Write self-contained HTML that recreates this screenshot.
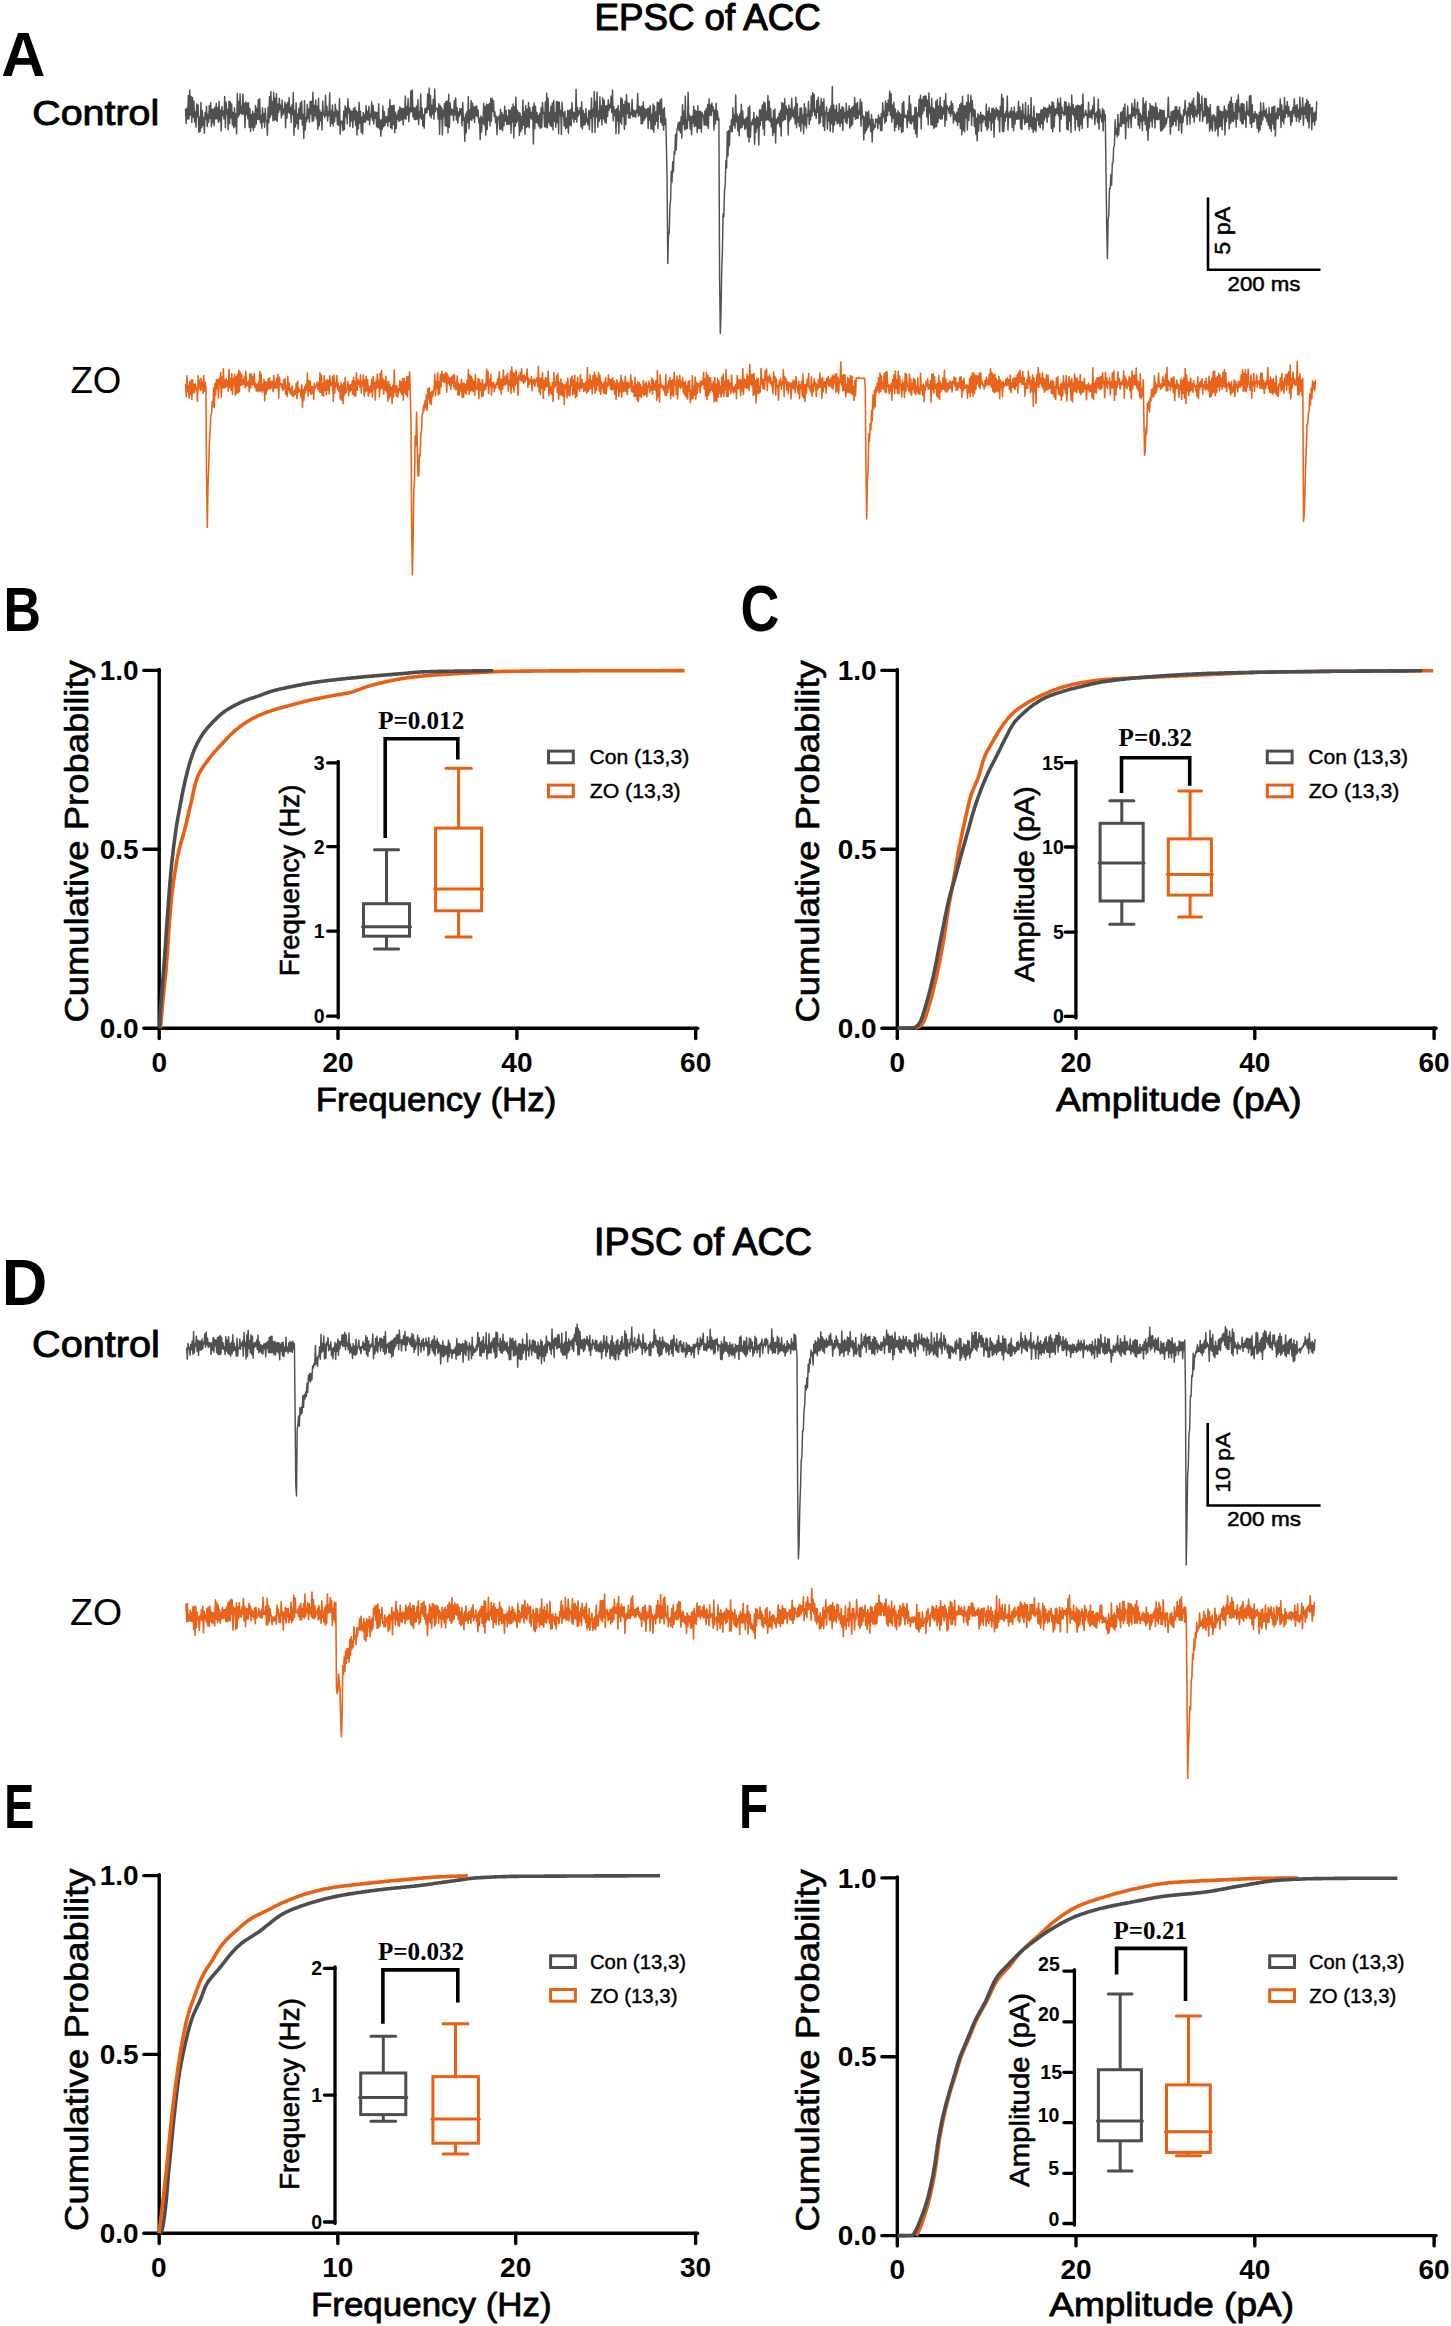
<!DOCTYPE html>
<html><head><meta charset="utf-8"><title>EPSC/IPSC of ACC</title><style>html,body{margin:0;padding:0;background:#fff;overflow:hidden}svg{display:block}</style></head><body>
<svg width="1451" height="2326" viewBox="0 0 1451 2326">
<rect width="1451" height="2326" fill="#fff"/>
<text x="594.5" y="30.3" font-family='"Liberation Sans", sans-serif' font-size="37.33" font-weight="normal" text-anchor="start" fill="#000" textLength="226.3" lengthAdjust="spacingAndGlyphs" stroke="#000" stroke-width="1.1" stroke-linejoin="round">EPSC of ACC</text>
<text x="594.1" y="1255.3" font-family='"Liberation Sans", sans-serif' font-size="38.01" font-weight="normal" text-anchor="start" fill="#000" textLength="218.0" lengthAdjust="spacingAndGlyphs" stroke="#000" stroke-width="1.1" stroke-linejoin="round">IPSC of ACC</text>
<text x="1.3" y="75.5" font-family='"Liberation Sans", sans-serif' font-size="63.23" font-weight="bold" text-anchor="start" fill="#000" textLength="44.1" lengthAdjust="spacingAndGlyphs">A</text>
<text x="1.8" y="1305.0" font-family='"Liberation Sans", sans-serif' font-size="63.95" font-weight="bold" text-anchor="start" fill="#000" textLength="45.6" lengthAdjust="spacingAndGlyphs">D</text>
<text x="32.2" y="124.5" font-family='"Liberation Sans", sans-serif' font-size="35.65" font-weight="normal" text-anchor="start" fill="#000" textLength="127.0" lengthAdjust="spacingAndGlyphs" stroke="#000" stroke-width="0.9" stroke-linejoin="round">Control</text>
<text x="32.0" y="1356.8" font-family='"Liberation Sans", sans-serif' font-size="36.33" font-weight="normal" text-anchor="start" fill="#000" textLength="127.9" lengthAdjust="spacingAndGlyphs" stroke="#000" stroke-width="0.9" stroke-linejoin="round">Control</text>
<text x="70.4" y="392.7" font-family='"Liberation Sans", sans-serif' font-size="37.15" font-weight="normal" text-anchor="start" fill="#000" textLength="50.9" lengthAdjust="spacingAndGlyphs">ZO</text>
<text x="70.1" y="1624.6" font-family='"Liberation Sans", sans-serif' font-size="37.01" font-weight="normal" text-anchor="start" fill="#000" textLength="52.0" lengthAdjust="spacingAndGlyphs">ZO</text>
<polyline points="185.5,108.8 186.2,123.5 186.9,108.1 187.6,119.0 188.3,95.5 189.0,118.9 189.7,89.9 190.4,115.1 191.1,96.5 191.8,122.5 192.5,97.4 193.2,117.2 193.9,101.1 194.6,121.9 195.3,111.6 196.0,127.3 196.7,104.0 197.4,116.4 198.1,105.0 198.8,132.2 199.5,117.3 200.2,131.6 200.9,102.5 201.6,127.7 202.3,110.4 203.0,125.5 203.7,117.6 204.4,133.2 205.1,112.7 205.8,119.1 206.5,106.3 207.2,126.6 207.9,114.3 208.6,122.2 209.3,105.6 210.0,118.4 210.7,102.6 211.4,126.8 212.1,109.2 212.8,122.8 213.5,109.1 214.2,125.7 214.9,107.1 215.6,118.8 216.3,103.6 217.0,119.0 217.7,107.8 218.4,122.3 219.1,101.4 219.8,120.8 220.5,110.3 221.2,131.1 221.9,106.5 222.6,115.6 223.3,111.5 224.0,119.0 224.7,96.4 225.4,127.8 226.1,102.0 226.8,113.9 227.5,109.5 228.2,129.7 228.9,101.2 229.6,123.6 230.3,101.7 231.0,118.1 231.7,103.9 232.4,125.0 233.1,112.4 233.8,127.8 234.5,107.7 235.2,126.5 235.9,113.7 236.6,133.9 237.3,93.4 238.0,117.1 238.7,101.6 239.4,115.0 240.1,93.8 240.8,113.2 241.5,106.5 242.2,114.5 242.9,94.1 243.6,114.0 244.3,103.4 245.0,127.8 245.7,102.0 246.4,114.8 247.1,102.9 247.8,118.7 248.5,102.8 249.2,127.2 249.9,108.6 250.6,131.4 251.3,114.4 252.0,127.1 252.7,111.1 253.4,130.5 254.1,113.4 254.8,127.3 255.5,105.4 256.2,124.1 256.9,108.3 257.6,119.4 258.3,99.7 259.0,119.5 259.7,98.8 260.4,122.7 261.1,115.4 261.8,128.3 262.5,107.8 263.2,121.8 263.9,113.4 264.6,127.2 265.3,108.4 266.0,120.5 266.7,120.5 267.4,135.2 268.1,107.3 268.8,122.7 269.5,96.7 270.2,117.6 270.9,91.4 271.6,114.7 272.3,101.5 273.0,120.9 273.7,92.5 274.4,120.0 275.1,98.2 275.8,120.0 276.5,93.7 277.2,121.4 277.9,103.9 278.6,112.3 279.3,98.2 280.0,109.7 280.7,105.2 281.4,117.9 282.1,99.9 282.8,115.0 283.5,108.9 284.2,112.7 284.9,101.9 285.6,127.8 286.3,104.3 287.0,118.0 287.7,102.5 288.4,112.3 289.1,97.6 289.8,113.5 290.5,107.5 291.2,122.4 291.9,105.0 292.6,114.6 293.3,92.5 294.0,135.3 294.7,110.4 295.4,127.1 296.1,102.8 296.8,123.7 297.5,113.9 298.2,129.1 298.9,108.2 299.6,118.8 300.3,103.0 301.0,119.1 301.7,101.0 302.4,125.3 303.1,114.5 303.8,138.6 304.5,100.8 305.2,130.1 305.9,118.1 306.6,121.8 307.3,104.5 308.0,118.5 308.7,109.2 309.4,122.3 310.1,101.4 310.8,113.9 311.5,101.2 312.2,121.6 312.9,92.3 313.6,120.8 314.3,105.4 315.0,115.7 315.7,100.1 316.4,118.8 317.1,106.1 317.8,129.5 318.5,98.2 319.2,125.7 319.9,110.3 320.6,120.8 321.3,112.5 322.0,129.9 322.7,101.2 323.4,114.9 324.1,113.9 324.8,117.4 325.5,95.3 326.2,115.4 326.9,106.4 327.6,120.9 328.3,111.6 329.0,115.5 329.7,92.8 330.4,126.3 331.1,110.6 331.8,123.4 332.5,105.0 333.2,125.7 333.9,112.3 334.6,121.7 335.3,104.2 336.0,116.4 336.7,109.9 337.4,124.6 338.1,111.8 338.8,125.4 339.5,98.6 340.2,134.3 340.9,121.3 341.6,123.0 342.3,121.1 343.0,130.6 343.7,111.3 344.4,129.5 345.1,105.8 345.8,116.9 346.5,107.9 347.2,123.7 347.9,98.8 348.6,112.8 349.3,108.2 350.0,126.4 350.7,110.3 351.4,121.0 352.1,111.5 352.8,127.5 353.5,108.5 354.2,119.9 354.9,107.3 355.6,125.4 356.3,110.8 357.0,135.1 357.7,111.9 358.4,128.8 359.1,102.2 359.8,123.3 360.5,111.1 361.2,132.2 361.9,117.1 362.6,134.0 363.3,112.6 364.0,122.3 364.7,114.6 365.4,122.1 366.1,105.5 366.8,120.0 367.5,111.3 368.2,120.1 368.9,106.4 369.6,124.8 370.3,114.1 371.0,117.1 371.7,102.0 372.4,120.3 373.1,105.4 373.8,123.9 374.5,111.7 375.2,118.3 375.9,112.3 376.6,126.8 377.3,112.5 378.0,127.4 378.7,103.7 379.4,128.7 380.1,120.0 380.8,136.1 381.5,119.7 382.2,129.4 382.9,105.9 383.6,126.7 384.3,111.7 385.0,125.4 385.7,116.8 386.4,122.3 387.1,116.8 387.8,126.1 388.5,108.5 389.2,121.4 389.9,99.5 390.6,127.6 391.3,105.8 392.0,129.0 392.7,105.6 393.4,124.4 394.1,105.3 394.8,132.8 395.5,112.2 396.2,128.4 396.9,115.1 397.6,119.4 398.3,110.5 399.0,121.4 399.7,106.9 400.4,120.4 401.1,108.1 401.8,119.6 402.5,108.8 403.2,124.9 403.9,108.5 404.6,118.4 405.3,96.1 406.0,119.3 406.7,106.6 407.4,115.0 408.1,98.6 408.8,121.7 409.5,107.7 410.2,112.5 410.9,90.7 411.6,111.5 412.3,90.0 413.0,117.1 413.7,107.7 414.4,119.4 415.1,107.9 415.8,119.7 416.5,106.1 417.2,119.1 417.9,99.7 418.6,124.6 419.3,111.6 420.0,117.5 420.7,94.0 421.4,119.0 422.1,107.9 422.8,126.1 423.5,114.8 424.2,128.1 424.9,108.7 425.6,113.0 426.3,107.8 427.0,112.7 427.7,94.1 428.4,109.3 429.1,88.1 429.8,115.8 430.5,95.6 431.2,117.9 431.9,105.2 432.6,114.1 433.3,99.2 434.0,119.1 434.7,89.1 435.4,111.7 436.1,108.5 436.8,108.2 437.5,108.3 438.2,119.0 438.9,103.8 439.6,134.2 440.3,105.6 441.0,118.8 441.7,107.6 442.4,135.0 443.1,110.0 443.8,116.2 444.5,103.6 445.2,125.8 445.9,101.4 446.6,126.3 447.3,101.1 448.0,133.0 448.7,94.3 449.4,127.5 450.1,102.8 450.8,115.1 451.5,108.9 452.2,114.8 452.9,109.6 453.6,120.4 454.3,100.5 455.0,114.7 455.7,98.0 456.4,120.1 457.1,107.6 457.8,123.0 458.5,111.9 459.2,116.5 459.9,108.6 460.6,114.7 461.3,108.8 462.0,125.7 462.7,102.4 463.4,120.2 464.1,117.7 464.8,141.3 465.5,114.3 466.2,132.9 466.9,111.7 467.6,122.5 468.3,96.7 469.0,128.8 469.7,109.9 470.4,119.8 471.1,100.6 471.8,120.4 472.5,103.0 473.2,118.3 473.9,107.0 474.6,122.4 475.3,106.5 476.0,115.8 476.7,106.0 477.4,116.7 478.1,110.0 478.8,122.7 479.5,118.4 480.2,139.5 480.9,116.1 481.6,132.0 482.3,117.6 483.0,123.6 483.7,103.4 484.4,125.1 485.1,106.8 485.8,134.9 486.5,104.1 487.2,129.6 487.9,104.7 488.6,120.6 489.3,103.4 490.0,125.9 490.7,98.2 491.4,121.2 492.1,98.4 492.8,111.4 493.5,100.8 494.2,116.5 494.9,111.9 495.6,122.7 496.3,116.3 497.0,134.7 497.7,117.5 498.4,118.8 499.1,115.8 499.8,129.5 500.5,109.2 501.2,128.9 501.9,112.4 502.6,130.6 503.3,114.7 504.0,125.7 504.7,106.3 505.4,121.1 506.1,110.5 506.8,124.5 507.5,116.1 508.2,124.4 508.9,109.6 509.6,124.0 510.3,110.4 511.0,133.2 511.7,107.8 512.4,122.0 513.1,104.0 513.8,137.9 514.5,106.8 515.2,126.3 515.9,97.1 516.6,122.8 517.3,110.1 518.0,120.9 518.7,112.3 519.4,135.6 520.1,113.1 520.8,131.5 521.5,116.4 522.2,128.9 522.9,100.0 523.6,125.0 524.3,111.6 525.0,134.3 525.7,105.5 526.4,127.5 527.1,109.2 527.8,126.5 528.5,102.5 529.2,127.8 529.9,107.5 530.6,118.1 531.3,112.6 532.0,119.5 532.7,107.1 533.4,144.1 534.1,103.0 534.8,128.8 535.5,106.1 536.2,122.2 536.9,112.5 537.6,123.6 538.3,115.5 539.0,126.6 539.7,113.4 540.4,128.4 541.1,107.7 541.8,127.4 542.5,102.5 543.2,113.2 543.9,112.9 544.6,126.8 545.3,102.0 546.0,127.3 546.7,93.1 547.4,127.9 548.1,98.2 548.8,122.6 549.5,112.4 550.2,125.5 550.9,106.3 551.6,126.5 552.3,102.9 553.0,129.9 553.7,100.5 554.4,121.2 555.1,112.6 555.8,127.2 556.5,101.5 557.2,122.7 557.9,101.8 558.6,133.8 559.3,102.3 560.0,115.5 560.7,110.4 561.4,134.4 562.1,102.3 562.8,116.1 563.5,113.0 564.2,126.0 564.9,111.2 565.6,128.6 566.3,118.3 567.0,127.8 567.7,110.6 568.4,133.2 569.1,110.4 569.8,125.1 570.5,109.4 571.2,126.0 571.9,102.6 572.6,118.5 573.3,112.1 574.0,122.3 574.7,112.5 575.4,119.2 576.1,89.4 576.8,122.1 577.5,107.7 578.2,116.0 578.9,110.9 579.6,113.5 580.3,107.5 581.0,126.8 581.7,101.7 582.4,129.0 583.1,110.3 583.8,125.1 584.5,113.8 585.2,124.4 585.9,108.6 586.6,121.9 587.3,118.4 588.0,124.9 588.7,110.9 589.4,129.5 590.1,110.2 590.8,118.3 591.5,97.9 592.2,132.3 592.9,109.1 593.6,116.2 594.3,91.6 595.0,132.6 595.7,101.4 596.4,116.9 597.1,92.2 597.8,127.2 598.5,110.9 599.2,121.3 599.9,96.9 600.6,118.7 601.3,106.0 602.0,125.0 602.7,97.8 603.4,118.8 604.1,100.0 604.8,122.0 605.5,106.0 606.2,123.3 606.9,105.6 607.6,116.2 608.3,99.8 609.0,110.2 609.7,104.5 610.4,107.7 611.1,96.2 611.8,112.5 612.5,90.0 613.2,120.9 613.9,106.6 614.6,115.5 615.3,109.8 616.0,133.8 616.7,108.8 617.4,120.9 618.1,105.4 618.8,133.7 619.5,111.3 620.2,122.1 620.9,97.5 621.6,124.3 622.3,99.2 623.0,116.2 623.7,104.5 624.4,129.3 625.1,101.2 625.8,124.7 626.5,94.4 627.2,113.6 627.9,103.1 628.6,117.9 629.3,103.3 630.0,118.2 630.7,112.6 631.4,114.7 632.1,99.4 632.8,116.8 633.5,110.0 634.2,116.2 634.9,111.1 635.6,117.3 636.3,109.9 637.0,112.6 637.7,93.4 638.4,116.3 639.1,106.3 639.8,114.9 640.5,107.1 641.2,124.0 641.9,106.0 642.6,123.4 643.3,101.7 644.0,120.5 644.7,108.6 645.4,118.3 646.1,109.5 646.8,116.2 647.5,108.7 648.2,128.6 648.9,108.0 649.6,120.1 650.3,105.6 651.0,128.9 651.7,114.3 652.4,129.2 653.1,104.0 653.8,132.3 654.5,106.1 655.2,124.8 655.9,112.0 656.6,121.2 657.3,102.0 658.0,128.6 658.7,102.7 659.4,114.2 660.1,99.9 660.8,122.4 661.5,98.8 662.2,125.1 662.9,109.4 663.6,130.0 664.3,107.6 665.0,124.4 665.7,118.8 666.4,144.7 667.1,183.1 667.8,263.6 668.5,232.5 669.2,233.7 669.9,206.7 670.6,200.0 671.3,171.3 672.0,182.3 672.7,161.7 673.4,171.7 674.1,151.8 674.8,154.2 675.5,134.3 676.2,149.9 676.9,130.6 677.6,127.2 678.3,122.8 679.0,130.5 679.7,122.0 680.4,132.8 681.1,116.8 681.8,138.2 682.5,104.6 683.2,124.4 683.9,111.3 684.6,129.8 685.3,96.3 686.0,129.1 686.7,119.6 687.4,128.2 688.1,92.2 688.8,120.2 689.5,115.0 690.2,129.3 690.9,116.6 691.6,134.8 692.3,116.1 693.0,123.3 693.7,106.2 694.4,126.7 695.1,110.3 695.8,126.0 696.5,111.2 697.2,132.6 697.9,105.8 698.6,128.4 699.3,111.5 700.0,128.6 700.7,111.2 701.4,132.1 702.1,112.7 702.8,116.4 703.5,115.1 704.2,125.3 704.9,110.9 705.6,124.7 706.3,108.5 707.0,126.0 707.7,104.4 708.4,128.5 709.1,98.6 709.8,115.0 710.5,104.9 711.2,115.6 711.9,103.0 712.6,111.0 713.3,106.9 714.0,130.0 714.7,110.3 715.4,123.8 716.1,103.2 716.8,119.8 717.5,111.1 718.2,120.4 718.9,118.5 719.6,278.9 720.3,333.5 721.0,312.4 721.7,270.9 722.4,251.4 723.1,213.7 723.8,216.8 724.5,190.7 725.2,185.7 725.9,160.7 726.6,168.1 727.3,131.4 728.0,156.0 728.7,130.6 729.4,145.8 730.1,125.9 730.8,131.0 731.5,119.7 732.2,131.9 732.9,107.7 733.6,125.0 734.3,114.7 735.0,128.2 735.7,95.0 736.4,121.9 737.1,114.1 737.8,130.7 738.5,116.3 739.2,135.8 739.9,113.9 740.6,127.9 741.3,104.3 742.0,127.4 742.7,110.9 743.4,124.5 744.1,119.8 744.8,129.4 745.5,118.6 746.2,127.9 746.9,116.9 747.6,136.7 748.3,107.6 749.0,141.9 749.7,106.0 750.4,137.3 751.1,122.4 751.8,124.8 752.5,119.7 753.2,124.5 753.9,112.4 754.6,144.3 755.3,118.7 756.0,132.4 756.7,116.0 757.4,127.9 758.1,117.6 758.8,145.1 759.5,109.9 760.2,125.4 760.9,109.9 761.6,120.3 762.3,104.9 763.0,128.8 763.7,101.9 764.4,135.2 765.1,103.0 765.8,120.5 766.5,111.8 767.2,119.8 767.9,95.5 768.6,120.1 769.3,101.2 770.0,121.7 770.7,108.6 771.4,126.8 772.1,118.6 772.8,135.6 773.5,110.6 774.2,132.5 774.9,109.0 775.6,142.9 776.3,119.4 777.0,124.1 777.7,117.4 778.4,122.7 779.1,113.2 779.8,126.6 780.5,110.2 781.2,136.0 781.9,102.6 782.6,121.1 783.3,103.6 784.0,120.1 784.7,98.8 785.4,119.4 786.1,105.9 786.8,114.1 787.5,109.3 788.2,135.1 788.9,105.1 789.6,121.0 790.3,108.6 791.0,118.7 791.7,98.4 792.4,116.2 793.1,109.9 793.8,117.9 794.5,107.2 795.2,124.1 795.9,97.2 796.6,127.7 797.3,103.7 798.0,122.0 798.7,117.1 799.4,126.5 800.1,107.9 800.8,131.2 801.5,107.9 802.2,122.9 802.9,115.1 803.6,133.7 804.3,103.7 805.0,125.0 805.7,107.9 806.4,128.1 807.1,114.6 807.8,116.1 808.5,101.5 809.2,124.4 809.9,110.8 810.6,120.0 811.3,96.0 812.0,116.0 812.7,92.7 813.4,111.7 814.1,94.2 814.8,115.3 815.5,109.4 816.2,118.5 816.9,100.2 817.6,112.3 818.3,97.2 819.0,123.9 819.7,106.2 820.4,122.5 821.1,98.4 821.8,115.5 822.5,102.3 823.2,126.5 823.9,98.8 824.6,130.5 825.3,113.5 826.0,111.8 826.7,106.9 827.4,129.1 828.1,112.8 828.8,121.1 829.5,109.0 830.2,131.2 830.9,105.9 831.6,123.8 832.3,86.4 833.0,132.3 833.7,104.9 834.4,125.0 835.1,109.7 835.8,120.6 836.5,105.1 837.2,124.0 837.9,112.8 838.6,123.0 839.3,103.6 840.0,126.6 840.7,109.7 841.4,122.7 842.1,106.6 842.8,130.5 843.5,107.7 844.2,118.1 844.9,112.5 845.6,122.1 846.3,103.2 847.0,123.4 847.7,111.1 848.4,117.4 849.1,105.7 849.8,128.1 850.5,109.1 851.2,126.0 851.9,107.4 852.6,124.2 853.3,106.1 854.0,116.2 854.7,97.4 855.4,119.3 856.1,103.8 856.8,118.6 857.5,102.4 858.2,118.1 858.9,110.6 859.6,114.2 860.3,99.2 861.0,126.3 861.7,102.3 862.4,118.0 863.1,115.7 863.8,139.9 864.5,117.0 865.2,132.9 865.9,111.5 866.6,130.4 867.3,112.6 868.0,127.8 868.7,111.0 869.4,125.0 870.1,119.6 870.8,131.7 871.5,114.4 872.2,141.9 872.9,119.2 873.6,129.9 874.3,125.2 875.0,127.5 875.7,119.0 876.4,122.0 877.1,119.3 877.8,128.6 878.5,115.0 879.2,123.4 879.9,117.7 880.6,130.4 881.3,113.5 882.0,130.6 882.7,102.7 883.4,116.9 884.1,111.5 884.8,123.2 885.5,101.0 886.2,121.4 886.9,103.5 887.6,115.4 888.3,99.9 889.0,110.9 889.7,91.1 890.4,115.6 891.1,93.6 891.8,122.2 892.5,105.1 893.2,118.0 893.9,102.3 894.6,131.0 895.3,108.9 896.0,127.2 896.7,113.1 897.4,124.1 898.1,110.6 898.8,129.6 899.5,112.8 900.2,126.4 900.9,114.5 901.6,132.6 902.3,103.2 903.0,131.5 903.7,101.5 904.4,117.5 905.1,115.0 905.8,117.2 906.5,115.2 907.2,127.8 907.9,110.4 908.6,120.8 909.3,95.7 910.0,123.1 910.7,104.1 911.4,123.9 912.1,116.2 912.8,121.4 913.5,115.6 914.2,129.1 914.9,107.3 915.6,133.8 916.3,107.8 917.0,137.2 917.7,113.1 918.4,115.8 919.1,99.3 919.8,117.1 920.5,95.3 921.2,128.9 921.9,99.7 922.6,113.9 923.3,96.8 924.0,110.7 924.7,96.0 925.4,106.3 926.1,96.0 926.8,117.0 927.5,100.2 928.2,124.7 928.9,92.9 929.6,113.0 930.3,106.9 931.0,124.7 931.7,98.4 932.4,125.2 933.1,107.6 933.8,128.5 934.5,109.0 935.2,127.1 935.9,101.3 936.6,126.8 937.3,99.5 938.0,122.6 938.7,106.3 939.4,117.9 940.1,97.3 940.8,119.4 941.5,106.2 942.2,118.8 942.9,107.9 943.6,114.1 944.3,100.4 945.0,126.2 945.7,93.6 946.4,120.1 947.1,105.5 947.8,108.4 948.5,108.0 949.2,113.2 949.9,106.1 950.6,116.2 951.3,101.3 952.0,113.7 952.7,103.7 953.4,122.9 954.1,112.0 954.8,119.8 955.5,114.2 956.2,121.2 956.9,112.1 957.6,125.4 958.3,108.7 959.0,122.1 959.7,104.8 960.4,128.6 961.1,103.1 961.8,134.8 962.5,96.3 963.2,130.4 963.9,105.8 964.6,132.0 965.3,105.8 966.0,117.9 966.7,102.4 967.4,130.1 968.1,94.8 968.8,120.6 969.5,103.2 970.2,111.9 970.9,95.5 971.6,125.5 972.3,100.8 973.0,116.1 973.7,109.0 974.4,126.6 975.1,110.1 975.8,134.2 976.5,118.1 977.2,141.1 977.9,113.7 978.6,131.1 979.3,115.6 980.0,123.1 980.7,112.2 981.4,131.2 982.1,114.9 982.8,122.5 983.5,115.6 984.2,119.4 984.9,116.6 985.6,126.2 986.3,104.1 987.0,130.3 987.7,111.8 988.4,128.1 989.1,107.4 989.8,120.4 990.5,113.8 991.2,130.3 991.9,108.4 992.6,122.5 993.3,108.3 994.0,137.3 994.7,110.1 995.4,118.7 996.1,107.7 996.8,116.1 997.5,109.6 998.2,120.0 998.9,111.0 999.6,131.9 1000.3,106.5 1001.0,116.6 1001.7,94.1 1002.4,131.2 1003.1,98.2 1003.8,131.7 1004.5,113.9 1005.2,121.3 1005.9,111.4 1006.6,117.0 1007.3,96.1 1008.0,130.1 1008.7,113.1 1009.4,117.3 1010.1,111.2 1010.8,117.4 1011.5,107.6 1012.2,127.5 1012.9,111.7 1013.6,130.7 1014.3,107.0 1015.0,124.0 1015.7,113.3 1016.4,119.3 1017.1,111.7 1017.8,119.1 1018.5,101.3 1019.2,118.9 1019.9,107.0 1020.6,128.6 1021.3,110.9 1022.0,129.6 1022.7,103.9 1023.4,118.5 1024.1,114.9 1024.8,124.4 1025.5,102.4 1026.2,122.5 1026.9,117.5 1027.6,122.2 1028.3,105.6 1029.0,129.5 1029.7,115.3 1030.4,126.4 1031.1,97.6 1031.8,128.5 1032.5,117.4 1033.2,132.4 1033.9,106.1 1034.6,129.7 1035.3,118.2 1036.0,131.5 1036.7,113.4 1037.4,120.2 1038.1,113.9 1038.8,125.2 1039.5,113.6 1040.2,127.6 1040.9,109.9 1041.6,123.6 1042.3,109.8 1043.0,129.8 1043.7,107.3 1044.4,120.0 1045.1,107.7 1045.8,117.0 1046.5,108.6 1047.2,122.2 1047.9,108.2 1048.6,116.6 1049.3,104.9 1050.0,112.9 1050.7,106.5 1051.4,128.5 1052.1,101.7 1052.8,131.8 1053.5,102.7 1054.2,126.9 1054.9,108.6 1055.6,115.2 1056.3,108.7 1057.0,113.3 1057.7,98.7 1058.4,115.5 1059.1,103.2 1059.8,131.7 1060.5,98.0 1061.2,119.1 1061.9,107.0 1062.6,113.0 1063.3,112.4 1064.0,115.6 1064.7,101.7 1065.4,114.5 1066.1,102.3 1066.8,129.0 1067.5,106.5 1068.2,130.3 1068.9,103.2 1069.6,121.1 1070.3,106.9 1071.0,132.5 1071.7,95.1 1072.4,114.1 1073.1,104.4 1073.8,115.7 1074.5,108.6 1075.2,130.3 1075.9,105.9 1076.6,119.4 1077.3,105.3 1078.0,126.5 1078.7,105.4 1079.4,130.7 1080.1,106.1 1080.8,124.6 1081.5,104.7 1082.2,128.4 1082.9,94.0 1083.6,117.8 1084.3,114.8 1085.0,115.4 1085.7,110.2 1086.4,115.2 1087.1,114.1 1087.8,127.4 1088.5,102.3 1089.2,117.3 1089.9,111.6 1090.6,117.2 1091.3,109.8 1092.0,118.8 1092.7,105.9 1093.4,113.9 1094.1,97.1 1094.8,124.6 1095.5,113.3 1096.2,117.1 1096.9,111.7 1097.6,122.6 1098.3,99.0 1099.0,129.1 1099.7,109.4 1100.4,117.4 1101.1,115.3 1101.8,121.9 1102.5,108.5 1103.2,131.0 1103.9,110.1 1104.6,120.1 1105.3,114.6 1106.0,173.2 1106.7,224.8 1107.4,258.5 1108.1,220.0 1108.8,214.9 1109.5,188.2 1110.2,188.4 1110.9,174.7 1111.6,185.3 1112.3,163.2 1113.0,163.0 1113.7,147.0 1114.4,145.5 1115.1,119.7 1115.8,134.1 1116.5,129.0 1117.2,137.0 1117.9,114.4 1118.6,135.0 1119.3,123.8 1120.0,126.0 1120.7,112.6 1121.4,126.1 1122.1,111.4 1122.8,123.5 1123.5,107.7 1124.2,123.5 1124.9,104.0 1125.6,138.9 1126.3,117.5 1127.0,120.9 1127.7,106.1 1128.4,127.6 1129.1,115.1 1129.8,118.3 1130.5,114.5 1131.2,127.8 1131.9,103.3 1132.6,116.7 1133.3,107.4 1134.0,115.5 1134.7,99.2 1135.4,118.1 1136.1,109.7 1136.8,113.8 1137.5,102.2 1138.2,125.3 1138.9,109.6 1139.6,128.3 1140.3,113.4 1141.0,121.4 1141.7,115.4 1142.4,130.8 1143.1,97.7 1143.8,120.6 1144.5,103.9 1145.2,124.6 1145.9,101.5 1146.6,130.2 1147.3,117.6 1148.0,140.2 1148.7,111.3 1149.4,127.9 1150.1,103.6 1150.8,121.0 1151.5,106.0 1152.2,127.0 1152.9,106.0 1153.6,118.5 1154.3,107.4 1155.0,127.9 1155.7,103.0 1156.4,119.4 1157.1,107.5 1157.8,119.9 1158.5,113.2 1159.2,119.1 1159.9,109.5 1160.6,130.9 1161.3,110.1 1162.0,130.8 1162.7,110.6 1163.4,128.7 1164.1,110.4 1164.8,126.9 1165.5,118.0 1166.2,124.0 1166.9,118.6 1167.6,117.0 1168.3,97.2 1169.0,117.3 1169.7,116.7 1170.4,134.1 1171.1,112.0 1171.8,126.5 1172.5,111.1 1173.2,124.8 1173.9,110.5 1174.6,121.2 1175.3,106.6 1176.0,125.9 1176.7,106.8 1177.4,119.1 1178.1,110.5 1178.8,130.6 1179.5,107.1 1180.2,122.7 1180.9,114.2 1181.6,133.2 1182.3,116.5 1183.0,122.3 1183.7,109.8 1184.4,115.7 1185.1,100.5 1185.8,114.0 1186.5,111.7 1187.2,124.6 1187.9,108.0 1188.6,115.7 1189.3,102.9 1190.0,124.1 1190.7,104.1 1191.4,114.1 1192.1,101.3 1192.8,117.0 1193.5,98.3 1194.2,122.3 1194.9,106.0 1195.6,115.6 1196.3,110.6 1197.0,117.0 1197.7,92.1 1198.4,113.5 1199.1,94.0 1199.8,121.1 1200.5,104.6 1201.2,110.3 1201.9,96.0 1202.6,121.5 1203.3,111.6 1204.0,116.5 1204.7,98.2 1205.4,115.6 1206.1,98.6 1206.8,123.8 1207.5,106.4 1208.2,122.1 1208.9,107.9 1209.6,131.2 1210.3,104.6 1211.0,128.6 1211.7,116.2 1212.4,131.0 1213.1,114.6 1213.8,120.2 1214.5,115.4 1215.2,131.0 1215.9,117.3 1216.6,128.6 1217.3,106.3 1218.0,136.1 1218.7,106.6 1219.4,126.9 1220.1,110.7 1220.8,126.2 1221.5,111.6 1222.2,129.9 1222.9,111.8 1223.6,117.7 1224.3,106.1 1225.0,134.9 1225.7,109.6 1226.4,121.8 1227.1,111.2 1227.8,117.1 1228.5,104.3 1229.2,129.1 1229.9,101.5 1230.6,123.4 1231.3,97.2 1232.0,121.2 1232.7,103.4 1233.4,121.5 1234.1,112.6 1234.8,118.8 1235.5,103.4 1236.2,126.9 1236.9,100.1 1237.6,119.1 1238.3,94.8 1239.0,111.9 1239.7,107.2 1240.4,120.9 1241.1,103.7 1241.8,123.7 1242.5,103.5 1243.2,123.8 1243.9,104.3 1244.6,119.0 1245.3,112.1 1246.0,127.5 1246.7,101.4 1247.4,114.6 1248.1,110.7 1248.8,115.9 1249.5,95.9 1250.2,123.8 1250.9,95.5 1251.6,127.5 1252.3,104.5 1253.0,122.3 1253.7,114.1 1254.4,121.4 1255.1,111.5 1255.8,117.9 1256.5,113.8 1257.2,128.1 1257.9,115.2 1258.6,132.1 1259.3,112.3 1260.0,130.0 1260.7,102.6 1261.4,124.7 1262.1,111.2 1262.8,120.0 1263.5,103.0 1264.2,115.8 1264.9,110.9 1265.6,117.7 1266.3,108.8 1267.0,121.7 1267.7,114.5 1268.4,125.4 1269.1,107.6 1269.8,128.5 1270.5,113.9 1271.2,131.3 1271.9,107.5 1272.6,123.9 1273.3,106.7 1274.0,129.1 1274.7,105.9 1275.4,136.0 1276.1,113.0 1276.8,119.0 1277.5,108.1 1278.2,118.6 1278.9,108.6 1279.6,115.3 1280.3,99.0 1281.0,127.4 1281.7,104.9 1282.4,121.0 1283.1,110.8 1283.8,123.7 1284.5,97.8 1285.2,117.6 1285.9,106.2 1286.6,113.3 1287.3,101.6 1288.0,116.8 1288.7,106.6 1289.4,115.7 1290.1,111.6 1290.8,125.4 1291.5,111.1 1292.2,121.6 1292.9,107.7 1293.6,113.6 1294.3,98.7 1295.0,116.4 1295.7,105.7 1296.4,121.3 1297.1,104.5 1297.8,117.1 1298.5,109.6 1299.2,122.0 1299.9,97.2 1300.6,119.3 1301.3,108.0 1302.0,114.4 1302.7,97.7 1303.4,125.3 1304.1,107.3 1304.8,114.4 1305.5,103.6 1306.2,118.2 1306.9,99.4 1307.6,121.5 1308.3,101.5 1309.0,128.0 1309.7,104.5 1310.4,113.5 1311.1,108.0 1311.8,129.7 1312.5,107.6 1313.2,121.4 1313.9,113.2 1314.6,125.2 1315.3,112.1 1316.0,120.3 1316.7,101.2" fill="none" stroke="#505050" stroke-width="1.45" stroke-linejoin="round" stroke-linecap="butt"/>
<polyline points="185.6,383.7 186.3,396.8 187.0,375.7 187.7,391.5 188.4,385.6 189.1,398.2 189.8,381.7 190.5,394.8 191.2,379.9 191.9,399.4 192.6,380.0 193.3,392.9 194.0,384.4 194.7,392.2 195.4,383.9 196.1,389.7 196.8,387.7 197.5,401.2 198.2,375.7 198.9,388.2 199.6,380.0 200.3,390.5 201.0,378.3 201.7,389.5 202.4,382.0 203.1,393.4 203.8,375.3 204.5,390.9 205.2,382.3 205.9,387.8 206.6,478.3 207.3,527.4 208.0,486.6 208.7,466.5 209.4,441.7 210.1,431.5 210.8,415.8 211.5,414.2 212.2,401.9 212.9,406.6 213.6,387.9 214.3,407.4 215.0,383.4 215.7,394.7 216.4,379.5 217.1,388.6 217.8,379.8 218.5,398.0 219.2,378.2 219.9,385.3 220.6,372.2 221.3,397.3 222.0,376.9 222.7,387.7 223.4,368.8 224.1,387.9 224.8,380.2 225.5,387.5 226.2,378.7 226.9,386.2 227.6,380.7 228.3,391.2 229.0,369.4 229.7,387.1 230.4,378.6 231.1,390.3 231.8,373.8 232.5,394.5 233.2,378.6 233.9,385.4 234.6,374.6 235.3,395.3 236.0,376.5 236.7,393.2 237.4,374.4 238.1,392.8 238.8,370.2 239.5,391.8 240.2,372.1 240.9,385.3 241.6,374.6 242.3,385.0 243.0,379.4 243.7,384.2 244.4,376.4 245.1,387.8 245.8,371.4 246.5,385.9 247.2,382.2 247.9,385.5 248.6,380.7 249.3,391.8 250.0,373.8 250.7,387.7 251.4,373.9 252.1,384.8 252.8,376.8 253.5,385.0 254.2,373.6 254.9,387.2 255.6,383.2 256.3,391.2 257.0,384.2 257.7,390.8 258.4,382.2 259.1,391.6 259.8,371.6 260.5,390.8 261.2,374.3 261.9,392.1 262.6,384.2 263.3,390.5 264.0,379.3 264.7,401.0 265.4,381.7 266.1,394.0 266.8,382.2 267.5,390.5 268.2,379.1 268.9,388.3 269.6,377.8 270.3,389.2 271.0,381.5 271.7,387.4 272.4,381.4 273.1,391.6 273.8,375.6 274.5,388.4 275.2,382.2 275.9,387.5 276.6,378.4 277.3,388.2 278.0,374.2 278.7,398.2 279.4,377.2 280.1,384.6 280.8,383.8 281.5,387.6 282.2,384.1 282.9,390.5 283.6,380.1 284.3,389.0 285.0,378.5 285.7,394.2 286.4,385.9 287.1,396.8 287.8,376.3 288.5,390.4 289.2,383.1 289.9,392.6 290.6,388.2 291.3,394.6 292.0,386.1 292.7,396.4 293.4,391.7 294.1,395.7 294.8,389.9 295.5,394.3 296.2,383.4 296.9,398.7 297.6,381.2 298.3,392.7 299.0,388.7 299.7,391.3 300.4,390.1 301.1,397.6 301.8,384.7 302.5,407.4 303.2,389.6 303.9,400.1 304.6,386.8 305.3,392.8 306.0,384.3 306.7,389.8 307.4,373.1 308.1,396.1 308.8,380.6 309.5,390.9 310.2,381.0 310.9,394.5 311.6,386.5 312.3,393.0 313.0,386.7 313.7,399.4 314.4,383.2 315.1,388.4 315.8,386.3 316.5,386.1 317.2,382.0 317.9,389.1 318.6,383.0 319.3,391.9 320.0,372.9 320.7,392.4 321.4,375.0 322.1,395.3 322.8,383.8 323.5,396.2 324.2,375.8 324.9,390.5 325.6,381.0 326.3,394.8 327.0,379.3 327.7,390.1 328.4,380.5 329.1,393.9 329.8,375.8 330.5,385.4 331.2,383.0 331.9,386.2 332.6,376.4 333.3,401.4 334.0,375.0 334.7,393.3 335.4,382.8 336.1,386.6 336.8,375.6 337.5,389.2 338.2,383.2 338.9,391.5 339.6,386.5 340.3,398.9 341.0,382.4 341.7,400.1 342.4,384.9 343.1,403.8 343.8,382.8 344.5,394.9 345.2,377.5 345.9,392.9 346.6,389.3 347.3,389.2 348.0,381.8 348.7,395.7 349.4,385.1 350.1,391.5 350.8,384.6 351.5,390.1 352.2,380.8 352.9,394.2 353.6,377.2 354.3,395.8 355.0,381.1 355.7,396.3 356.4,372.5 357.1,390.2 357.8,379.2 358.5,384.3 359.2,381.1 359.9,387.0 360.6,374.8 361.3,393.2 362.0,382.1 362.7,385.2 363.4,375.1 364.1,396.1 364.8,379.9 365.5,391.9 366.2,376.5 366.9,390.7 367.6,379.6 368.3,396.0 369.0,386.8 369.7,392.8 370.4,385.7 371.1,391.9 371.8,379.4 372.5,397.0 373.2,376.6 373.9,388.9 374.6,382.5 375.3,400.1 376.0,380.8 376.7,388.2 377.4,374.0 378.1,387.6 378.8,380.2 379.5,396.8 380.2,373.2 380.9,388.7 381.6,370.6 382.3,388.0 383.0,378.7 383.7,394.1 384.4,380.5 385.1,390.2 385.8,376.3 386.5,391.6 387.2,382.4 387.9,401.2 388.6,381.2 389.3,397.8 390.0,384.9 390.7,395.9 391.4,387.5 392.1,403.4 392.8,385.2 393.5,397.1 394.2,370.1 394.9,392.0 395.6,386.0 396.3,396.2 397.0,385.8 397.7,397.2 398.4,388.9 399.1,390.5 399.8,380.6 400.5,392.1 401.2,382.1 401.9,394.3 402.6,378.4 403.3,400.2 404.0,378.5 404.7,392.8 405.4,381.7 406.1,394.8 406.8,376.7 407.5,397.0 408.2,376.4 408.9,389.2 409.6,371.9 410.3,394.1 411.0,422.3 411.7,529.6 412.4,575.0 413.1,540.9 413.8,490.8 414.5,480.9 415.2,435.8 415.9,445.4 416.6,412.3 417.3,446.6 418.0,475.9 418.7,476.0 419.4,454.9 420.1,456.0 420.8,433.5 421.5,431.4 422.2,414.8 422.9,413.0 423.6,405.0 424.3,410.1 425.0,400.8 425.7,407.8 426.4,394.9 427.1,410.3 427.8,388.8 428.5,398.9 429.2,387.6 429.9,403.1 430.6,392.6 431.3,404.5 432.0,391.3 432.7,396.3 433.4,390.6 434.1,390.4 434.8,374.1 435.5,395.6 436.2,381.1 436.9,388.5 437.6,372.5 438.3,394.9 439.0,381.8 439.7,393.7 440.4,374.5 441.1,386.8 441.8,371.4 442.5,380.9 443.2,374.5 443.9,382.3 444.6,373.7 445.3,382.3 446.0,372.6 446.7,392.1 447.4,374.1 448.1,383.1 448.8,377.2 449.5,385.2 450.2,378.3 450.9,389.3 451.6,377.1 452.3,383.2 453.0,375.2 453.7,387.1 454.4,374.5 455.1,389.6 455.8,382.0 456.5,389.1 457.2,375.9 457.9,395.0 458.6,383.5 459.3,395.0 460.0,384.9 460.7,391.0 461.4,379.2 462.1,396.9 462.8,383.0 463.5,397.4 464.2,383.2 464.9,392.5 465.6,384.5 466.3,394.5 467.0,380.6 467.7,389.7 468.4,369.7 469.1,394.5 469.8,374.7 470.5,391.0 471.2,376.3 471.9,390.4 472.6,378.9 473.3,391.8 474.0,381.6 474.7,395.2 475.4,374.2 476.1,389.6 476.8,387.6 477.5,388.9 478.2,378.4 478.9,398.8 479.6,379.6 480.3,390.2 481.0,383.5 481.7,396.7 482.4,379.5 483.1,396.1 483.8,384.4 484.5,390.2 485.2,383.7 485.9,389.0 486.6,369.0 487.3,385.5 488.0,371.3 488.7,393.8 489.4,379.1 490.1,385.8 490.8,374.6 491.5,395.3 492.2,382.7 492.9,386.9 493.6,382.2 494.3,391.7 495.0,385.0 495.7,388.2 496.4,382.6 497.1,384.6 497.8,378.8 498.5,388.0 499.2,371.7 499.9,389.9 500.6,379.5 501.3,393.9 502.0,379.1 502.7,388.9 503.4,370.1 504.1,385.2 504.8,377.1 505.5,384.7 506.2,375.2 506.9,383.9 507.6,373.4 508.3,391.3 509.0,380.8 509.7,385.7 510.4,371.1 511.1,393.6 511.8,367.0 512.5,386.7 513.2,372.9 513.9,392.1 514.6,373.0 515.3,385.4 516.0,370.4 516.7,383.1 517.4,377.1 518.1,395.5 518.8,375.4 519.5,379.4 520.2,372.3 520.9,380.5 521.6,368.8 522.3,381.7 523.0,375.8 523.7,383.4 524.4,374.8 525.1,381.4 525.8,376.5 526.5,379.1 527.2,369.0 527.9,387.4 528.6,378.1 529.3,384.3 530.0,380.0 530.7,381.6 531.4,376.6 532.1,390.7 532.8,379.9 533.5,383.9 534.2,378.9 534.9,386.2 535.6,380.3 536.3,381.1 537.0,377.8 537.7,386.4 538.4,366.2 539.1,392.0 539.8,378.6 540.5,394.2 541.2,377.7 541.9,388.2 542.6,372.9 543.3,398.4 544.0,380.2 544.7,390.2 545.4,377.7 546.1,387.0 546.8,378.4 547.5,386.5 548.2,371.3 548.9,395.7 549.6,382.7 550.3,393.0 551.0,387.1 551.7,394.1 552.4,382.8 553.1,401.6 553.8,372.6 554.5,387.7 555.2,382.0 555.9,385.6 556.6,375.5 557.3,392.2 558.0,373.5 558.7,399.1 559.4,382.3 560.1,394.2 560.8,379.0 561.5,395.3 562.2,383.4 562.9,395.9 563.6,384.7 564.3,404.4 565.0,385.1 565.7,388.5 566.4,382.4 567.1,397.7 567.8,378.0 568.5,394.8 569.2,385.5 569.9,395.9 570.6,378.7 571.3,385.4 572.0,376.0 572.7,394.8 573.4,379.9 574.1,393.4 574.8,375.2 575.5,397.8 576.2,382.7 576.9,396.3 577.6,377.2 578.3,388.4 579.0,383.9 579.7,391.2 580.4,374.7 581.1,388.4 581.8,379.2 582.5,387.4 583.2,383.2 583.9,391.8 584.6,383.3 585.3,390.5 586.0,381.8 586.7,393.1 587.4,367.6 588.1,391.6 588.8,379.8 589.5,389.6 590.2,374.9 590.9,388.2 591.6,381.1 592.3,394.0 593.0,375.5 593.7,386.0 594.4,372.2 595.1,393.2 595.8,375.7 596.5,390.4 597.2,378.3 597.9,385.2 598.6,372.6 599.3,390.9 600.0,375.3 600.7,394.5 601.4,381.8 602.1,387.7 602.8,384.7 603.5,392.9 604.2,381.7 604.9,393.7 605.6,377.5 606.3,393.6 607.0,383.3 607.7,386.3 608.4,374.7 609.1,385.0 609.8,379.3 610.5,389.2 611.2,379.6 611.9,390.0 612.6,377.7 613.3,389.5 614.0,380.7 614.7,394.2 615.4,383.1 616.1,399.5 616.8,379.9 617.5,388.4 618.2,383.6 618.9,396.5 619.6,382.0 620.3,391.6 621.0,375.2 621.7,397.3 622.4,380.5 623.1,391.6 623.8,382.8 624.5,391.0 625.2,376.6 625.9,391.2 626.6,382.5 627.3,394.7 628.0,382.2 628.7,388.2 629.4,383.7 630.1,386.8 630.8,374.7 631.5,391.3 632.2,380.9 632.9,392.1 633.6,386.0 634.3,396.4 635.0,377.2 635.7,396.5 636.4,384.8 637.1,399.9 637.8,381.8 638.5,401.8 639.2,382.3 639.9,396.1 640.6,384.6 641.3,397.6 642.0,387.3 642.7,393.6 643.4,380.5 644.1,395.6 644.8,384.1 645.5,394.2 646.2,381.9 646.9,396.8 647.6,385.6 648.3,387.4 649.0,381.2 649.7,392.4 650.4,385.3 651.1,390.2 651.8,377.9 652.5,394.3 653.2,379.9 653.9,389.5 654.6,383.2 655.3,390.3 656.0,380.5 656.7,400.2 657.4,370.5 658.1,396.8 658.8,384.8 659.5,401.9 660.2,375.1 660.9,387.2 661.6,384.3 662.3,388.4 663.0,385.8 663.7,390.7 664.4,386.5 665.1,395.0 665.8,374.7 666.5,395.5 667.2,385.1 667.9,392.2 668.6,381.1 669.3,388.1 670.0,377.5 670.7,398.7 671.4,380.8 672.1,394.8 672.8,379.6 673.5,396.4 674.2,372.5 674.9,384.6 675.6,382.0 676.3,394.5 677.0,376.0 677.7,398.9 678.4,380.1 679.1,386.5 679.8,375.2 680.5,388.4 681.2,381.5 681.9,387.0 682.6,377.6 683.3,392.4 684.0,382.5 684.7,395.0 685.4,381.1 686.1,397.1 686.8,385.6 687.5,399.1 688.2,381.4 688.9,391.5 689.6,380.3 690.3,402.8 691.0,390.5 691.7,399.0 692.4,375.7 693.1,398.4 693.8,386.0 694.5,395.1 695.2,377.1 695.9,399.0 696.6,382.6 697.3,393.1 698.0,383.9 698.7,385.9 699.4,383.0 700.1,392.8 700.8,381.1 701.5,386.1 702.2,381.0 702.9,384.5 703.6,372.4 704.3,389.0 705.0,379.1 705.7,396.2 706.4,372.2 707.1,399.5 707.8,375.2 708.5,395.4 709.2,377.5 709.9,392.7 710.6,378.0 711.3,390.1 712.0,383.7 712.7,391.5 713.4,381.6 714.1,401.8 714.8,377.5 715.5,401.0 716.2,384.3 716.9,401.3 717.6,378.3 718.3,397.2 719.0,380.8 719.7,393.1 720.4,386.4 721.1,397.0 721.8,377.1 722.5,393.1 723.2,374.0 723.9,396.4 724.6,381.9 725.3,390.1 726.0,369.5 726.7,396.6 727.4,380.3 728.1,396.5 728.8,380.0 729.5,389.3 730.2,383.1 730.9,393.4 731.6,375.0 732.3,390.8 733.0,387.3 733.7,393.0 734.4,386.6 735.1,391.6 735.8,384.5 736.5,398.7 737.2,375.5 737.9,388.7 738.6,380.1 739.3,388.4 740.0,379.3 740.7,395.8 741.4,380.4 742.1,390.7 742.8,368.8 743.5,394.4 744.2,378.5 744.9,387.0 745.6,379.9 746.3,388.5 747.0,374.0 747.7,388.0 748.4,376.5 749.1,390.5 749.8,364.6 750.5,384.4 751.2,374.4 751.9,385.9 752.6,374.6 753.3,395.5 754.0,373.2 754.7,393.9 755.4,380.5 756.1,402.9 756.8,378.9 757.5,393.6 758.2,378.6 758.9,393.2 759.6,386.0 760.3,392.1 761.0,368.6 761.7,383.9 762.4,379.1 763.1,388.6 763.8,379.5 764.5,389.6 765.2,371.0 765.9,380.2 766.6,369.1 767.3,390.5 768.0,377.1 768.7,381.6 769.4,375.2 770.1,383.3 770.8,377.6 771.5,385.6 772.2,381.6 772.9,393.7 773.6,371.9 774.3,382.4 775.0,376.7 775.7,395.1 776.4,378.9 777.1,386.9 777.8,385.4 778.5,400.2 779.2,380.8 779.9,385.2 780.6,378.3 781.3,389.3 782.0,381.9 782.7,384.4 783.4,369.5 784.1,396.4 784.8,376.6 785.5,382.6 786.2,378.9 786.9,390.4 787.6,381.8 788.3,393.8 789.0,382.8 789.7,385.8 790.4,383.1 791.1,399.0 791.8,383.2 792.5,388.3 793.2,380.0 793.9,389.2 794.6,381.3 795.3,392.8 796.0,376.5 796.7,387.2 797.4,386.3 798.1,393.5 798.8,381.3 799.5,398.6 800.2,384.6 800.9,388.6 801.6,381.6 802.3,396.1 803.0,374.0 803.7,398.0 804.4,384.5 805.1,401.5 805.8,384.5 806.5,393.1 807.2,379.2 807.9,386.2 808.6,373.6 809.3,388.9 810.0,386.8 810.7,392.1 811.4,376.6 812.1,396.2 812.8,384.2 813.5,391.6 814.2,378.9 814.9,386.0 815.6,382.5 816.3,396.8 817.0,384.3 817.7,389.3 818.4,379.5 819.1,387.1 819.8,373.1 820.5,387.3 821.2,378.7 821.9,398.3 822.6,377.6 823.3,391.8 824.0,381.8 824.7,387.0 825.4,381.7 826.1,393.1 826.8,378.4 827.5,383.9 828.2,376.6 828.9,386.1 829.6,379.8 830.3,385.8 831.0,377.9 831.7,387.6 832.4,375.3 833.1,389.2 833.8,376.3 834.5,383.1 835.2,373.9 835.9,392.5 836.6,373.7 837.3,390.8 838.0,377.6 838.7,393.5 839.4,380.1 840.1,382.4 840.8,362.1 841.5,384.9 842.2,375.5 842.9,390.9 843.6,374.5 844.3,390.5 845.0,374.9 845.7,396.9 846.4,384.3 847.1,392.5 847.8,377.4 848.5,392.3 849.2,379.1 849.9,392.6 850.6,375.4 851.3,393.6 852.0,376.4 852.7,394.4 853.4,386.2 854.1,400.4 854.8,380.8 855.5,395.9 856.2,377.8 856.9,378.6 857.6,378.1 858.3,378.5 859.0,377.4 859.7,377.9 860.4,378.2 861.1,378.4 861.8,378.5 862.5,378.6 863.2,378.0 863.9,378.4 864.6,378.2 865.3,388.1 866.0,469.3 866.7,518.9 867.4,480.7 868.1,470.6 868.8,433.5 869.5,441.3 870.2,423.9 870.9,429.4 871.6,410.8 872.3,421.1 873.0,394.9 873.7,408.7 874.4,390.2 875.1,406.7 875.8,387.6 876.5,392.1 877.2,383.4 877.9,390.6 878.6,377.8 879.3,392.9 880.0,373.1 880.7,391.7 881.4,375.7 882.1,388.7 882.8,382.2 883.5,389.0 884.2,373.6 884.9,391.9 885.6,372.5 886.3,392.6 887.0,371.6 887.7,386.1 888.4,384.9 889.1,393.6 889.8,385.0 890.5,390.9 891.2,383.3 891.9,400.2 892.6,379.6 893.3,386.9 894.0,374.8 894.7,393.4 895.4,371.1 896.1,388.6 896.8,379.9 897.5,393.3 898.2,371.4 898.9,393.4 899.6,375.9 900.3,385.0 901.0,384.8 901.7,397.0 902.4,380.4 903.1,390.0 903.8,383.1 904.5,397.5 905.2,373.3 905.9,391.1 906.6,374.6 907.3,386.0 908.0,386.5 908.7,390.8 909.4,374.0 910.1,392.9 910.8,379.0 911.5,395.5 912.2,383.4 912.9,389.5 913.6,378.2 914.3,393.0 915.0,379.5 915.7,394.5 916.4,386.8 917.1,391.9 917.8,377.9 918.5,393.9 919.2,387.5 919.9,394.2 920.6,373.2 921.3,389.8 922.0,385.7 922.7,395.3 923.4,384.1 924.1,401.8 924.8,386.8 925.5,389.9 926.2,381.4 926.9,386.5 927.6,378.9 928.3,389.1 929.0,384.6 929.7,388.7 930.4,380.6 931.1,402.3 931.8,374.4 932.5,389.8 933.2,373.7 933.9,393.0 934.6,376.5 935.3,388.3 936.0,384.8 936.7,396.0 937.4,383.3 938.1,397.4 938.8,375.6 939.5,399.4 940.2,381.7 940.9,391.8 941.6,384.0 942.3,389.0 943.0,377.9 943.7,389.3 944.4,370.0 945.1,390.9 945.8,379.0 946.5,392.3 947.2,383.3 947.9,390.6 948.6,382.9 949.3,388.3 950.0,380.7 950.7,388.5 951.4,382.3 952.1,391.9 952.8,381.4 953.5,383.3 954.2,377.0 954.9,386.0 955.6,378.0 956.3,390.6 957.0,383.1 957.7,389.8 958.4,382.8 959.1,386.9 959.8,377.3 960.5,388.2 961.2,376.7 961.9,397.4 962.6,380.9 963.3,390.8 964.0,378.4 964.7,388.3 965.4,385.2 966.1,387.6 966.8,384.7 967.5,398.2 968.2,385.9 968.9,392.1 969.6,378.9 970.3,396.6 971.0,376.2 971.7,392.0 972.4,373.0 973.1,396.3 973.8,373.0 974.5,393.3 975.2,375.3 975.9,389.5 976.6,375.9 977.3,383.4 978.0,375.9 978.7,386.4 979.4,373.1 980.1,388.4 980.8,372.9 981.5,384.0 982.2,381.6 982.9,385.6 983.6,385.1 984.3,389.0 985.0,380.5 985.7,386.3 986.4,377.0 987.1,384.2 987.8,379.8 988.5,385.3 989.2,374.2 989.9,384.5 990.6,368.8 991.3,387.1 992.0,372.7 992.7,390.9 993.4,374.7 994.1,392.6 994.8,374.2 995.5,391.9 996.2,378.5 996.9,391.0 997.6,380.9 998.3,391.8 999.0,376.4 999.7,398.8 1000.4,380.0 1001.1,387.2 1001.8,382.0 1002.5,396.8 1003.2,381.8 1003.9,386.9 1004.6,383.8 1005.3,385.1 1006.0,379.2 1006.7,385.7 1007.4,377.7 1008.1,384.9 1008.8,379.7 1009.5,389.8 1010.2,375.1 1010.9,392.8 1011.6,382.8 1012.3,387.2 1013.0,378.9 1013.7,387.4 1014.4,378.0 1015.1,389.5 1015.8,377.8 1016.5,386.0 1017.2,374.7 1017.9,393.0 1018.6,372.3 1019.3,382.8 1020.0,370.1 1020.7,382.1 1021.4,377.6 1022.1,384.6 1022.8,371.4 1023.5,384.3 1024.2,377.6 1024.9,396.4 1025.6,383.2 1026.3,388.5 1027.0,379.2 1027.7,388.3 1028.4,371.3 1029.1,384.1 1029.8,376.9 1030.5,392.9 1031.2,380.4 1031.9,390.5 1032.6,374.9 1033.3,406.3 1034.0,377.9 1034.7,391.9 1035.4,382.4 1036.1,403.6 1036.8,375.0 1037.5,386.7 1038.2,367.6 1038.9,387.5 1039.6,373.4 1040.3,383.5 1041.0,378.3 1041.7,385.9 1042.4,372.5 1043.1,388.6 1043.8,378.3 1044.5,392.3 1045.2,379.2 1045.9,390.8 1046.6,374.8 1047.3,389.5 1048.0,375.2 1048.7,389.0 1049.4,384.3 1050.1,388.1 1050.8,381.2 1051.5,393.5 1052.2,380.1 1052.9,393.7 1053.6,381.5 1054.3,397.3 1055.0,386.5 1055.7,399.4 1056.4,378.1 1057.1,388.1 1057.8,376.8 1058.5,393.7 1059.2,387.4 1059.9,395.2 1060.6,384.2 1061.3,400.2 1062.0,382.9 1062.7,396.0 1063.4,375.7 1064.1,388.7 1064.8,382.9 1065.5,393.5 1066.2,375.6 1066.9,401.1 1067.6,383.7 1068.3,387.0 1069.0,376.7 1069.7,387.0 1070.4,381.1 1071.1,400.2 1071.8,378.6 1072.5,401.9 1073.2,383.3 1073.9,391.8 1074.6,374.1 1075.3,390.9 1076.0,378.3 1076.7,392.5 1077.4,378.2 1078.1,388.6 1078.8,381.5 1079.5,392.6 1080.2,374.8 1080.9,394.7 1081.6,381.7 1082.3,392.4 1083.0,382.0 1083.7,391.6 1084.4,378.4 1085.1,388.5 1085.8,385.4 1086.5,399.8 1087.2,384.7 1087.9,389.2 1088.6,383.0 1089.3,391.9 1090.0,385.9 1090.7,391.1 1091.4,384.2 1092.1,397.7 1092.8,367.7 1093.5,399.4 1094.2,383.6 1094.9,392.2 1095.6,381.1 1096.3,393.0 1097.0,377.7 1097.7,387.3 1098.4,377.8 1099.1,388.6 1099.8,377.0 1100.5,389.8 1101.2,376.6 1101.9,388.2 1102.6,372.9 1103.3,383.7 1104.0,381.5 1104.7,397.8 1105.4,372.3 1106.1,386.1 1106.8,377.6 1107.5,388.6 1108.2,381.5 1108.9,383.1 1109.6,378.0 1110.3,394.7 1111.0,382.6 1111.7,387.7 1112.4,372.9 1113.1,388.1 1113.8,370.8 1114.5,400.4 1115.2,381.4 1115.9,394.7 1116.6,381.7 1117.3,387.3 1118.0,371.7 1118.7,384.2 1119.4,378.9 1120.1,389.2 1120.8,382.3 1121.5,384.7 1122.2,380.6 1122.9,384.6 1123.6,371.0 1124.3,398.2 1125.0,376.1 1125.7,386.8 1126.4,379.4 1127.1,388.6 1127.8,381.5 1128.5,385.6 1129.2,376.5 1129.9,390.8 1130.6,378.1 1131.3,398.5 1132.0,371.0 1132.7,388.8 1133.4,375.6 1134.1,384.7 1134.8,375.0 1135.5,385.0 1136.2,368.0 1136.9,388.2 1137.6,380.9 1138.3,390.6 1139.0,381.9 1139.7,397.0 1140.4,373.7 1141.1,398.7 1141.8,388.3 1142.5,396.2 1143.2,379.7 1143.9,420.1 1144.6,455.2 1145.3,450.1 1146.0,427.9 1146.7,433.8 1147.4,403.5 1148.1,408.9 1148.8,401.3 1149.5,411.9 1150.2,397.8 1150.9,401.0 1151.6,389.4 1152.3,396.9 1153.0,388.4 1153.7,396.7 1154.4,375.9 1155.1,394.0 1155.8,382.7 1156.5,392.1 1157.2,385.0 1157.9,386.8 1158.6,373.0 1159.3,386.8 1160.0,384.0 1160.7,389.1 1161.4,384.0 1162.1,387.8 1162.8,376.9 1163.5,386.1 1164.2,379.7 1164.9,385.2 1165.6,374.2 1166.3,390.9 1167.0,367.3 1167.7,390.7 1168.4,380.8 1169.1,385.0 1169.8,382.3 1170.5,390.2 1171.2,378.4 1171.9,386.4 1172.6,378.1 1173.3,392.4 1174.0,376.8 1174.7,400.8 1175.4,384.9 1176.1,388.5 1176.8,380.1 1177.5,388.6 1178.2,383.9 1178.9,397.1 1179.6,385.5 1180.3,389.7 1181.0,378.7 1181.7,399.5 1182.4,380.6 1183.1,393.2 1183.8,377.9 1184.5,397.9 1185.2,368.5 1185.9,403.4 1186.6,374.9 1187.3,391.0 1188.0,381.9 1188.7,395.5 1189.4,382.1 1190.1,391.5 1190.8,378.3 1191.5,390.2 1192.2,383.6 1192.9,392.1 1193.6,380.6 1194.3,385.6 1195.0,385.8 1195.7,390.7 1196.4,385.2 1197.1,396.6 1197.8,376.8 1198.5,398.4 1199.2,383.1 1199.9,388.8 1200.6,381.3 1201.3,386.3 1202.0,378.8 1202.7,394.3 1203.4,384.9 1204.1,387.9 1204.8,381.8 1205.5,389.9 1206.2,378.4 1206.9,389.0 1207.6,384.5 1208.3,390.7 1209.0,376.4 1209.7,396.9 1210.4,381.2 1211.1,396.8 1211.8,378.3 1212.5,393.8 1213.2,371.8 1213.9,391.9 1214.6,371.0 1215.3,395.8 1216.0,377.9 1216.7,392.4 1217.4,376.5 1218.1,386.7 1218.8,373.3 1219.5,390.7 1220.2,375.2 1220.9,386.5 1221.6,378.4 1222.3,389.1 1223.0,372.2 1223.7,386.1 1224.4,369.4 1225.1,387.6 1225.8,372.9 1226.5,391.6 1227.2,384.2 1227.9,386.5 1228.6,381.9 1229.3,389.0 1230.0,383.7 1230.7,394.9 1231.4,381.8 1232.1,392.4 1232.8,387.1 1233.5,392.0 1234.2,380.0 1234.9,396.7 1235.6,381.1 1236.3,387.7 1237.0,384.3 1237.7,391.6 1238.4,381.3 1239.1,387.2 1239.8,381.2 1240.5,387.0 1241.2,374.8 1241.9,385.1 1242.6,369.5 1243.3,391.4 1244.0,373.6 1244.7,390.6 1245.4,369.7 1246.1,391.9 1246.8,374.7 1247.5,387.3 1248.2,369.3 1248.9,384.0 1249.6,384.1 1250.3,390.3 1251.0,374.7 1251.7,398.2 1252.4,381.7 1253.1,385.7 1253.8,373.5 1254.5,391.4 1255.2,382.4 1255.9,383.1 1256.6,374.8 1257.3,387.1 1258.0,381.4 1258.7,383.5 1259.4,380.7 1260.1,388.4 1260.8,372.7 1261.5,387.9 1262.2,373.5 1262.9,389.0 1263.6,380.5 1264.3,393.4 1265.0,382.4 1265.7,388.3 1266.4,380.8 1267.1,384.4 1267.8,367.4 1268.5,388.7 1269.2,380.5 1269.9,392.6 1270.6,377.0 1271.3,392.4 1272.0,379.7 1272.7,394.2 1273.4,378.6 1274.1,392.4 1274.8,383.1 1275.5,393.0 1276.2,375.9 1276.9,395.5 1277.6,387.0 1278.3,396.5 1279.0,384.3 1279.7,385.8 1280.4,378.1 1281.1,391.3 1281.8,373.6 1282.5,389.6 1283.2,382.3 1283.9,393.3 1284.6,378.2 1285.3,384.6 1286.0,374.6 1286.7,390.3 1287.4,374.0 1288.1,385.3 1288.8,371.6 1289.5,393.5 1290.2,365.1 1290.9,398.9 1291.6,378.6 1292.3,388.0 1293.0,372.0 1293.7,383.5 1294.4,378.8 1295.1,385.3 1295.8,380.2 1296.5,385.5 1297.2,361.4 1297.9,395.3 1298.6,377.6 1299.3,394.2 1300.0,373.8 1300.7,391.3 1301.4,380.0 1302.1,395.6 1302.8,378.4 1303.5,521.4 1304.2,515.3 1304.9,494.4 1305.6,465.4 1306.3,448.9 1307.0,424.4 1307.7,424.0 1308.4,413.4 1309.1,411.4 1309.8,394.3 1310.5,405.2 1311.2,388.0 1311.9,398.6 1312.6,381.1 1313.3,388.6 1314.0,382.5 1314.7,390.9 1315.4,379.7" fill="none" stroke="#e9631a" stroke-width="1.55" stroke-linejoin="round" stroke-linecap="butt"/>
<polyline points="186.6,1347.8 187.3,1359.3 188.0,1343.4 188.7,1348.8 189.4,1347.4 190.1,1355.3 190.8,1344.3 191.5,1349.8 192.2,1341.1 192.9,1354.3 193.6,1331.6 194.3,1352.9 195.0,1343.8 195.7,1346.1 196.4,1336.3 197.1,1351.5 197.8,1340.2 198.5,1355.5 199.2,1341.0 199.9,1350.0 200.6,1341.1 201.3,1350.2 202.0,1338.7 202.7,1348.8 203.4,1342.1 204.1,1343.8 204.8,1333.9 205.5,1347.3 206.2,1332.0 206.9,1345.0 207.6,1338.2 208.3,1347.6 209.0,1342.4 209.7,1346.3 210.4,1342.9 211.1,1354.4 211.8,1342.9 212.5,1350.1 213.2,1337.4 213.9,1352.2 214.6,1338.9 215.3,1345.7 216.0,1340.2 216.7,1352.6 217.4,1337.6 218.1,1354.4 218.8,1336.7 219.5,1354.8 220.2,1335.4 220.9,1354.0 221.6,1337.1 222.3,1348.7 223.0,1342.8 223.7,1349.4 224.4,1346.9 225.1,1354.6 225.8,1336.6 226.5,1351.0 227.2,1340.0 227.9,1353.5 228.6,1336.7 229.3,1354.4 230.0,1343.8 230.7,1356.2 231.4,1342.3 232.1,1353.7 232.8,1334.7 233.5,1350.9 234.2,1343.2 234.9,1350.3 235.6,1347.0 236.3,1356.1 237.0,1338.3 237.7,1356.0 238.4,1347.8 239.1,1348.6 239.8,1339.0 240.5,1349.2 241.2,1343.1 241.9,1345.5 242.6,1341.0 243.3,1356.1 244.0,1332.5 244.7,1346.4 245.4,1342.4 246.1,1359.1 246.8,1334.7 247.5,1356.6 248.2,1330.3 248.9,1348.5 249.6,1340.8 250.3,1352.8 251.0,1334.9 251.7,1354.5 252.4,1336.3 253.1,1358.3 253.8,1342.9 254.5,1347.4 255.2,1342.7 255.9,1346.3 256.6,1340.1 257.3,1349.4 258.0,1335.1 258.7,1352.8 259.4,1341.7 260.1,1351.6 260.8,1344.6 261.5,1353.1 262.2,1345.6 262.9,1354.1 263.6,1344.0 264.3,1349.0 265.0,1343.4 265.7,1357.0 266.4,1342.5 267.1,1348.0 267.8,1341.4 268.5,1352.7 269.2,1337.4 269.9,1352.6 270.6,1336.4 271.3,1352.8 272.0,1336.1 272.7,1352.6 273.4,1341.8 274.1,1354.7 274.8,1341.2 275.5,1354.7 276.2,1342.8 276.9,1351.5 277.6,1342.6 278.3,1352.9 279.0,1342.7 279.7,1359.8 280.4,1344.1 281.1,1351.0 281.8,1342.6 282.5,1355.7 283.2,1342.1 283.9,1356.6 284.6,1347.3 285.3,1351.8 286.0,1337.3 286.7,1351.0 287.4,1347.3 288.1,1353.2 288.8,1342.9 289.5,1351.1 290.2,1341.5 290.9,1351.8 291.6,1342.2 292.3,1352.2 293.0,1341.1 293.7,1348.9 294.4,1343.6 295.1,1411.2 295.8,1485.1 296.5,1495.9 297.2,1429.2 297.9,1424.6 298.6,1415.9 299.3,1426.3 300.0,1407.8 300.7,1414.7 301.4,1407.0 302.1,1413.2 302.8,1395.7 303.5,1407.4 304.2,1394.7 304.9,1399.0 305.6,1392.0 306.3,1396.4 307.0,1383.3 307.7,1392.5 308.4,1375.2 309.1,1380.9 309.8,1373.5 310.5,1382.0 311.2,1373.6 311.9,1379.8 312.6,1366.1 313.3,1368.1 314.0,1363.5 314.7,1365.3 315.4,1345.4 316.1,1364.1 316.8,1357.8 317.5,1366.3 318.2,1355.7 318.9,1356.4 319.6,1346.8 320.3,1359.3 321.0,1334.5 321.7,1352.5 322.4,1343.5 323.1,1351.0 323.8,1336.0 324.5,1358.9 325.2,1344.3 325.9,1358.1 326.6,1342.2 327.3,1345.0 328.0,1337.6 328.7,1350.8 329.4,1345.2 330.1,1349.2 330.8,1341.9 331.5,1355.6 332.2,1348.6 332.9,1358.8 333.6,1347.4 334.3,1351.3 335.0,1342.4 335.7,1359.4 336.4,1344.0 337.1,1351.3 337.8,1338.9 338.5,1355.3 339.2,1341.3 339.9,1348.5 340.6,1341.7 341.3,1344.6 342.0,1334.9 342.7,1346.2 343.4,1334.6 344.1,1346.3 344.8,1332.2 345.5,1349.8 346.2,1334.8 346.9,1346.1 347.6,1343.2 348.3,1349.7 349.0,1332.9 349.7,1353.2 350.4,1344.0 351.1,1352.3 351.8,1347.4 352.5,1358.4 353.2,1343.6 353.9,1354.6 354.6,1346.1 355.3,1355.3 356.0,1339.4 356.7,1354.1 357.4,1347.3 358.1,1346.8 358.8,1340.1 359.5,1349.4 360.2,1346.8 360.9,1353.6 361.6,1346.7 362.3,1347.9 363.0,1341.5 363.7,1349.7 364.4,1343.8 365.1,1350.1 365.8,1335.6 366.5,1354.5 367.2,1337.5 367.9,1356.4 368.6,1341.0 369.3,1351.2 370.0,1345.1 370.7,1347.6 371.4,1343.7 372.1,1346.1 372.8,1333.9 373.5,1358.7 374.2,1346.2 374.9,1353.7 375.6,1338.6 376.3,1350.6 377.0,1336.3 377.7,1352.2 378.4,1342.8 379.1,1344.9 379.8,1338.5 380.5,1351.0 381.2,1338.0 381.9,1347.2 382.6,1339.5 383.3,1351.4 384.0,1336.5 384.7,1354.5 385.4,1331.6 386.1,1352.9 386.8,1344.7 387.5,1347.0 388.2,1343.0 388.9,1352.5 389.6,1342.5 390.3,1353.0 391.0,1341.0 391.7,1357.2 392.4,1340.4 393.1,1355.7 393.8,1338.8 394.5,1349.0 395.2,1337.6 395.9,1345.9 396.6,1335.0 397.3,1343.3 398.0,1334.6 398.7,1349.7 399.4,1330.1 400.1,1342.7 400.8,1339.9 401.5,1351.0 402.2,1339.8 402.9,1344.2 403.6,1335.5 404.3,1344.8 405.0,1331.5 405.7,1350.7 406.4,1337.3 407.1,1344.9 407.8,1336.7 408.5,1341.5 409.2,1339.0 409.9,1344.2 410.6,1337.8 411.3,1346.3 412.0,1333.5 412.7,1346.8 413.4,1334.9 414.1,1352.5 414.8,1339.9 415.5,1349.1 416.2,1343.1 416.9,1344.7 417.6,1335.2 418.3,1355.2 419.0,1337.9 419.7,1345.1 420.4,1343.5 421.1,1352.1 421.8,1340.4 422.5,1346.5 423.2,1338.4 423.9,1350.5 424.6,1342.9 425.3,1345.6 426.0,1338.1 426.7,1346.4 427.4,1342.0 428.1,1355.8 428.8,1337.5 429.5,1354.0 430.2,1344.7 430.9,1347.0 431.6,1341.1 432.3,1350.7 433.0,1339.5 433.7,1353.2 434.4,1335.9 435.1,1355.8 435.8,1341.3 436.5,1347.7 437.2,1338.8 437.9,1353.6 438.6,1342.3 439.3,1351.9 440.0,1344.5 440.7,1364.0 441.4,1345.6 442.1,1356.1 442.8,1341.0 443.5,1357.1 444.2,1345.6 444.9,1355.4 445.6,1346.6 446.3,1354.0 447.0,1346.2 447.7,1361.8 448.4,1340.1 449.1,1356.9 449.8,1343.3 450.5,1352.8 451.2,1349.6 451.9,1358.3 452.6,1350.3 453.3,1353.5 454.0,1349.3 454.7,1353.0 455.4,1347.1 456.1,1359.3 456.8,1338.5 457.5,1355.5 458.2,1343.8 458.9,1355.0 459.6,1343.6 460.3,1354.4 461.0,1344.4 461.7,1351.3 462.4,1343.4 463.1,1362.1 463.8,1344.1 464.5,1353.6 465.2,1340.4 465.9,1355.6 466.6,1341.7 467.3,1349.5 468.0,1346.8 468.7,1360.1 469.4,1342.9 470.1,1349.9 470.8,1346.1 471.5,1358.8 472.2,1337.2 472.9,1355.3 473.6,1347.0 474.3,1352.4 475.0,1349.1 475.7,1351.8 476.4,1345.3 477.1,1350.0 477.8,1332.2 478.5,1346.5 479.2,1337.6 479.9,1355.8 480.6,1342.2 481.3,1356.1 482.0,1340.7 482.7,1352.2 483.4,1336.6 484.1,1352.5 484.8,1344.2 485.5,1348.7 486.2,1332.7 486.9,1359.1 487.6,1345.6 488.3,1353.5 489.0,1333.7 489.7,1352.4 490.4,1343.1 491.1,1353.3 491.8,1341.3 492.5,1347.6 493.2,1338.4 493.9,1352.0 494.6,1338.1 495.3,1358.1 496.0,1332.0 496.7,1357.0 497.4,1332.8 498.1,1345.8 498.8,1343.8 499.5,1350.4 500.2,1338.4 500.9,1352.6 501.6,1341.3 502.3,1353.5 503.0,1334.1 503.7,1351.0 504.4,1341.2 505.1,1349.7 505.8,1343.3 506.5,1351.1 507.2,1342.0 507.9,1353.8 508.6,1347.0 509.3,1359.8 510.0,1338.0 510.7,1359.6 511.4,1339.3 512.1,1349.4 512.8,1338.2 513.5,1355.9 514.2,1341.8 514.9,1355.5 515.6,1340.4 516.3,1354.1 517.0,1346.9 517.7,1367.2 518.4,1343.9 519.1,1358.7 519.8,1343.5 520.5,1359.8 521.2,1344.7 521.9,1359.2 522.6,1339.1 523.3,1353.3 524.0,1344.4 524.7,1350.1 525.4,1345.1 526.1,1359.8 526.8,1333.4 527.5,1350.0 528.2,1347.5 528.9,1356.2 529.6,1339.9 530.3,1348.9 531.0,1345.3 531.7,1355.1 532.4,1340.2 533.1,1350.7 533.8,1340.3 534.5,1352.3 535.2,1341.4 535.9,1352.8 536.6,1346.2 537.3,1358.4 538.0,1342.3 538.7,1359.0 539.4,1345.9 540.1,1355.4 540.8,1339.9 541.5,1363.8 542.2,1341.7 542.9,1356.4 543.6,1346.3 544.3,1361.1 545.0,1344.2 545.7,1355.8 546.4,1336.0 547.1,1352.8 547.8,1341.3 548.5,1345.6 549.2,1342.3 549.9,1349.7 550.6,1342.9 551.3,1354.3 552.0,1329.0 552.7,1348.6 553.4,1339.8 554.1,1357.5 554.8,1337.7 555.5,1345.4 556.2,1338.2 556.9,1349.1 557.6,1335.1 558.3,1347.9 559.0,1334.4 559.7,1347.4 560.4,1344.3 561.1,1352.1 561.8,1333.2 562.5,1354.7 563.2,1344.3 563.9,1355.3 564.6,1342.1 565.3,1355.0 566.0,1331.7 566.7,1358.8 567.4,1342.2 568.1,1352.6 568.8,1339.0 569.5,1350.5 570.2,1341.2 570.9,1345.1 571.6,1340.2 572.3,1349.1 573.0,1338.3 573.7,1351.5 574.4,1334.5 575.1,1341.1 575.8,1327.8 576.5,1344.8 577.2,1324.1 577.9,1355.1 578.6,1329.0 579.3,1354.8 580.0,1331.7 580.7,1348.1 581.4,1340.1 582.1,1348.7 582.8,1339.8 583.5,1351.5 584.2,1338.5 584.9,1349.8 585.6,1339.9 586.3,1344.0 587.0,1336.4 587.7,1345.5 588.4,1339.9 589.1,1350.8 589.8,1335.3 590.5,1355.6 591.2,1344.3 591.9,1349.4 592.6,1339.8 593.3,1344.4 594.0,1343.4 594.7,1348.8 595.4,1340.3 596.1,1351.2 596.8,1340.6 597.5,1350.7 598.2,1345.0 598.9,1351.9 599.6,1343.1 600.3,1351.8 601.0,1341.1 601.7,1358.5 602.4,1344.0 603.1,1351.2 603.8,1335.4 604.5,1348.4 605.2,1341.8 605.9,1356.4 606.6,1336.2 607.3,1352.1 608.0,1343.2 608.7,1348.6 609.4,1345.3 610.1,1358.6 610.8,1340.8 611.5,1355.2 612.2,1335.8 612.9,1356.1 613.6,1342.7 614.3,1358.9 615.0,1345.2 615.7,1360.0 616.4,1341.0 617.1,1353.4 617.8,1339.5 618.5,1359.5 619.2,1345.3 619.9,1354.3 620.6,1341.6 621.3,1351.3 622.0,1336.4 622.7,1349.5 623.4,1343.8 624.1,1349.0 624.8,1330.9 625.5,1355.3 626.2,1333.9 626.9,1356.4 627.6,1339.5 628.3,1348.3 629.0,1343.2 629.7,1353.3 630.4,1338.9 631.1,1344.8 631.8,1327.1 632.5,1352.2 633.2,1342.6 633.9,1346.3 634.6,1337.7 635.3,1350.4 636.0,1344.2 636.7,1349.5 637.4,1339.1 638.1,1347.9 638.8,1334.2 639.5,1345.4 640.2,1341.0 640.9,1347.5 641.6,1343.4 642.3,1354.5 643.0,1334.0 643.7,1348.3 644.4,1343.3 645.1,1352.4 645.8,1343.1 646.5,1350.3 647.2,1347.8 647.9,1348.2 648.6,1344.7 649.3,1355.5 650.0,1341.5 650.7,1355.6 651.4,1344.0 652.1,1347.1 652.8,1341.8 653.5,1347.6 654.2,1329.4 654.9,1344.2 655.6,1335.1 656.3,1346.3 657.0,1340.2 657.7,1353.0 658.4,1341.0 659.1,1356.5 659.8,1337.5 660.5,1355.3 661.2,1341.7 661.9,1354.3 662.6,1337.0 663.3,1348.2 664.0,1341.3 664.7,1346.5 665.4,1342.7 666.1,1352.8 666.8,1343.4 667.5,1350.9 668.2,1344.1 668.9,1354.9 669.6,1345.4 670.3,1349.0 671.0,1340.5 671.7,1353.4 672.4,1339.6 673.1,1356.1 673.8,1335.4 674.5,1345.5 675.2,1343.7 675.9,1350.3 676.6,1339.0 677.3,1352.0 678.0,1345.8 678.7,1352.3 679.4,1341.7 680.1,1345.5 680.8,1340.8 681.5,1351.4 682.2,1345.0 682.9,1352.5 683.6,1342.4 684.3,1350.9 685.0,1348.6 685.7,1357.2 686.4,1342.8 687.1,1354.2 687.8,1345.0 688.5,1351.4 689.2,1345.2 689.9,1351.5 690.6,1346.9 691.3,1355.0 692.0,1347.2 692.7,1351.9 693.4,1344.3 694.1,1357.8 694.8,1344.8 695.5,1347.5 696.2,1343.3 696.9,1346.2 697.6,1338.5 698.3,1354.2 699.0,1343.4 699.7,1349.2 700.4,1337.5 701.1,1346.4 701.8,1339.7 702.5,1344.2 703.2,1333.3 703.9,1350.3 704.6,1343.5 705.3,1350.2 706.0,1344.1 706.7,1350.9 707.4,1336.7 708.1,1348.3 708.8,1341.6 709.5,1347.5 710.2,1329.3 710.9,1349.7 711.6,1337.2 712.3,1348.7 713.0,1340.2 713.7,1354.1 714.4,1340.2 715.1,1352.7 715.8,1339.4 716.5,1344.2 717.2,1338.7 717.9,1350.9 718.6,1344.5 719.3,1346.5 720.0,1345.2 720.7,1359.3 721.4,1341.5 722.1,1359.7 722.8,1343.9 723.5,1353.3 724.2,1336.8 724.9,1351.1 725.6,1342.1 726.3,1351.1 727.0,1342.7 727.7,1352.9 728.4,1345.6 729.1,1356.4 729.8,1342.5 730.5,1353.9 731.2,1345.0 731.9,1355.8 732.6,1344.0 733.3,1354.7 734.0,1347.9 734.7,1358.0 735.4,1344.3 736.1,1352.3 736.8,1345.4 737.5,1350.9 738.2,1345.5 738.9,1359.4 739.6,1337.4 740.3,1351.3 741.0,1336.0 741.7,1351.1 742.4,1346.2 743.1,1352.6 743.8,1340.9 744.5,1354.6 745.2,1341.3 745.9,1356.6 746.6,1337.4 747.3,1354.2 748.0,1346.4 748.7,1348.9 749.4,1338.2 750.1,1351.8 750.8,1339.0 751.5,1348.3 752.2,1341.9 752.9,1356.1 753.6,1347.5 754.3,1352.9 755.0,1336.3 755.7,1349.7 756.4,1338.5 757.1,1353.0 757.8,1345.8 758.5,1349.3 759.2,1344.3 759.9,1357.0 760.6,1342.9 761.3,1345.4 762.0,1339.0 762.7,1353.2 763.4,1344.5 764.1,1344.9 764.8,1339.2 765.5,1346.7 766.2,1338.3 766.9,1344.4 767.6,1340.1 768.3,1353.4 769.0,1345.8 769.7,1347.4 770.4,1343.0 771.1,1350.1 771.8,1328.9 772.5,1353.4 773.2,1337.6 773.9,1352.4 774.6,1342.8 775.3,1353.0 776.0,1341.9 776.7,1347.3 777.4,1336.3 778.1,1354.3 778.8,1338.1 779.5,1351.9 780.2,1343.6 780.9,1350.8 781.6,1337.6 782.3,1350.8 783.0,1345.4 783.7,1352.0 784.4,1344.0 785.1,1356.1 785.8,1346.7 786.5,1352.5 787.2,1340.7 787.9,1351.0 788.6,1343.6 789.3,1348.3 790.0,1345.1 790.7,1353.5 791.4,1338.7 792.1,1349.2 792.8,1342.5 793.5,1350.5 794.2,1333.9 794.9,1349.7 795.6,1335.3 796.3,1347.7 797.0,1355.5 797.7,1494.1 798.4,1558.8 799.1,1544.1 799.8,1508.0 800.5,1488.1 801.2,1460.1 801.9,1457.0 802.6,1430.6 803.3,1430.6 804.0,1410.9 804.7,1404.9 805.4,1385.6 806.1,1390.3 806.8,1378.0 807.5,1387.8 808.2,1364.3 808.9,1372.2 809.6,1358.9 810.3,1363.7 811.0,1350.0 811.7,1355.4 812.4,1352.4 813.1,1365.1 813.8,1344.2 814.5,1353.3 815.2,1340.7 815.9,1353.0 816.6,1342.3 817.3,1355.7 818.0,1337.6 818.7,1350.9 819.4,1339.4 820.1,1350.6 820.8,1331.7 821.5,1348.9 822.2,1336.8 822.9,1351.1 823.6,1338.9 824.3,1353.3 825.0,1340.5 825.7,1347.0 826.4,1338.8 827.1,1347.1 827.8,1341.3 828.5,1345.3 829.2,1335.5 829.9,1345.2 830.6,1333.3 831.3,1344.9 832.0,1339.9 832.7,1356.3 833.4,1343.7 834.1,1349.3 834.8,1340.7 835.5,1347.4 836.2,1335.9 836.9,1345.6 837.6,1339.5 838.3,1348.2 839.0,1343.5 839.7,1355.4 840.4,1344.1 841.1,1353.2 841.8,1330.9 842.5,1352.3 843.2,1341.2 843.9,1356.4 844.6,1339.4 845.3,1350.9 846.0,1341.1 846.7,1350.3 847.4,1337.0 848.1,1355.0 848.8,1337.8 849.5,1351.7 850.2,1331.7 850.9,1346.4 851.6,1341.3 852.3,1348.4 853.0,1340.4 853.7,1356.3 854.4,1343.0 855.1,1353.8 855.8,1337.4 856.5,1354.1 857.2,1349.7 857.9,1349.3 858.6,1344.2 859.3,1356.3 860.0,1345.6 860.7,1356.9 861.4,1333.8 862.1,1348.1 862.8,1342.1 863.5,1345.1 864.2,1336.5 864.9,1346.9 865.6,1334.1 866.3,1352.2 867.0,1337.4 867.7,1343.4 868.4,1336.6 869.1,1349.4 869.8,1336.2 870.5,1349.1 871.2,1342.4 871.9,1354.0 872.6,1339.5 873.3,1353.3 874.0,1336.6 874.7,1355.0 875.4,1337.8 876.1,1348.5 876.8,1340.9 877.5,1352.6 878.2,1344.0 878.9,1348.5 879.6,1345.5 880.3,1350.3 881.0,1342.1 881.7,1350.5 882.4,1342.8 883.1,1346.1 883.8,1336.7 884.5,1353.5 885.2,1339.2 885.9,1345.3 886.6,1330.1 887.3,1344.5 888.0,1333.9 888.7,1352.2 889.4,1336.3 890.1,1352.5 890.8,1336.3 891.5,1348.5 892.2,1335.4 892.9,1359.7 893.6,1338.8 894.3,1354.6 895.0,1332.1 895.7,1347.2 896.4,1340.5 897.1,1346.9 897.8,1340.4 898.5,1349.3 899.2,1336.6 899.9,1352.1 900.6,1338.9 901.3,1352.9 902.0,1340.3 902.7,1348.7 903.4,1336.2 904.1,1349.6 904.8,1339.5 905.5,1345.2 906.2,1336.4 906.9,1347.0 907.6,1342.5 908.3,1349.6 909.0,1339.8 909.7,1352.3 910.4,1340.6 911.1,1353.4 911.8,1342.8 912.5,1346.8 913.2,1342.9 913.9,1351.3 914.6,1334.9 915.3,1356.3 916.0,1334.0 916.7,1345.8 917.4,1341.1 918.1,1349.5 918.8,1333.0 919.5,1343.7 920.2,1340.1 920.9,1344.0 921.6,1334.2 922.3,1345.5 923.0,1338.5 923.7,1351.0 924.4,1338.1 925.1,1346.4 925.8,1339.6 926.5,1355.4 927.2,1337.2 927.9,1349.7 928.6,1339.6 929.3,1354.6 930.0,1344.5 930.7,1352.3 931.4,1332.3 932.1,1350.8 932.8,1345.4 933.5,1354.9 934.2,1337.7 934.9,1353.6 935.6,1342.3 936.3,1355.9 937.0,1333.4 937.7,1357.3 938.4,1341.7 939.1,1346.5 939.8,1338.8 940.5,1348.6 941.2,1332.8 941.9,1353.9 942.6,1342.8 943.3,1345.5 944.0,1335.1 944.7,1349.9 945.4,1338.7 946.1,1347.2 946.8,1346.6 947.5,1352.9 948.2,1344.2 948.9,1358.1 949.6,1346.0 950.3,1358.2 951.0,1346.1 951.7,1351.3 952.4,1347.1 953.1,1353.3 953.8,1349.1 954.5,1351.8 955.2,1342.0 955.9,1354.2 956.6,1339.9 957.3,1348.7 958.0,1344.3 958.7,1348.6 959.4,1338.2 960.1,1360.4 960.8,1338.6 961.5,1357.9 962.2,1347.4 962.9,1354.1 963.6,1343.8 964.3,1357.0 965.0,1345.0 965.7,1359.9 966.4,1344.7 967.1,1355.7 967.8,1340.2 968.5,1354.2 969.2,1341.3 969.9,1358.3 970.6,1348.9 971.3,1352.3 972.0,1332.6 972.7,1350.8 973.4,1335.7 974.1,1347.6 974.8,1332.1 975.5,1349.4 976.2,1332.0 976.9,1351.0 977.6,1339.5 978.3,1347.0 979.0,1332.7 979.7,1342.3 980.4,1335.7 981.1,1347.2 981.8,1335.4 982.5,1346.5 983.2,1338.4 983.9,1356.3 984.6,1343.2 985.3,1349.6 986.0,1338.1 986.7,1350.6 987.4,1339.0 988.1,1357.2 988.8,1347.6 989.5,1357.0 990.2,1337.9 990.9,1350.0 991.6,1341.5 992.3,1355.7 993.0,1343.4 993.7,1354.4 994.4,1345.5 995.1,1352.3 995.8,1344.6 996.5,1354.7 997.2,1340.4 997.9,1352.2 998.6,1335.4 999.3,1350.9 1000.0,1342.7 1000.7,1350.6 1001.4,1343.6 1002.1,1355.0 1002.8,1336.0 1003.5,1360.0 1004.2,1338.8 1004.9,1352.1 1005.6,1339.0 1006.3,1351.3 1007.0,1351.6 1007.7,1353.4 1008.4,1344.3 1009.1,1353.6 1009.8,1343.1 1010.5,1356.2 1011.2,1338.2 1011.9,1355.5 1012.6,1345.7 1013.3,1350.9 1014.0,1346.9 1014.7,1353.9 1015.4,1347.6 1016.1,1351.8 1016.8,1342.4 1017.5,1349.9 1018.2,1341.2 1018.9,1349.8 1019.6,1344.0 1020.3,1345.9 1021.0,1332.6 1021.7,1353.3 1022.4,1338.7 1023.1,1347.7 1023.8,1341.5 1024.5,1348.8 1025.2,1335.4 1025.9,1350.2 1026.6,1339.3 1027.3,1351.6 1028.0,1342.0 1028.7,1345.8 1029.4,1340.2 1030.1,1348.3 1030.8,1332.5 1031.5,1359.4 1032.2,1343.2 1032.9,1347.7 1033.6,1341.1 1034.3,1349.0 1035.0,1345.5 1035.7,1358.5 1036.4,1343.4 1037.1,1349.4 1037.8,1336.3 1038.5,1359.0 1039.2,1342.8 1039.9,1353.2 1040.6,1340.6 1041.3,1355.2 1042.0,1344.4 1042.7,1352.3 1043.4,1342.2 1044.1,1353.5 1044.8,1338.6 1045.5,1349.1 1046.2,1336.5 1046.9,1352.3 1047.6,1342.4 1048.3,1352.2 1049.0,1337.0 1049.7,1357.6 1050.4,1334.8 1051.1,1352.8 1051.8,1338.1 1052.5,1352.0 1053.2,1342.4 1053.9,1352.3 1054.6,1338.9 1055.3,1354.5 1056.0,1335.0 1056.7,1344.0 1057.4,1335.6 1058.1,1352.1 1058.8,1332.8 1059.5,1346.0 1060.2,1336.2 1060.9,1344.1 1061.6,1341.7 1062.3,1350.6 1063.0,1336.5 1063.7,1350.5 1064.4,1340.6 1065.1,1348.7 1065.8,1338.5 1066.5,1355.6 1067.2,1341.7 1067.9,1349.6 1068.6,1345.1 1069.3,1350.8 1070.0,1345.0 1070.7,1357.4 1071.4,1345.3 1072.1,1352.8 1072.8,1344.0 1073.5,1352.5 1074.2,1344.7 1074.9,1350.3 1075.6,1346.9 1076.3,1352.4 1077.0,1344.1 1077.7,1351.5 1078.4,1339.9 1079.1,1349.9 1079.8,1342.9 1080.5,1350.6 1081.2,1340.6 1081.9,1348.9 1082.6,1344.0 1083.3,1357.7 1084.0,1339.9 1084.7,1349.7 1085.4,1346.8 1086.1,1349.0 1086.8,1345.0 1087.5,1351.1 1088.2,1346.0 1088.9,1349.7 1089.6,1344.2 1090.3,1351.7 1091.0,1344.7 1091.7,1355.2 1092.4,1341.3 1093.1,1353.4 1093.8,1346.6 1094.5,1358.5 1095.2,1339.1 1095.9,1349.6 1096.6,1346.5 1097.3,1357.0 1098.0,1338.3 1098.7,1353.0 1099.4,1339.6 1100.1,1353.8 1100.8,1334.4 1101.5,1346.5 1102.2,1343.1 1102.9,1352.2 1103.6,1343.7 1104.3,1354.2 1105.0,1337.1 1105.7,1353.5 1106.4,1343.9 1107.1,1353.4 1107.8,1338.7 1108.5,1351.0 1109.2,1339.1 1109.9,1352.8 1110.6,1349.6 1111.3,1362.2 1112.0,1350.1 1112.7,1355.6 1113.4,1345.2 1114.1,1351.9 1114.8,1346.5 1115.5,1352.5 1116.2,1343.9 1116.9,1350.0 1117.6,1335.4 1118.3,1351.8 1119.0,1345.8 1119.7,1353.9 1120.4,1338.6 1121.1,1356.3 1121.8,1342.1 1122.5,1351.7 1123.2,1342.3 1123.9,1353.9 1124.6,1335.7 1125.3,1354.8 1126.0,1341.3 1126.7,1350.3 1127.4,1341.9 1128.1,1349.5 1128.8,1346.5 1129.5,1350.2 1130.2,1339.0 1130.9,1354.2 1131.6,1345.6 1132.3,1351.5 1133.0,1341.3 1133.7,1353.0 1134.4,1340.0 1135.1,1356.1 1135.8,1339.6 1136.5,1357.1 1137.2,1340.5 1137.9,1353.6 1138.6,1347.2 1139.3,1353.3 1140.0,1344.2 1140.7,1353.0 1141.4,1347.7 1142.1,1350.3 1142.8,1344.9 1143.5,1358.9 1144.2,1341.8 1144.9,1349.7 1145.6,1338.9 1146.3,1354.1 1147.0,1342.9 1147.7,1352.5 1148.4,1337.8 1149.1,1346.5 1149.8,1327.2 1150.5,1350.3 1151.2,1336.0 1151.9,1348.6 1152.6,1335.6 1153.3,1346.0 1154.0,1340.4 1154.7,1352.3 1155.4,1338.5 1156.1,1349.2 1156.8,1340.0 1157.5,1350.2 1158.2,1337.6 1158.9,1350.5 1159.6,1349.4 1160.3,1354.0 1161.0,1341.3 1161.7,1352.9 1162.4,1343.8 1163.1,1353.6 1163.8,1342.8 1164.5,1359.2 1165.2,1347.7 1165.9,1351.3 1166.6,1342.4 1167.3,1350.5 1168.0,1339.7 1168.7,1357.8 1169.4,1340.0 1170.1,1353.3 1170.8,1341.4 1171.5,1358.0 1172.2,1337.8 1172.9,1352.7 1173.6,1344.3 1174.3,1362.2 1175.0,1343.1 1175.7,1355.7 1176.4,1347.1 1177.1,1350.2 1177.8,1346.4 1178.5,1354.8 1179.2,1341.0 1179.9,1350.9 1180.6,1342.0 1181.3,1350.2 1182.0,1342.1 1182.7,1358.8 1183.4,1342.1 1184.1,1350.1 1184.8,1340.1 1185.5,1392.4 1186.2,1565.0 1186.9,1526.8 1187.6,1476.1 1188.3,1466.2 1189.0,1434.2 1189.7,1429.0 1190.4,1395.9 1191.1,1396.4 1191.8,1375.5 1192.5,1376.6 1193.2,1353.2 1193.9,1369.7 1194.6,1355.2 1195.3,1356.2 1196.0,1351.1 1196.7,1352.6 1197.4,1344.6 1198.1,1351.7 1198.8,1347.6 1199.5,1351.5 1200.2,1340.4 1200.9,1353.0 1201.6,1344.8 1202.3,1355.4 1203.0,1343.4 1203.7,1352.5 1204.4,1340.5 1205.1,1348.8 1205.8,1332.7 1206.5,1347.7 1207.2,1342.6 1207.9,1346.4 1208.6,1345.0 1209.3,1361.4 1210.0,1330.2 1210.7,1349.9 1211.4,1338.3 1212.1,1351.4 1212.8,1334.4 1213.5,1355.8 1214.2,1346.0 1214.9,1357.8 1215.6,1341.3 1216.3,1354.0 1217.0,1345.9 1217.7,1354.1 1218.4,1339.6 1219.1,1349.4 1219.8,1338.8 1220.5,1350.6 1221.2,1337.6 1221.9,1342.5 1222.6,1334.1 1223.3,1340.5 1224.0,1333.1 1224.7,1345.2 1225.4,1326.4 1226.1,1347.8 1226.8,1329.2 1227.5,1349.4 1228.2,1336.4 1228.9,1349.4 1229.6,1331.1 1230.3,1341.4 1231.0,1337.8 1231.7,1353.6 1232.4,1329.0 1233.1,1355.7 1233.8,1332.4 1234.5,1347.9 1235.2,1342.6 1235.9,1347.7 1236.6,1345.1 1237.3,1353.9 1238.0,1342.5 1238.7,1348.2 1239.4,1345.1 1240.1,1349.5 1240.8,1346.1 1241.5,1346.7 1242.2,1337.3 1242.9,1351.4 1243.6,1343.7 1244.3,1347.6 1245.0,1340.9 1245.7,1347.0 1246.4,1338.3 1247.1,1348.3 1247.8,1338.3 1248.5,1352.7 1249.2,1338.9 1249.9,1348.4 1250.6,1338.8 1251.3,1355.8 1252.0,1335.8 1252.7,1354.6 1253.4,1347.2 1254.1,1358.7 1254.8,1345.9 1255.5,1347.9 1256.2,1332.3 1256.9,1354.0 1257.6,1333.1 1258.3,1352.9 1259.0,1343.0 1259.7,1350.7 1260.4,1340.0 1261.1,1352.1 1261.8,1337.7 1262.5,1359.5 1263.2,1333.2 1263.9,1350.0 1264.6,1330.6 1265.3,1348.3 1266.0,1331.8 1266.7,1341.8 1267.4,1337.8 1268.1,1344.6 1268.8,1335.2 1269.5,1347.1 1270.2,1331.9 1270.9,1347.9 1271.6,1342.6 1272.3,1350.0 1273.0,1335.0 1273.7,1343.8 1274.4,1335.1 1275.1,1346.6 1275.8,1343.0 1276.5,1357.0 1277.2,1340.5 1277.9,1354.2 1278.6,1336.6 1279.3,1352.2 1280.0,1333.5 1280.7,1355.2 1281.4,1336.4 1282.1,1353.8 1282.8,1345.6 1283.5,1351.1 1284.2,1344.6 1284.9,1355.0 1285.6,1334.9 1286.3,1357.0 1287.0,1343.0 1287.7,1353.3 1288.4,1341.1 1289.1,1354.0 1289.8,1339.5 1290.5,1349.0 1291.2,1338.5 1291.9,1355.9 1292.6,1343.9 1293.3,1361.8 1294.0,1339.9 1294.7,1360.8 1295.4,1344.8 1296.1,1354.6 1296.8,1341.2 1297.5,1353.0 1298.2,1350.1 1298.9,1350.2 1299.6,1348.2 1300.3,1353.1 1301.0,1348.2 1301.7,1349.6 1302.4,1346.3 1303.1,1347.3 1303.8,1343.1 1304.5,1345.4 1305.2,1336.8 1305.9,1344.2 1306.6,1340.2 1307.3,1348.0 1308.0,1338.6 1308.7,1353.5 1309.4,1333.3 1310.1,1348.5 1310.8,1342.6 1311.5,1351.9 1312.2,1341.3 1312.9,1353.2 1313.6,1342.9 1314.3,1350.2 1315.0,1339.0" fill="none" stroke="#505050" stroke-width="1.45" stroke-linejoin="round" stroke-linecap="butt"/>
<polyline points="186.0,1603.5 186.7,1621.6 187.4,1603.5 188.1,1621.4 188.8,1614.6 189.5,1620.5 190.2,1610.1 190.9,1621.2 191.6,1612.6 192.3,1621.4 193.0,1606.7 193.7,1629.4 194.4,1606.3 195.1,1635.2 195.8,1606.2 196.5,1627.6 197.2,1612.4 197.9,1618.8 198.6,1616.9 199.3,1630.5 200.0,1615.6 200.7,1619.2 201.4,1609.8 202.1,1621.0 202.8,1606.4 203.5,1632.9 204.2,1611.2 204.9,1618.6 205.6,1614.6 206.3,1622.0 207.0,1608.3 207.7,1626.0 208.4,1607.6 209.1,1626.3 209.8,1606.1 210.5,1621.2 211.2,1611.8 211.9,1623.0 212.6,1612.8 213.3,1622.9 214.0,1612.7 214.7,1626.0 215.4,1599.8 216.1,1619.3 216.8,1602.7 217.5,1622.5 218.2,1605.1 218.9,1620.6 219.6,1609.9 220.3,1623.1 221.0,1612.2 221.7,1618.4 222.4,1607.3 223.1,1618.6 223.8,1609.7 224.5,1617.7 225.2,1609.5 225.9,1621.5 226.6,1606.7 227.3,1621.7 228.0,1602.7 228.7,1621.0 229.4,1601.3 230.1,1620.7 230.8,1599.4 231.5,1613.6 232.2,1600.1 232.9,1629.9 233.6,1607.1 234.3,1613.8 235.0,1608.6 235.7,1629.4 236.4,1602.8 237.1,1627.9 237.8,1606.8 238.5,1619.0 239.2,1602.9 239.9,1616.4 240.6,1610.5 241.3,1617.1 242.0,1607.0 242.7,1613.8 243.4,1598.5 244.1,1621.0 244.8,1606.5 245.5,1626.8 246.2,1608.5 246.9,1619.2 247.6,1608.7 248.3,1618.9 249.0,1603.5 249.7,1613.7 250.4,1606.0 251.1,1620.8 251.8,1609.6 252.5,1616.3 253.2,1611.7 253.9,1619.0 254.6,1608.1 255.3,1623.8 256.0,1607.3 256.7,1618.0 257.4,1616.0 258.1,1615.6 258.8,1608.6 259.5,1616.7 260.2,1611.5 260.9,1617.9 261.6,1609.5 262.3,1617.7 263.0,1597.3 263.7,1614.2 264.4,1612.3 265.1,1614.1 265.8,1606.3 266.5,1625.1 267.2,1598.4 267.9,1624.7 268.6,1605.6 269.3,1621.3 270.0,1608.6 270.7,1615.0 271.4,1615.3 272.1,1624.6 272.8,1617.1 273.5,1621.0 274.2,1617.4 274.9,1620.5 275.6,1615.5 276.3,1624.3 277.0,1605.4 277.7,1614.8 278.4,1609.3 279.1,1622.4 279.8,1613.5 280.5,1622.6 281.2,1601.5 281.9,1615.6 282.6,1611.8 283.3,1630.1 284.0,1612.4 284.7,1618.5 285.4,1607.2 286.1,1622.9 286.8,1608.7 287.5,1616.6 288.2,1608.5 288.9,1622.7 289.6,1613.7 290.3,1619.8 291.0,1602.3 291.7,1622.6 292.4,1609.2 293.1,1620.3 293.8,1595.2 294.5,1617.5 295.2,1598.0 295.9,1612.3 296.6,1611.4 297.3,1613.0 298.0,1609.1 298.7,1616.4 299.4,1606.1 300.1,1620.0 300.8,1603.2 301.5,1619.7 302.2,1608.6 302.9,1616.7 303.6,1603.8 304.3,1618.3 305.0,1594.0 305.7,1616.5 306.4,1607.6 307.1,1612.4 307.8,1602.5 308.5,1619.7 309.2,1604.0 309.9,1613.6 310.6,1607.9 311.3,1616.7 312.0,1592.0 312.7,1618.1 313.4,1599.5 314.1,1618.7 314.8,1605.8 315.5,1617.2 316.2,1611.4 316.9,1613.0 317.6,1608.6 318.3,1620.1 319.0,1605.8 319.7,1618.7 320.4,1610.7 321.1,1623.5 321.8,1600.7 322.5,1617.5 323.2,1611.2 323.9,1622.2 324.6,1607.7 325.3,1625.2 326.0,1605.2 326.7,1623.3 327.4,1594.0 328.1,1613.0 328.8,1605.3 329.5,1612.6 330.2,1597.8 330.9,1612.0 331.6,1600.5 332.3,1625.8 333.0,1608.2 333.7,1619.5 334.4,1602.3 335.1,1622.4 335.8,1602.5 336.5,1687.9 337.2,1693.4 337.9,1690.9 338.6,1674.0 339.3,1685.1 340.0,1688.7 340.7,1721.1 341.4,1736.7 342.1,1713.9 342.8,1665.7 343.5,1674.1 344.2,1657.0 344.9,1671.1 345.6,1651.0 346.3,1663.1 347.0,1648.2 347.7,1658.5 348.4,1648.7 349.1,1662.2 349.8,1639.2 350.5,1655.3 351.2,1636.7 351.9,1649.2 352.6,1641.3 353.3,1646.9 354.0,1626.7 354.7,1639.2 355.4,1636.3 356.1,1644.7 356.8,1627.5 357.5,1636.5 358.2,1628.4 358.9,1629.8 359.6,1618.9 360.3,1629.9 361.0,1616.4 361.7,1629.8 362.4,1624.4 363.1,1631.1 363.8,1618.6 364.5,1639.4 365.2,1622.5 365.9,1641.2 366.6,1618.9 367.3,1636.2 368.0,1620.3 368.7,1627.5 369.4,1616.6 370.1,1636.6 370.8,1620.1 371.5,1631.0 372.2,1618.0 372.9,1628.7 373.6,1608.2 374.3,1614.4 375.0,1606.1 375.7,1620.5 376.4,1605.6 377.1,1628.5 377.8,1603.9 378.5,1628.0 379.2,1609.6 379.9,1626.1 380.6,1614.6 381.3,1618.3 382.0,1607.6 382.7,1623.5 383.4,1621.6 384.1,1626.7 384.8,1615.1 385.5,1626.5 386.2,1618.2 386.9,1621.7 387.6,1616.6 388.3,1631.7 389.0,1614.2 389.7,1629.4 390.4,1615.6 391.1,1619.8 391.8,1607.6 392.5,1634.8 393.2,1612.1 393.9,1618.8 394.6,1612.3 395.3,1625.0 396.0,1601.4 396.7,1620.1 397.4,1610.0 398.1,1625.2 398.8,1613.8 399.5,1626.4 400.2,1605.3 400.9,1621.2 401.6,1613.2 402.3,1622.3 403.0,1611.7 403.7,1618.1 404.4,1612.9 405.1,1623.7 405.8,1605.1 406.5,1619.6 407.2,1607.7 407.9,1619.7 408.6,1606.3 409.3,1618.4 410.0,1603.1 410.7,1624.3 411.4,1608.5 412.1,1625.7 412.8,1605.5 413.5,1628.5 414.2,1605.8 414.9,1622.1 415.6,1612.9 416.3,1621.7 417.0,1606.5 417.7,1617.7 418.4,1600.8 419.1,1624.2 419.8,1612.6 420.5,1622.3 421.2,1603.8 421.9,1613.3 422.6,1603.0 423.3,1616.5 424.0,1601.4 424.7,1619.2 425.4,1605.8 426.1,1624.3 426.8,1614.7 427.5,1635.6 428.2,1613.7 428.9,1621.0 429.6,1604.4 430.3,1622.6 431.0,1607.3 431.7,1628.5 432.4,1603.5 433.1,1617.8 433.8,1604.1 434.5,1626.1 435.2,1606.3 435.9,1623.9 436.6,1605.0 437.3,1615.0 438.0,1606.5 438.7,1623.2 439.4,1610.2 440.1,1617.6 440.8,1612.5 441.5,1627.5 442.2,1607.3 442.9,1619.1 443.6,1609.7 444.3,1622.8 445.0,1607.4 445.7,1628.0 446.4,1609.6 447.1,1618.8 447.8,1605.3 448.5,1617.3 449.2,1602.3 449.9,1620.6 450.6,1604.6 451.3,1623.4 452.0,1597.8 452.7,1621.6 453.4,1605.4 454.1,1619.2 454.8,1602.8 455.5,1614.4 456.2,1605.0 456.9,1615.1 457.6,1604.1 458.3,1619.4 459.0,1607.0 459.7,1623.9 460.4,1611.7 461.1,1625.6 461.8,1607.6 462.5,1623.9 463.2,1614.4 463.9,1629.7 464.6,1611.5 465.3,1621.3 466.0,1605.9 466.7,1620.3 467.4,1613.4 468.1,1623.3 468.8,1612.1 469.5,1619.2 470.2,1610.7 470.9,1623.5 471.6,1608.1 472.3,1616.7 473.0,1604.7 473.7,1620.7 474.4,1616.0 475.1,1617.0 475.8,1610.0 476.5,1621.5 477.2,1614.2 477.9,1631.7 478.6,1611.8 479.3,1625.5 480.0,1609.5 480.7,1616.7 481.4,1606.3 482.1,1623.1 482.8,1606.6 483.5,1626.6 484.2,1600.7 484.9,1633.1 485.6,1601.3 486.3,1621.9 487.0,1613.9 487.7,1619.1 488.4,1597.3 489.1,1620.5 489.8,1611.5 490.5,1615.8 491.2,1602.6 491.9,1619.7 492.6,1606.5 493.3,1627.8 494.0,1603.2 494.7,1622.3 495.4,1607.7 496.1,1624.8 496.8,1609.7 497.5,1615.7 498.2,1609.2 498.9,1625.0 499.6,1602.4 500.3,1620.2 501.0,1607.2 501.7,1623.6 502.4,1609.1 503.1,1622.8 503.8,1614.9 504.5,1633.2 505.2,1614.4 505.9,1619.1 506.6,1613.3 507.3,1626.6 508.0,1611.6 508.7,1622.6 509.4,1606.5 510.1,1624.0 510.8,1611.2 511.5,1623.3 512.2,1606.9 512.9,1621.9 513.6,1609.4 514.3,1619.8 515.0,1612.9 515.7,1621.2 516.4,1615.6 517.1,1627.7 517.8,1603.2 518.5,1621.1 519.2,1610.5 519.9,1622.7 520.6,1613.1 521.3,1618.3 522.0,1604.8 522.7,1617.1 523.4,1605.5 524.1,1623.1 524.8,1600.3 525.5,1618.3 526.2,1607.9 526.9,1619.9 527.6,1604.1 528.3,1613.7 529.0,1607.2 529.7,1622.7 530.4,1606.2 531.1,1626.1 531.8,1614.9 532.5,1617.5 533.2,1609.2 533.9,1630.4 534.6,1613.7 535.3,1631.6 536.0,1608.3 536.7,1628.5 537.4,1608.9 538.1,1621.4 538.8,1615.1 539.5,1627.0 540.2,1608.3 540.9,1624.1 541.6,1598.9 542.3,1625.1 543.0,1609.8 543.7,1627.1 544.4,1606.9 545.1,1622.3 545.8,1611.2 546.5,1623.0 547.2,1604.1 547.9,1618.7 548.6,1613.9 549.3,1622.7 550.0,1601.4 550.7,1629.0 551.4,1614.6 552.1,1629.0 552.8,1614.1 553.5,1620.6 554.2,1617.3 554.9,1624.9 555.6,1613.9 556.3,1628.9 557.0,1616.7 557.7,1619.4 558.4,1617.8 559.1,1623.3 559.8,1611.3 560.5,1616.6 561.2,1601.1 561.9,1623.4 562.6,1605.4 563.3,1618.8 564.0,1611.3 564.7,1618.0 565.4,1597.6 566.1,1620.2 566.8,1608.3 567.5,1619.4 568.2,1599.2 568.9,1621.0 569.6,1608.8 570.3,1614.2 571.0,1611.0 571.7,1622.8 572.4,1598.5 573.1,1624.4 573.8,1604.3 574.5,1618.9 575.2,1603.3 575.9,1618.4 576.6,1606.6 577.3,1626.6 578.0,1601.0 578.7,1625.4 579.4,1612.2 580.1,1621.4 580.8,1608.1 581.5,1625.3 582.2,1603.3 582.9,1615.9 583.6,1610.0 584.3,1618.8 585.0,1606.7 585.7,1622.5 586.4,1603.4 587.1,1629.4 587.8,1615.5 588.5,1627.1 589.2,1608.6 589.9,1630.1 590.6,1618.9 591.3,1619.3 592.0,1613.2 592.7,1630.5 593.4,1618.7 594.1,1628.1 594.8,1616.7 595.5,1629.8 596.2,1605.0 596.9,1626.1 597.6,1615.6 598.3,1625.6 599.0,1612.3 599.7,1616.7 600.4,1600.5 601.1,1620.0 601.8,1600.8 602.5,1622.0 603.2,1600.2 603.9,1617.3 604.6,1594.0 605.3,1627.6 606.0,1610.3 606.7,1614.2 607.4,1610.0 608.1,1620.7 608.8,1612.9 609.5,1619.2 610.2,1609.1 610.9,1623.9 611.6,1609.3 612.3,1622.0 613.0,1607.4 613.7,1620.0 614.4,1599.4 615.1,1613.1 615.8,1607.7 616.5,1613.6 617.2,1603.8 617.9,1629.0 618.6,1596.6 619.3,1617.2 620.0,1607.4 620.7,1621.7 621.4,1604.0 622.1,1616.1 622.8,1607.1 623.5,1617.1 624.2,1606.9 624.9,1633.6 625.6,1614.6 626.3,1619.8 627.0,1612.7 627.7,1618.2 628.4,1605.2 629.1,1618.2 629.8,1610.3 630.5,1618.5 631.2,1598.2 631.9,1615.8 632.6,1595.7 633.3,1614.7 634.0,1609.8 634.7,1617.6 635.4,1609.4 636.1,1616.8 636.8,1608.3 637.5,1614.3 638.2,1606.7 638.9,1616.8 639.6,1612.1 640.3,1619.2 641.0,1613.6 641.7,1626.5 642.4,1607.7 643.1,1619.3 643.8,1606.8 644.5,1621.1 645.2,1605.0 645.9,1631.1 646.6,1611.6 647.3,1618.6 648.0,1613.1 648.7,1617.6 649.4,1605.6 650.1,1630.9 650.8,1606.2 651.5,1616.8 652.2,1614.2 652.9,1633.2 653.6,1616.3 654.3,1618.9 655.0,1614.4 655.7,1623.7 656.4,1605.5 657.1,1618.1 657.8,1600.6 658.5,1616.4 659.2,1605.7 659.9,1623.1 660.6,1594.6 661.3,1618.8 662.0,1606.2 662.7,1618.0 663.4,1598.4 664.1,1624.0 664.8,1597.0 665.5,1615.8 666.2,1613.1 666.9,1618.7 667.6,1605.9 668.3,1626.8 669.0,1618.8 669.7,1622.1 670.4,1617.5 671.1,1626.1 671.8,1608.6 672.5,1627.7 673.2,1604.9 673.9,1624.4 674.6,1613.1 675.3,1618.6 676.0,1611.3 676.7,1620.0 677.4,1604.1 678.1,1619.2 678.8,1601.5 679.5,1616.8 680.2,1602.1 680.9,1627.1 681.6,1612.8 682.3,1621.7 683.0,1610.9 683.7,1621.6 684.4,1615.7 685.1,1623.6 685.8,1616.9 686.5,1633.1 687.2,1613.1 687.9,1626.8 688.6,1615.3 689.3,1621.6 690.0,1616.9 690.7,1628.3 691.4,1612.9 692.1,1627.7 692.8,1611.3 693.5,1639.0 694.2,1608.2 694.9,1623.4 695.6,1614.2 696.3,1624.3 697.0,1603.0 697.7,1616.6 698.4,1606.9 699.1,1616.4 699.8,1606.1 700.5,1618.7 701.2,1610.8 701.9,1615.8 702.6,1607.2 703.3,1618.0 704.0,1605.0 704.7,1617.4 705.4,1610.2 706.1,1624.5 706.8,1609.1 707.5,1617.9 708.2,1615.1 708.9,1625.8 709.6,1604.8 710.3,1618.0 711.0,1613.7 711.7,1616.8 712.4,1613.8 713.1,1628.1 713.8,1600.0 714.5,1625.0 715.2,1617.5 715.9,1618.5 716.6,1616.9 717.3,1630.2 718.0,1604.9 718.7,1622.3 719.4,1613.1 720.1,1628.5 720.8,1609.9 721.5,1623.6 722.2,1613.7 722.9,1632.3 723.6,1613.0 724.3,1620.0 725.0,1611.2 725.7,1623.7 726.4,1608.3 727.1,1622.1 727.8,1610.1 728.5,1617.8 729.2,1611.0 729.9,1631.1 730.6,1600.1 731.3,1630.9 732.0,1611.1 732.7,1619.1 733.4,1613.2 734.1,1624.7 734.8,1609.9 735.5,1626.1 736.2,1615.0 736.9,1627.2 737.6,1618.9 738.3,1622.4 739.0,1615.2 739.7,1634.5 740.4,1611.4 741.1,1622.7 741.8,1613.8 742.5,1623.3 743.2,1603.6 743.9,1622.8 744.6,1615.0 745.3,1629.5 746.0,1614.0 746.7,1621.2 747.4,1605.6 748.1,1634.0 748.8,1611.5 749.5,1624.5 750.2,1614.6 750.9,1628.5 751.6,1623.5 752.3,1630.1 753.0,1625.3 753.7,1632.7 754.4,1614.0 755.1,1638.7 755.8,1608.9 756.5,1626.0 757.2,1609.4 757.9,1618.9 758.6,1615.3 759.3,1618.3 760.0,1607.0 760.7,1619.3 761.4,1611.5 762.1,1625.8 762.8,1614.9 763.5,1627.8 764.2,1618.4 764.9,1623.0 765.6,1609.1 766.3,1624.9 767.0,1607.5 767.7,1633.3 768.4,1619.4 769.1,1627.3 769.8,1611.2 770.5,1626.6 771.2,1616.6 771.9,1628.9 772.6,1614.6 773.3,1620.9 774.0,1615.3 774.7,1623.5 775.4,1618.6 776.1,1627.8 776.8,1618.1 777.5,1622.5 778.2,1604.9 778.9,1623.4 779.6,1609.5 780.3,1626.5 781.0,1610.6 781.7,1623.3 782.4,1605.6 783.1,1623.7 783.8,1608.9 784.5,1619.1 785.2,1608.7 785.9,1618.0 786.6,1612.2 787.3,1623.7 788.0,1612.8 788.7,1614.7 789.4,1610.0 790.1,1619.7 790.8,1609.9 791.5,1620.2 792.2,1600.3 792.9,1623.4 793.6,1607.2 794.3,1619.6 795.0,1608.4 795.7,1613.1 796.4,1612.2 797.1,1617.3 797.8,1608.1 798.5,1616.4 799.2,1604.9 799.9,1616.0 800.6,1605.3 801.3,1613.6 802.0,1606.0 802.7,1611.0 803.4,1596.8 804.1,1620.7 804.8,1608.8 805.5,1614.4 806.2,1602.0 806.9,1617.5 807.6,1597.0 808.3,1609.6 809.0,1603.4 809.7,1608.9 810.4,1604.3 811.1,1620.2 811.8,1588.5 812.5,1611.3 813.2,1599.6 813.9,1614.0 814.6,1603.6 815.3,1621.0 816.0,1608.6 816.7,1624.0 817.4,1608.8 818.1,1621.5 818.8,1616.2 819.5,1629.2 820.2,1612.7 820.9,1628.1 821.6,1617.6 822.3,1625.4 823.0,1607.6 823.7,1628.7 824.4,1610.6 825.1,1618.1 825.8,1599.8 826.5,1625.1 827.2,1607.2 827.9,1612.2 828.6,1606.8 829.3,1619.9 830.0,1605.2 830.7,1620.3 831.4,1605.0 832.1,1628.6 832.8,1602.5 833.5,1621.5 834.2,1606.7 834.9,1620.2 835.6,1610.4 836.3,1622.5 837.0,1604.3 837.7,1616.8 838.4,1604.8 839.1,1619.9 839.8,1613.8 840.5,1623.7 841.2,1608.6 841.9,1627.2 842.6,1616.2 843.3,1636.4 844.0,1615.7 844.7,1625.2 845.4,1605.9 846.1,1629.2 846.8,1618.7 847.5,1621.8 848.2,1608.2 848.9,1626.8 849.6,1602.2 850.3,1619.9 851.0,1613.6 851.7,1634.1 852.4,1608.6 853.1,1617.3 853.8,1608.8 854.5,1629.9 855.2,1614.2 855.9,1619.8 856.6,1599.6 857.3,1615.5 858.0,1615.4 858.7,1625.7 859.4,1608.2 860.1,1628.3 860.8,1607.8 861.5,1625.3 862.2,1607.2 862.9,1621.7 863.6,1609.7 864.3,1616.4 865.0,1605.3 865.7,1625.7 866.4,1612.8 867.1,1629.5 867.8,1609.8 868.5,1623.5 869.2,1613.2 869.9,1633.3 870.6,1606.3 871.3,1621.6 872.0,1607.2 872.7,1623.9 873.4,1611.7 874.1,1624.0 874.8,1606.4 875.5,1624.1 876.2,1603.5 876.9,1623.5 877.6,1603.3 878.3,1615.6 879.0,1595.3 879.7,1614.8 880.4,1602.2 881.1,1615.4 881.8,1603.6 882.5,1611.3 883.2,1606.4 883.9,1615.4 884.6,1603.2 885.3,1615.6 886.0,1599.0 886.7,1624.1 887.4,1607.2 888.1,1626.3 888.8,1605.8 889.5,1622.0 890.2,1609.2 890.9,1623.2 891.6,1601.0 892.3,1625.8 893.0,1608.9 893.7,1615.5 894.4,1605.6 895.1,1626.8 895.8,1611.0 896.5,1629.7 897.2,1614.8 897.9,1618.6 898.6,1610.4 899.3,1626.4 900.0,1605.4 900.7,1624.1 901.4,1608.4 902.1,1615.5 902.8,1603.2 903.5,1617.0 904.2,1606.6 904.9,1624.8 905.6,1608.5 906.3,1618.1 907.0,1603.6 907.7,1623.5 908.4,1611.1 909.1,1620.9 909.8,1618.4 910.5,1626.6 911.2,1617.7 911.9,1622.2 912.6,1617.4 913.3,1622.7 914.0,1616.8 914.7,1620.9 915.4,1617.7 916.1,1628.3 916.8,1604.5 917.5,1629.4 918.2,1612.9 918.9,1631.9 919.6,1612.7 920.3,1628.7 921.0,1619.0 921.7,1626.3 922.4,1612.1 923.1,1626.1 923.8,1620.0 924.5,1622.9 925.2,1617.7 925.9,1633.4 926.6,1611.0 927.3,1622.5 928.0,1608.9 928.7,1619.2 929.4,1615.7 930.1,1626.5 930.8,1613.3 931.5,1616.3 932.2,1606.0 932.9,1618.5 933.6,1607.0 934.3,1620.9 935.0,1609.1 935.7,1619.5 936.4,1605.7 937.1,1625.8 937.8,1609.5 938.5,1622.5 939.2,1607.3 939.9,1630.3 940.6,1600.8 941.3,1625.0 942.0,1606.7 942.7,1616.7 943.4,1606.9 944.1,1620.7 944.8,1605.1 945.5,1617.1 946.2,1609.0 946.9,1630.9 947.6,1614.0 948.3,1629.1 949.0,1607.4 949.7,1618.8 950.4,1601.9 951.1,1624.4 951.8,1602.5 952.5,1624.1 953.2,1607.3 953.9,1619.2 954.6,1600.2 955.3,1625.6 956.0,1611.1 956.7,1615.1 957.4,1611.5 958.1,1614.6 958.8,1605.9 959.5,1613.9 960.2,1608.5 960.9,1614.3 961.6,1607.2 962.3,1615.1 963.0,1610.6 963.7,1622.4 964.4,1606.2 965.1,1615.9 965.8,1612.4 966.5,1622.4 967.2,1610.2 967.9,1625.4 968.6,1606.3 969.3,1619.4 970.0,1607.0 970.7,1613.6 971.4,1602.7 972.1,1616.3 972.8,1603.4 973.5,1615.8 974.2,1607.7 974.9,1616.5 975.6,1611.8 976.3,1614.9 977.0,1609.8 977.7,1615.4 978.4,1608.1 979.1,1629.0 979.8,1610.6 980.5,1625.0 981.2,1608.5 981.9,1621.6 982.6,1609.0 983.3,1625.3 984.0,1607.7 984.7,1616.0 985.4,1613.6 986.1,1626.0 986.8,1610.7 987.5,1621.2 988.2,1606.3 988.9,1623.4 989.6,1611.2 990.3,1620.1 991.0,1607.1 991.7,1626.9 992.4,1611.2 993.1,1620.9 993.8,1615.9 994.5,1631.7 995.2,1610.3 995.9,1628.2 996.6,1595.8 997.3,1627.7 998.0,1612.7 998.7,1622.2 999.4,1599.4 1000.1,1619.0 1000.8,1608.2 1001.5,1618.9 1002.2,1604.5 1002.9,1619.8 1003.6,1612.4 1004.3,1621.3 1005.0,1604.4 1005.7,1618.1 1006.4,1615.0 1007.1,1618.4 1007.8,1614.0 1008.5,1625.6 1009.2,1604.7 1009.9,1621.8 1010.6,1615.8 1011.3,1621.6 1012.0,1611.6 1012.7,1624.1 1013.4,1609.4 1014.1,1617.6 1014.8,1607.3 1015.5,1616.8 1016.2,1611.6 1016.9,1614.7 1017.6,1607.4 1018.3,1620.9 1019.0,1606.3 1019.7,1622.5 1020.4,1601.7 1021.1,1615.3 1021.8,1603.9 1022.5,1617.9 1023.2,1605.7 1023.9,1622.8 1024.6,1602.8 1025.3,1617.0 1026.0,1604.5 1026.7,1627.8 1027.4,1605.0 1028.1,1619.5 1028.8,1612.6 1029.5,1621.3 1030.2,1604.5 1030.9,1618.9 1031.6,1604.6 1032.3,1613.4 1033.0,1604.6 1033.7,1614.9 1034.4,1598.0 1035.1,1616.8 1035.8,1612.1 1036.5,1614.2 1037.2,1608.4 1037.9,1623.1 1038.6,1603.0 1039.3,1624.1 1040.0,1610.2 1040.7,1627.9 1041.4,1615.3 1042.1,1617.0 1042.8,1603.5 1043.5,1629.8 1044.2,1606.1 1044.9,1622.9 1045.6,1609.0 1046.3,1619.9 1047.0,1613.7 1047.7,1622.9 1048.4,1611.2 1049.1,1621.8 1049.8,1610.7 1050.5,1615.2 1051.2,1608.2 1051.9,1621.8 1052.6,1614.9 1053.3,1631.9 1054.0,1615.6 1054.7,1629.2 1055.4,1608.7 1056.1,1622.0 1056.8,1608.5 1057.5,1623.7 1058.2,1615.6 1058.9,1623.1 1059.6,1607.1 1060.3,1631.9 1061.0,1611.3 1061.7,1618.9 1062.4,1607.9 1063.1,1618.7 1063.8,1610.2 1064.5,1614.0 1065.2,1610.9 1065.9,1615.7 1066.6,1608.5 1067.3,1632.6 1068.0,1598.7 1068.7,1613.9 1069.4,1595.0 1070.1,1623.1 1070.8,1608.9 1071.5,1619.2 1072.2,1612.1 1072.9,1618.9 1073.6,1605.1 1074.3,1620.8 1075.0,1612.7 1075.7,1622.7 1076.4,1607.1 1077.1,1632.2 1077.8,1609.3 1078.5,1627.0 1079.2,1610.5 1079.9,1624.8 1080.6,1612.5 1081.3,1616.7 1082.0,1608.8 1082.7,1624.6 1083.4,1612.4 1084.1,1630.7 1084.8,1605.2 1085.5,1620.3 1086.2,1609.3 1086.9,1616.4 1087.6,1615.0 1088.3,1622.7 1089.0,1611.2 1089.7,1626.4 1090.4,1605.0 1091.1,1624.6 1091.8,1611.9 1092.5,1623.9 1093.2,1611.2 1093.9,1625.8 1094.6,1615.1 1095.3,1627.2 1096.0,1613.1 1096.7,1628.0 1097.4,1612.6 1098.1,1619.9 1098.8,1613.7 1099.5,1622.0 1100.2,1605.6 1100.9,1618.5 1101.6,1605.1 1102.3,1622.9 1103.0,1616.1 1103.7,1622.3 1104.4,1618.1 1105.1,1622.2 1105.8,1617.9 1106.5,1629.5 1107.2,1620.5 1107.9,1633.9 1108.6,1614.1 1109.3,1632.1 1110.0,1618.0 1110.7,1626.6 1111.4,1603.0 1112.1,1626.7 1112.8,1615.3 1113.5,1628.1 1114.2,1612.9 1114.9,1629.9 1115.6,1615.3 1116.3,1626.8 1117.0,1606.0 1117.7,1617.4 1118.4,1608.8 1119.1,1619.9 1119.8,1603.2 1120.5,1627.6 1121.2,1610.0 1121.9,1620.1 1122.6,1601.7 1123.3,1623.5 1124.0,1601.4 1124.7,1620.4 1125.4,1609.0 1126.1,1612.9 1126.8,1610.8 1127.5,1623.4 1128.2,1602.7 1128.9,1626.1 1129.6,1604.1 1130.3,1621.8 1131.0,1603.8 1131.7,1624.5 1132.4,1606.1 1133.1,1614.1 1133.8,1608.0 1134.5,1623.2 1135.2,1604.5 1135.9,1623.0 1136.6,1600.5 1137.3,1623.1 1138.0,1607.0 1138.7,1619.5 1139.4,1611.8 1140.1,1624.0 1140.8,1617.3 1141.5,1620.5 1142.2,1613.4 1142.9,1620.0 1143.6,1612.3 1144.3,1622.0 1145.0,1614.0 1145.7,1625.6 1146.4,1607.1 1147.1,1623.7 1147.8,1612.8 1148.5,1621.8 1149.2,1615.6 1149.9,1629.6 1150.6,1614.3 1151.3,1625.3 1152.0,1614.9 1152.7,1621.6 1153.4,1612.4 1154.1,1617.4 1154.8,1609.2 1155.5,1626.6 1156.2,1601.7 1156.9,1620.8 1157.6,1608.4 1158.3,1623.9 1159.0,1602.5 1159.7,1618.3 1160.4,1606.3 1161.1,1624.4 1161.8,1613.0 1162.5,1624.6 1163.2,1599.8 1163.9,1619.0 1164.6,1613.6 1165.3,1626.8 1166.0,1613.3 1166.7,1619.7 1167.4,1612.7 1168.1,1632.5 1168.8,1621.1 1169.5,1621.9 1170.2,1613.9 1170.9,1624.2 1171.6,1612.5 1172.3,1626.1 1173.0,1616.8 1173.7,1627.6 1174.4,1607.0 1175.1,1620.0 1175.8,1611.4 1176.5,1616.7 1177.2,1601.5 1177.9,1616.4 1178.6,1605.7 1179.3,1620.3 1180.0,1599.2 1180.7,1620.2 1181.4,1596.7 1182.1,1620.4 1182.8,1609.2 1183.5,1613.8 1184.2,1607.1 1184.9,1622.1 1185.6,1607.2 1186.3,1619.7 1187.0,1687.5 1187.7,1778.5 1188.4,1748.4 1189.1,1731.3 1189.8,1706.4 1190.5,1709.5 1191.2,1680.4 1191.9,1677.0 1192.6,1654.4 1193.3,1659.1 1194.0,1639.4 1194.7,1649.8 1195.4,1633.1 1196.1,1638.1 1196.8,1622.2 1197.5,1632.0 1198.2,1627.0 1198.9,1628.6 1199.6,1613.0 1200.3,1626.3 1201.0,1622.0 1201.7,1625.7 1202.4,1619.2 1203.1,1628.4 1203.8,1611.3 1204.5,1627.8 1205.2,1615.1 1205.9,1630.2 1206.6,1618.6 1207.3,1625.8 1208.0,1609.0 1208.7,1636.0 1209.4,1611.2 1210.1,1624.0 1210.8,1617.4 1211.5,1627.3 1212.2,1615.1 1212.9,1634.5 1213.6,1622.9 1214.3,1628.0 1215.0,1608.4 1215.7,1627.5 1216.4,1614.8 1217.1,1622.7 1217.8,1618.8 1218.5,1620.1 1219.2,1615.0 1219.9,1629.0 1220.6,1614.4 1221.3,1616.6 1222.0,1608.3 1222.7,1619.8 1223.4,1606.2 1224.1,1620.4 1224.8,1608.0 1225.5,1625.1 1226.2,1605.0 1226.9,1614.4 1227.6,1595.7 1228.3,1613.5 1229.0,1606.3 1229.7,1617.4 1230.4,1603.0 1231.1,1618.5 1231.8,1597.5 1232.5,1617.3 1233.2,1601.9 1233.9,1617.4 1234.6,1610.8 1235.3,1614.5 1236.0,1609.7 1236.7,1619.1 1237.4,1604.9 1238.1,1617.8 1238.8,1611.9 1239.5,1624.4 1240.2,1607.5 1240.9,1617.6 1241.6,1605.2 1242.3,1618.8 1243.0,1601.6 1243.7,1621.0 1244.4,1609.3 1245.1,1617.5 1245.8,1608.1 1246.5,1618.8 1247.2,1605.2 1247.9,1615.1 1248.6,1599.1 1249.3,1617.8 1250.0,1606.4 1250.7,1618.8 1251.4,1608.3 1252.1,1625.0 1252.8,1609.1 1253.5,1629.4 1254.2,1603.7 1254.9,1618.3 1255.6,1611.0 1256.3,1615.8 1257.0,1609.6 1257.7,1616.2 1258.4,1611.7 1259.1,1633.7 1259.8,1613.2 1260.5,1626.3 1261.2,1610.1 1261.9,1628.6 1262.6,1608.7 1263.3,1621.8 1264.0,1614.4 1264.7,1621.3 1265.4,1605.1 1266.1,1629.3 1266.8,1613.9 1267.5,1622.4 1268.2,1607.6 1268.9,1622.8 1269.6,1609.3 1270.3,1615.5 1271.0,1606.6 1271.7,1618.4 1272.4,1612.6 1273.1,1624.9 1273.8,1607.7 1274.5,1626.7 1275.2,1615.8 1275.9,1624.3 1276.6,1606.1 1277.3,1619.7 1278.0,1607.9 1278.7,1614.9 1279.4,1607.9 1280.1,1624.6 1280.8,1600.9 1281.5,1622.9 1282.2,1614.0 1282.9,1620.1 1283.6,1615.4 1284.3,1626.8 1285.0,1608.9 1285.7,1624.1 1286.4,1612.4 1287.1,1618.1 1287.8,1615.5 1288.5,1618.9 1289.2,1613.1 1289.9,1618.7 1290.6,1611.6 1291.3,1620.3 1292.0,1612.4 1292.7,1617.6 1293.4,1613.1 1294.1,1619.8 1294.8,1605.3 1295.5,1626.2 1296.2,1611.6 1296.9,1620.3 1297.6,1603.8 1298.3,1621.7 1299.0,1615.5 1299.7,1622.5 1300.4,1615.1 1301.1,1619.8 1301.8,1603.2 1302.5,1628.8 1303.2,1606.7 1303.9,1614.3 1304.6,1611.0 1305.3,1622.3 1306.0,1609.4 1306.7,1617.8 1307.4,1607.0 1308.1,1610.4 1308.8,1605.4 1309.5,1611.6 1310.2,1595.9 1310.9,1612.1 1311.6,1605.2 1312.3,1621.1 1313.0,1605.6 1313.7,1615.7 1314.4,1602.1" fill="none" stroke="#e9631a" stroke-width="1.6" stroke-linejoin="round" stroke-linecap="butt"/>
<polyline points="1208,197.6 1208,269.8 1320.5,269.8" fill="none" stroke="#000" stroke-width="2.6"/>
<text x="1227.5" y="290.7" font-family='"Liberation Sans", sans-serif' font-size="20.34" font-weight="normal" text-anchor="start" fill="#000" textLength="73.0" lengthAdjust="spacingAndGlyphs" stroke="#000" stroke-width="0.5" stroke-linejoin="round">200 ms</text>
<text transform="translate(1230.1,254.7) rotate(-90)" x="0" y="0" font-family='"Liberation Sans", sans-serif' font-size="22.43" font-weight="normal" text-anchor="start" fill="#000" textLength="48.0" lengthAdjust="spacingAndGlyphs" stroke="#000" stroke-width="0.5" stroke-linejoin="round">5 pA</text>
<polyline points="1207.7,1423 1207.7,1505.5 1320.6,1505.5" fill="none" stroke="#000" stroke-width="2.6"/>
<text x="1227.1" y="1526.0" font-family='"Liberation Sans", sans-serif' font-size="20.2" font-weight="normal" text-anchor="start" fill="#000" textLength="73.8" lengthAdjust="spacingAndGlyphs" stroke="#000" stroke-width="0.5" stroke-linejoin="round">200 ms</text>
<text transform="translate(1229.8,1492.7) rotate(-90)" x="0" y="0" font-family='"Liberation Sans", sans-serif' font-size="20.86" font-weight="normal" text-anchor="start" fill="#000" textLength="60.2" lengthAdjust="spacingAndGlyphs" stroke="#000" stroke-width="0.5" stroke-linejoin="round">10 pA</text>
<text x="3.4" y="631.0" font-family='"Liberation Sans", sans-serif' font-size="63.08" font-weight="bold" text-anchor="start" fill="#000" textLength="37.5" lengthAdjust="spacingAndGlyphs">B</text>
<line x1="159.2" y1="669.4" x2="159.2" y2="1038.5" stroke="#000" stroke-width="3.4" stroke-linecap="round"/>
<line x1="143.8" y1="670.4" x2="159.2" y2="670.4" stroke="#000" stroke-width="3.4" stroke-linecap="round"/>
<line x1="143.8" y1="849.3" x2="159.2" y2="849.3" stroke="#000" stroke-width="3.4" stroke-linecap="round"/>
<line x1="143.8" y1="1028.2" x2="159.2" y2="1028.2" stroke="#000" stroke-width="3.4" stroke-linecap="round"/>
<line x1="159.2" y1="1028.2" x2="697.7" y2="1028.2" stroke="#000" stroke-width="3.4" stroke-linecap="round"/>
<line x1="338.0" y1="1028.2" x2="338.0" y2="1038.5" stroke="#000" stroke-width="3.4" stroke-linecap="round"/>
<line x1="516.9" y1="1028.2" x2="516.9" y2="1038.5" stroke="#000" stroke-width="3.4" stroke-linecap="round"/>
<line x1="695.7" y1="1028.2" x2="695.7" y2="1038.5" stroke="#000" stroke-width="3.4" stroke-linecap="round"/>
<text x="138.6" y="1037.9" font-family='"Liberation Sans", sans-serif' font-size="28" font-weight="bold" text-anchor="end" fill="#000">0.0</text>
<text x="138.6" y="859.0" font-family='"Liberation Sans", sans-serif' font-size="28" font-weight="bold" text-anchor="end" fill="#000">0.5</text>
<text x="138.6" y="680.1" font-family='"Liberation Sans", sans-serif' font-size="28" font-weight="bold" text-anchor="end" fill="#000">1.0</text>
<text x="159.2" y="1071.6" font-family='"Liberation Sans", sans-serif' font-size="28" font-weight="bold" text-anchor="middle" fill="#000">0</text>
<text x="338.0" y="1071.6" font-family='"Liberation Sans", sans-serif' font-size="28" font-weight="bold" text-anchor="middle" fill="#000">20</text>
<text x="516.9" y="1071.6" font-family='"Liberation Sans", sans-serif' font-size="28" font-weight="bold" text-anchor="middle" fill="#000">40</text>
<text x="695.7" y="1071.6" font-family='"Liberation Sans", sans-serif' font-size="28" font-weight="bold" text-anchor="middle" fill="#000">60</text>
<text transform="translate(87.9,1022.6) rotate(-90)" x="0" y="0" font-family='"Liberation Sans", sans-serif' font-size="33.12" font-weight="normal" text-anchor="start" fill="#000" textLength="362.4" lengthAdjust="spacingAndGlyphs" stroke="#000" stroke-width="0.6" stroke-linejoin="round">Cumulative Probability</text>
<text x="315.8" y="1111.4" font-family='"Liberation Sans", sans-serif' font-size="33.7" font-weight="normal" text-anchor="start" fill="#000" textLength="240.6" lengthAdjust="spacingAndGlyphs" stroke="#000" stroke-width="0.8" stroke-linejoin="round">Frequency (Hz)</text>
<polyline points="160.5,1028.2 160.6,1026.9 160.7,1025.6 160.8,1024.3 160.9,1023.0 161.0,1021.8 161.1,1020.5 161.2,1019.2 161.3,1017.9 161.4,1016.6 161.5,1015.3 161.6,1014.0 161.8,1012.8 161.9,1011.5 162.0,1010.2 162.1,1008.9 162.2,1007.6 162.3,1006.3 162.5,1005.0 162.6,1003.7 162.7,1002.5 162.8,1001.2 163.0,999.9 163.1,998.6 163.2,997.3 163.4,996.0 163.5,994.8 163.6,993.5 163.8,992.2 163.9,990.9 164.0,989.6 164.2,988.3 164.3,987.0 164.4,985.8 164.6,984.5 164.7,983.2 164.8,981.9 165.0,980.6 165.1,979.3 165.2,978.0 165.3,976.8 165.5,975.5 165.6,974.2 165.7,972.9 165.8,971.6 166.0,970.3 166.1,969.0 166.2,967.8 166.3,966.5 166.4,965.2 166.5,963.9 166.6,962.6 166.7,961.3 166.8,960.0 166.9,958.7 167.0,957.5 167.1,956.2 167.2,954.9 167.3,953.6 167.4,952.3 167.5,951.0 167.6,949.7 167.7,948.4 167.7,947.1 167.8,945.9 167.9,944.6 168.0,943.3 168.1,942.0 168.2,940.7 168.3,939.4 168.3,938.1 168.4,936.8 168.5,935.5 168.6,934.2 168.7,933.0 168.8,931.7 168.8,930.4 168.9,929.1 169.0,927.8 169.1,926.5 169.2,925.2 169.3,923.9 169.4,922.6 169.5,921.4 169.6,920.1 169.7,918.8 169.8,917.5 169.8,916.2 170.0,914.9 170.1,913.6 170.2,912.3 170.3,911.1 170.4,909.8 170.5,908.5 170.6,907.2 170.7,905.9 170.8,904.6 171.0,903.4 171.1,902.1 171.2,900.8 171.4,899.5 171.5,898.2 171.6,896.9 171.8,895.6 171.9,894.4 172.1,893.1 172.2,891.8 172.4,890.5 172.5,889.2 172.7,887.9 172.9,886.7 173.0,885.4 173.2,884.1 173.4,882.8 173.5,881.5 173.7,880.2 173.9,879.0 174.1,877.7 174.3,876.4 174.5,875.1 174.7,873.8 174.9,872.6 175.1,871.3 175.3,870.0 175.5,868.7 175.7,867.5 175.9,866.2 176.1,864.9 176.4,863.7 176.6,862.4 176.8,861.1 177.0,859.8 177.3,858.6 177.5,857.3 177.7,856.1 178.0,854.8 178.3,853.5 178.6,852.3 178.8,851.0 179.1,849.8 179.5,848.5 179.8,847.3 180.1,846.0 180.5,844.8 180.8,843.5 181.1,842.3 181.5,841.0 181.9,839.8 182.2,838.5 182.6,837.3 182.9,836.1 183.3,834.8 183.6,833.6 184.0,832.3 184.3,831.1 184.6,829.8 185.0,828.6 185.3,827.3 185.6,826.1 185.9,824.8 186.2,823.6 186.5,822.3 186.8,821.0 187.1,819.8 187.4,818.5 187.7,817.3 188.0,816.0 188.3,814.7 188.6,813.5 188.8,812.2 189.1,811.0 189.4,809.7 189.7,808.5 190.0,807.2 190.3,805.9 190.6,804.7 190.9,803.4 191.2,802.2 191.5,800.9 191.8,799.6 192.0,798.3 192.3,797.0 192.6,795.8 192.9,794.5 193.1,793.2 193.4,791.9 193.7,790.6 194.0,789.4 194.3,788.1 194.6,786.8 194.9,785.6 195.2,784.3 195.6,783.1 195.9,781.9 196.3,780.7 196.7,779.5 197.1,778.3 197.5,777.1 198.0,775.9 198.5,774.8 199.0,773.7 199.6,772.5 200.3,771.4 200.9,770.3 201.6,769.2 202.3,768.1 203.0,767.0 203.8,765.9 204.6,764.8 205.3,763.8 206.1,762.7 206.9,761.6 207.7,760.6 208.4,759.6 209.2,758.5 210.0,757.5 210.8,756.5 211.6,755.5 212.4,754.5 213.2,753.5 214.1,752.5 214.9,751.6 215.8,750.6 216.6,749.6 217.5,748.7 218.4,747.7 219.3,746.8 220.2,745.8 221.0,744.9 221.9,743.9 222.8,743.0 223.7,742.0 224.6,741.1 225.5,740.1 226.3,739.2 227.2,738.2 228.1,737.3 229.0,736.4 229.9,735.4 230.8,734.5 231.8,733.6 232.7,732.7 233.6,731.9 234.6,731.0 235.6,730.2 236.6,729.4 237.6,728.6 238.6,727.8 239.6,727.0 240.7,726.2 241.7,725.4 242.8,724.7 243.8,723.9 244.9,723.2 246.0,722.4 247.1,721.7 248.2,721.1 249.3,720.4 250.4,719.7 251.5,719.1 252.6,718.5 253.8,717.9 254.9,717.3 256.1,716.8 257.2,716.2 258.4,715.7 259.6,715.2 260.8,714.6 262.0,714.2 263.2,713.7 264.4,713.2 265.6,712.7 266.8,712.3 268.1,711.8 269.3,711.4 270.5,711.0 271.7,710.6 272.9,710.2 274.2,709.8 275.4,709.4 276.6,709.0 277.9,708.7 279.1,708.3 280.4,707.9 281.6,707.6 282.9,707.2 284.1,706.9 285.3,706.6 286.6,706.2 287.8,705.9 289.1,705.5 290.3,705.2 291.6,704.9 292.8,704.5 294.1,704.2 295.3,703.9 296.6,703.5 297.8,703.2 299.1,702.9 300.3,702.6 301.6,702.2 302.8,701.9 304.1,701.6 305.3,701.3 306.6,701.0 307.9,700.7 309.1,700.4 310.4,700.1 311.6,699.8 312.9,699.6 314.2,699.3 315.4,699.0 316.7,698.8 317.9,698.5 319.2,698.2 320.5,698.0 321.7,697.7 323.0,697.5 324.3,697.2 325.5,697.0 326.8,696.7 328.1,696.5 329.4,696.2 330.6,696.0 331.9,695.8 333.2,695.5 334.4,695.3 335.7,695.1 337.0,694.8 338.3,694.6 339.5,694.4 340.8,694.2 342.1,694.0 343.4,693.8 344.7,693.6 345.9,693.4 347.2,693.2 348.5,692.9 349.7,692.6 350.9,692.3 352.2,692.0 353.4,691.6 354.6,691.2 355.8,690.7 357.1,690.3 358.3,689.8 359.5,689.4 360.7,688.9 361.9,688.4 363.1,688.0 364.3,687.5 365.6,687.1 366.8,686.7 368.0,686.3 369.3,686.0 370.5,685.6 371.8,685.3 373.0,684.9 374.2,684.6 375.5,684.3 376.7,684.0 378.0,683.6 379.3,683.3 380.5,683.0 381.8,682.7 383.0,682.4 384.3,682.1 385.6,681.8 386.8,681.6 388.1,681.3 389.3,681.0 390.6,680.8 391.9,680.5 393.1,680.3 394.4,680.0 395.7,679.8 396.9,679.5 398.2,679.3 399.5,679.1 400.8,678.8 402.0,678.6 403.3,678.4 404.6,678.2 405.9,678.0 407.1,677.8 408.4,677.6 409.7,677.4 411.0,677.3 412.3,677.1 413.5,677.0 414.8,676.8 416.1,676.7 417.4,676.6 418.7,676.4 419.9,676.3 421.2,676.2 422.5,676.0 423.8,675.9 425.1,675.8 426.4,675.7 427.7,675.6 429.0,675.5 430.2,675.4 431.5,675.2 432.8,675.1 434.1,675.0 435.4,674.9 436.7,674.9 438.0,674.8 439.3,674.7 440.6,674.6 441.8,674.5 443.1,674.4 444.4,674.3 445.7,674.2 447.0,674.2 448.3,674.1 449.6,674.0 450.9,673.9 452.2,673.9 453.4,673.8 454.7,673.7 456.0,673.6 457.3,673.6 458.6,673.5 459.9,673.5 461.2,673.4 462.5,673.3 463.8,673.3 465.1,673.2 466.4,673.1 467.6,673.1 468.9,673.0 470.2,673.0 471.5,672.9 472.8,672.8 474.1,672.8 475.4,672.7 476.7,672.7 478.0,672.6 479.3,672.5 480.5,672.4 481.8,672.4 483.1,672.3 484.4,672.2 485.7,672.1 487.0,672.1 488.3,672.0 489.6,671.9 490.9,671.9 492.2,671.8 493.4,671.7 494.7,671.7 496.0,671.6 497.3,671.6 498.6,671.5 499.9,671.5 501.2,671.5 502.5,671.4 503.8,671.4 505.1,671.4 506.4,671.4 507.6,671.3 508.9,671.3 510.2,671.3 511.5,671.3 512.8,671.3 514.1,671.2 515.4,671.2 516.7,671.2 518.0,671.2 519.3,671.2 520.6,671.2 521.8,671.1 523.1,671.1 524.4,671.1 525.7,671.1 527.0,671.1 528.3,671.1 529.6,671.1 530.9,671.1 532.2,671.1 533.5,671.0 534.8,671.0 536.1,671.0 537.4,671.0 538.6,671.0 539.9,671.0 541.2,671.0 542.5,671.0 543.8,671.0 545.1,671.0 546.4,671.0 547.7,671.0 549.0,671.0 550.3,670.9 551.6,670.9 552.9,670.9 554.1,670.9 555.4,670.9 556.7,670.9 558.0,670.9 559.3,670.9 560.6,670.9 561.9,670.9 563.2,670.9 564.5,670.9 565.8,670.9 567.1,670.9 568.4,670.9 569.6,670.9 570.9,670.9 572.2,670.9 573.5,670.9 574.8,670.9 576.1,670.9 577.4,670.9 578.7,670.9 580.0,670.9 581.3,670.8 582.6,670.8 583.9,670.8 585.1,670.8 586.4,670.8 587.7,670.8 589.0,670.8 590.3,670.8 591.6,670.8 592.9,670.8 594.2,670.8 595.5,670.8 596.8,670.8 598.1,670.8 599.4,670.8 600.6,670.8 601.9,670.8 603.2,670.8 604.5,670.8 605.8,670.8 607.1,670.8 608.4,670.8 609.7,670.8 611.0,670.8 612.3,670.8 613.6,670.8 614.9,670.8 616.1,670.8 617.4,670.8 618.7,670.7 620.0,670.7 621.3,670.7 622.6,670.7 623.9,670.7 625.2,670.7 626.5,670.7 627.8,670.7 629.1,670.7 630.4,670.7 631.6,670.7 632.9,670.7 634.2,670.7 635.5,670.7 636.8,670.7 638.1,670.7 639.4,670.7 640.7,670.7 642.0,670.7 643.3,670.7 644.6,670.7 645.9,670.7 647.1,670.7 648.4,670.7 649.7,670.7 651.0,670.7 652.3,670.7 653.6,670.7 654.9,670.7 656.2,670.7 657.5,670.7 658.8,670.7 660.1,670.6 661.4,670.6 662.6,670.6 663.9,670.6 665.2,670.6 666.5,670.6 667.8,670.6 669.1,670.6 670.4,670.6 671.7,670.6 673.0,670.6 674.3,670.6 675.6,670.6 676.9,670.6 678.1,670.6 679.4,670.6 680.7,670.6 682.0,670.6 683.3,670.6 684.6,670.6" fill="none" stroke="#e95f14" stroke-width="3.6" stroke-linejoin="round" stroke-linecap="butt"/>
<polyline points="159.5,1028.2 159.5,1027.2 159.6,1026.2 159.6,1025.2 159.7,1024.2 159.8,1023.2 159.8,1022.1 159.9,1021.1 159.9,1020.1 160.0,1019.1 160.0,1018.1 160.1,1017.1 160.1,1016.1 160.2,1015.1 160.3,1014.1 160.3,1013.1 160.4,1012.1 160.4,1011.1 160.5,1010.0 160.6,1009.0 160.6,1008.0 160.7,1007.0 160.8,1006.0 160.8,1005.0 160.9,1004.0 161.0,1003.0 161.1,1002.0 161.1,1001.0 161.2,1000.0 161.3,999.0 161.4,998.0 161.4,996.9 161.5,995.9 161.6,994.9 161.7,993.9 161.8,992.9 161.8,991.9 161.9,990.9 162.0,989.9 162.1,988.9 162.2,987.9 162.3,986.9 162.3,985.9 162.4,984.9 162.5,983.9 162.6,982.9 162.7,981.8 162.8,980.8 162.8,979.8 162.9,978.8 163.0,977.8 163.1,976.8 163.2,975.8 163.3,974.8 163.3,973.8 163.4,972.8 163.5,971.8 163.6,970.8 163.7,969.8 163.7,968.8 163.8,967.7 163.9,966.7 164.0,965.7 164.0,964.7 164.1,963.7 164.2,962.7 164.3,961.7 164.3,960.7 164.4,959.7 164.5,958.7 164.5,957.7 164.6,956.7 164.7,955.7 164.8,954.6 164.8,953.6 164.9,952.6 165.0,951.6 165.0,950.6 165.1,949.6 165.2,948.6 165.3,947.6 165.3,946.6 165.4,945.6 165.5,944.6 165.5,943.6 165.6,942.6 165.7,941.5 165.7,940.5 165.8,939.5 165.9,938.5 165.9,937.5 166.0,936.5 166.1,935.5 166.2,934.5 166.2,933.5 166.3,932.5 166.4,931.5 166.4,930.5 166.5,929.5 166.6,928.4 166.6,927.4 166.7,926.4 166.8,925.4 166.9,924.4 166.9,923.4 167.0,922.4 167.1,921.4 167.1,920.4 167.2,919.4 167.3,918.4 167.4,917.4 167.4,916.4 167.5,915.3 167.6,914.3 167.7,913.3 167.7,912.3 167.8,911.3 167.9,910.3 168.0,909.3 168.0,908.3 168.1,907.3 168.2,906.3 168.3,905.3 168.3,904.3 168.4,903.3 168.5,902.3 168.5,901.2 168.6,900.2 168.7,899.2 168.8,898.2 168.8,897.2 168.9,896.2 169.0,895.2 169.1,894.2 169.1,893.2 169.2,892.2 169.3,891.2 169.4,890.2 169.4,889.2 169.5,888.1 169.6,887.1 169.7,886.1 169.8,885.1 169.8,884.1 169.9,883.1 170.0,882.1 170.1,881.1 170.2,880.1 170.3,879.1 170.3,878.1 170.4,877.1 170.5,876.1 170.6,875.1 170.7,874.1 170.8,873.0 170.9,872.0 171.0,871.0 171.1,870.0 171.2,869.0 171.3,868.0 171.4,867.0 171.5,866.0 171.6,865.0 171.7,864.0 171.8,863.0 171.9,862.0 172.0,861.0 172.1,860.0 172.2,859.0 172.3,858.0 172.4,857.0 172.5,856.0 172.7,855.0 172.8,854.0 172.9,853.0 173.0,852.0 173.1,850.9 173.3,849.9 173.4,848.9 173.5,847.9 173.6,846.9 173.8,845.9 173.9,844.9 174.0,843.9 174.1,842.9 174.3,841.9 174.4,840.9 174.5,839.9 174.7,838.9 174.8,837.9 174.9,836.9 175.1,835.9 175.2,834.9 175.4,833.9 175.5,832.9 175.6,831.9 175.8,830.9 175.9,829.9 176.1,828.9 176.2,827.9 176.4,826.9 176.5,825.9 176.7,824.9 176.8,823.9 177.0,822.9 177.2,821.9 177.3,820.9 177.5,819.9 177.7,818.9 177.8,818.0 178.0,817.0 178.2,816.0 178.4,815.0 178.6,814.0 178.7,813.0 178.9,812.0 179.1,811.0 179.3,810.0 179.5,809.0 179.7,808.0 179.8,807.0 180.0,806.0 180.2,805.0 180.4,804.0 180.6,803.0 180.8,802.1 181.0,801.1 181.2,800.1 181.4,799.1 181.6,798.1 181.7,797.1 181.9,796.1 182.1,795.1 182.3,794.1 182.5,793.1 182.7,792.1 182.9,791.1 183.1,790.2 183.3,789.2 183.5,788.2 183.7,787.2 184.0,786.2 184.2,785.2 184.4,784.2 184.6,783.2 184.8,782.2 185.0,781.3 185.3,780.3 185.5,779.3 185.7,778.3 186.0,777.3 186.2,776.3 186.4,775.4 186.7,774.4 186.9,773.4 187.2,772.4 187.4,771.5 187.7,770.5 187.9,769.5 188.2,768.5 188.5,767.5 188.7,766.5 189.0,765.6 189.3,764.6 189.6,763.6 189.8,762.6 190.1,761.7 190.4,760.7 190.7,759.7 191.0,758.8 191.3,757.8 191.7,756.9 192.0,755.9 192.3,755.0 192.7,754.0 193.0,753.1 193.4,752.1 193.7,751.2 194.1,750.3 194.5,749.4 194.9,748.4 195.3,747.5 195.7,746.6 196.2,745.6 196.6,744.7 197.1,743.8 197.5,742.9 198.0,742.0 198.5,741.1 199.0,740.2 199.5,739.3 200.0,738.4 200.5,737.6 201.0,736.7 201.5,735.9 202.1,735.0 202.6,734.2 203.2,733.4 203.8,732.6 204.4,731.8 205.0,731.0 205.6,730.2 206.3,729.4 206.9,728.6 207.6,727.8 208.2,727.0 208.9,726.3 209.6,725.5 210.3,724.8 211.0,724.0 211.7,723.3 212.4,722.6 213.1,721.8 213.8,721.1 214.5,720.4 215.2,719.7 215.9,719.0 216.6,718.2 217.4,717.5 218.1,716.8 218.8,716.1 219.6,715.5 220.4,714.8 221.1,714.1 221.9,713.5 222.7,712.9 223.5,712.3 224.3,711.7 225.1,711.1 225.9,710.5 226.8,710.0 227.6,709.4 228.5,708.9 229.4,708.4 230.2,707.9 231.1,707.3 232.0,706.9 232.9,706.4 233.8,705.9 234.7,705.4 235.6,705.0 236.5,704.5 237.4,704.0 238.3,703.6 239.2,703.1 240.1,702.7 241.0,702.3 242.0,701.9 242.9,701.5 243.8,701.1 244.7,700.7 245.7,700.3 246.6,699.9 247.6,699.6 248.5,699.3 249.5,698.9 250.4,698.6 251.4,698.3 252.3,698.0 253.3,697.7 254.3,697.4 255.2,697.1 256.2,696.7 257.2,696.4 258.1,696.1 259.1,695.7 260.0,695.4 261.0,695.0 261.9,694.7 262.8,694.3 263.8,693.9 264.7,693.6 265.7,693.2 266.6,692.9 267.6,692.5 268.5,692.2 269.5,691.9 270.4,691.5 271.4,691.2 272.4,691.0 273.3,690.7 274.3,690.4 275.3,690.2 276.3,689.9 277.2,689.7 278.2,689.5 279.2,689.2 280.2,689.0 281.2,688.8 282.2,688.6 283.2,688.4 284.2,688.2 285.2,688.0 286.1,687.8 287.1,687.6 288.1,687.3 289.1,687.1 290.1,686.9 291.1,686.7 292.1,686.5 293.1,686.3 294.1,686.1 295.0,685.9 296.0,685.7 297.0,685.5 298.0,685.3 299.0,685.1 300.0,684.9 301.0,684.7 302.0,684.5 303.0,684.3 304.0,684.1 305.0,684.0 306.0,683.8 307.0,683.6 307.9,683.4 308.9,683.2 309.9,683.1 310.9,682.9 311.9,682.8 312.9,682.6 313.9,682.5 314.9,682.3 315.9,682.2 316.9,682.0 317.9,681.9 318.9,681.7 319.9,681.6 320.9,681.5 321.9,681.3 322.9,681.2 323.9,681.1 324.9,680.9 325.9,680.8 326.9,680.7 327.9,680.6 328.9,680.4 329.9,680.3 331.0,680.2 332.0,680.1 333.0,680.0 334.0,679.9 335.0,679.7 336.0,679.6 337.0,679.5 338.0,679.4 339.0,679.3 340.0,679.2 341.0,679.1 342.0,679.0 343.0,678.9 344.0,678.8 345.0,678.7 346.0,678.5 347.0,678.4 348.0,678.3 349.0,678.2 350.0,678.1 351.0,678.0 352.0,677.9 353.1,677.9 354.1,677.8 355.1,677.7 356.1,677.6 357.1,677.5 358.1,677.4 359.1,677.3 360.1,677.2 361.1,677.1 362.1,677.0 363.1,676.9 364.1,676.8 365.1,676.7 366.1,676.6 367.1,676.5 368.1,676.4 369.1,676.4 370.2,676.3 371.2,676.2 372.2,676.1 373.2,676.0 374.2,675.9 375.2,675.8 376.2,675.7 377.2,675.6 378.2,675.6 379.2,675.5 380.2,675.4 381.2,675.3 382.2,675.2 383.2,675.1 384.2,675.0 385.2,675.0 386.3,674.9 387.3,674.8 388.3,674.7 389.3,674.6 390.3,674.6 391.3,674.5 392.3,674.4 393.3,674.3 394.3,674.2 395.3,674.1 396.3,674.1 397.3,674.0 398.3,673.9 399.3,673.8 400.3,673.7 401.4,673.6 402.4,673.5 403.4,673.5 404.4,673.4 405.4,673.3 406.4,673.2 407.4,673.1 408.4,673.0 409.4,672.9 410.4,672.8 411.4,672.7 412.4,672.6 413.4,672.5 414.4,672.4 415.4,672.3 416.5,672.3 417.5,672.2 418.5,672.1 419.5,672.0 420.5,672.0 421.5,671.9 422.5,671.9 423.5,671.9 424.5,671.8 425.5,671.8 426.5,671.8 427.5,671.7 428.6,671.7 429.6,671.7 430.6,671.6 431.6,671.6 432.6,671.6 433.6,671.6 434.6,671.5 435.6,671.5 436.6,671.5 437.6,671.5 438.6,671.4 439.7,671.4 440.7,671.4 441.7,671.4 442.7,671.4 443.7,671.3 444.7,671.3 445.7,671.3 446.7,671.3 447.7,671.3 448.7,671.2 449.8,671.2 450.8,671.2 451.8,671.2 452.8,671.2 453.8,671.2 454.8,671.1 455.8,671.1 456.8,671.1 457.8,671.1 458.9,671.1 459.9,671.1 460.9,671.1 461.9,671.1 462.9,671.0 463.9,671.0 464.9,671.0 465.9,671.0 466.9,671.0 467.9,671.0 469.0,671.0 470.0,671.0 471.0,671.0 472.0,670.9 473.0,670.9 474.0,670.9 475.0,670.9 476.0,670.9 477.0,670.9 478.0,670.9 479.1,670.9 480.1,670.9 481.1,670.9 482.1,670.9 483.1,670.9 484.1,670.8 485.1,670.8 486.1,670.8 487.1,670.8 488.1,670.8 489.2,670.8 490.2,670.8 491.2,670.8 492.2,670.8 493.2,670.8" fill="none" stroke="#4d4d4d" stroke-width="3.6" stroke-linejoin="round" stroke-linecap="butt"/>
<line x1="338.2" y1="761.3" x2="338.2" y2="1017.7" stroke="#000" stroke-width="3.3" stroke-linecap="round"/>
<line x1="327.6" y1="1016.2" x2="338.2" y2="1016.2" stroke="#000" stroke-width="3.3" stroke-linecap="round"/>
<text x="324.7" y="1023.1" font-family='"Liberation Sans", sans-serif' font-size="19.5" font-weight="bold" text-anchor="end" fill="#000">0</text>
<line x1="327.6" y1="931.1" x2="338.2" y2="931.1" stroke="#000" stroke-width="3.3" stroke-linecap="round"/>
<text x="324.7" y="938.0" font-family='"Liberation Sans", sans-serif' font-size="19.5" font-weight="bold" text-anchor="end" fill="#000">1</text>
<line x1="327.6" y1="846.6" x2="338.2" y2="846.6" stroke="#000" stroke-width="3.3" stroke-linecap="round"/>
<text x="324.7" y="853.5" font-family='"Liberation Sans", sans-serif' font-size="19.5" font-weight="bold" text-anchor="end" fill="#000">2</text>
<line x1="327.6" y1="762.8" x2="338.2" y2="762.8" stroke="#000" stroke-width="3.3" stroke-linecap="round"/>
<text x="324.7" y="769.7" font-family='"Liberation Sans", sans-serif' font-size="19.5" font-weight="bold" text-anchor="end" fill="#000">3</text>
<text transform="translate(298.9,976.2) rotate(-90)" x="0" y="0" font-family='"Liberation Sans", sans-serif' font-size="27.01" font-weight="normal" text-anchor="start" fill="#000" textLength="191.7" lengthAdjust="spacingAndGlyphs" stroke="#000" stroke-width="0.6" stroke-linejoin="round">Frequency (Hz)</text>
<rect x="363.5" y="903.7" width="46.0" height="32.5" fill="none" stroke="#4d4d4d" stroke-width="3.0"/>
<line x1="362.5" y1="926.7" x2="410.5" y2="926.7" stroke="#4d4d4d" stroke-width="3.0" stroke-linecap="round"/>
<line x1="386.5" y1="903.7" x2="386.5" y2="849.8" stroke="#4d4d4d" stroke-width="3.0" stroke-linecap="butt"/>
<line x1="386.5" y1="936.2" x2="386.5" y2="948.9" stroke="#4d4d4d" stroke-width="3.0" stroke-linecap="butt"/>
<line x1="374.4" y1="849.8" x2="398.6" y2="849.8" stroke="#4d4d4d" stroke-width="3.0" stroke-linecap="round"/>
<line x1="374.4" y1="948.9" x2="398.6" y2="948.9" stroke="#4d4d4d" stroke-width="3.0" stroke-linecap="round"/>
<rect x="435.6" y="828.1" width="46.0" height="82.7" fill="none" stroke="#e95f14" stroke-width="3.0"/>
<line x1="434.6" y1="888.9" x2="482.6" y2="888.9" stroke="#e95f14" stroke-width="3.0" stroke-linecap="round"/>
<line x1="458.6" y1="828.1" x2="458.6" y2="768.2" stroke="#e95f14" stroke-width="3.0" stroke-linecap="butt"/>
<line x1="458.6" y1="910.8" x2="458.6" y2="937.0" stroke="#e95f14" stroke-width="3.0" stroke-linecap="butt"/>
<line x1="446.0" y1="768.2" x2="471.2" y2="768.2" stroke="#e95f14" stroke-width="3.0" stroke-linecap="round"/>
<line x1="446.0" y1="937.0" x2="471.2" y2="937.0" stroke="#e95f14" stroke-width="3.0" stroke-linecap="round"/>
<polyline points="385.2,837.9 385.2,738.8 457.8,738.8 457.8,759.4" fill="none" stroke="#000" stroke-width="3.6" stroke-linejoin="miter"/>
<text x="378.2" y="728.8" font-family='"Liberation Serif", serif' font-size="26.07" font-weight="bold" text-anchor="start" fill="#000" textLength="86.0" lengthAdjust="spacingAndGlyphs">P=0.012</text>
<rect x="548.5" y="751.1" width="24.8" height="11.7" fill="none" stroke="#4d4d4d" stroke-width="3"/>
<rect x="548.5" y="785.1" width="24.8" height="11.7" fill="none" stroke="#e95f14" stroke-width="3"/>
<text x="589.4" y="763.7" font-family='"Liberation Sans", sans-serif' font-size="20.5" font-weight="normal" text-anchor="start" fill="#000" textLength="99.9" lengthAdjust="spacingAndGlyphs" stroke="#000" stroke-width="0.4" stroke-linejoin="round">Con (13,3)</text>
<text x="589.8" y="798.3" font-family='"Liberation Sans", sans-serif' font-size="20.5" font-weight="normal" text-anchor="start" fill="#000" textLength="90.7" lengthAdjust="spacingAndGlyphs" stroke="#000" stroke-width="0.4" stroke-linejoin="round">ZO (13,3)</text>
<text x="740.5" y="631.1" font-family='"Liberation Sans", sans-serif' font-size="64.27" font-weight="bold" text-anchor="start" fill="#000" textLength="38.9" lengthAdjust="spacingAndGlyphs">C</text>
<line x1="897.3" y1="669.4" x2="897.3" y2="1038.5" stroke="#000" stroke-width="3.4" stroke-linecap="round"/>
<line x1="881.9" y1="670.4" x2="897.3" y2="670.4" stroke="#000" stroke-width="3.4" stroke-linecap="round"/>
<line x1="881.9" y1="849.3" x2="897.3" y2="849.3" stroke="#000" stroke-width="3.4" stroke-linecap="round"/>
<line x1="881.9" y1="1028.2" x2="897.3" y2="1028.2" stroke="#000" stroke-width="3.4" stroke-linecap="round"/>
<line x1="897.3" y1="1028.2" x2="1436.1" y2="1028.2" stroke="#000" stroke-width="3.4" stroke-linecap="round"/>
<line x1="1076.0" y1="1028.2" x2="1076.0" y2="1038.5" stroke="#000" stroke-width="3.4" stroke-linecap="round"/>
<line x1="1254.8" y1="1028.2" x2="1254.8" y2="1038.5" stroke="#000" stroke-width="3.4" stroke-linecap="round"/>
<line x1="1434.1" y1="1028.2" x2="1434.1" y2="1038.5" stroke="#000" stroke-width="3.4" stroke-linecap="round"/>
<text x="876.7" y="1037.9" font-family='"Liberation Sans", sans-serif' font-size="28" font-weight="bold" text-anchor="end" fill="#000">0.0</text>
<text x="876.7" y="859.0" font-family='"Liberation Sans", sans-serif' font-size="28" font-weight="bold" text-anchor="end" fill="#000">0.5</text>
<text x="876.7" y="680.1" font-family='"Liberation Sans", sans-serif' font-size="28" font-weight="bold" text-anchor="end" fill="#000">1.0</text>
<text x="897.3" y="1071.6" font-family='"Liberation Sans", sans-serif' font-size="28" font-weight="bold" text-anchor="middle" fill="#000">0</text>
<text x="1076.0" y="1071.6" font-family='"Liberation Sans", sans-serif' font-size="28" font-weight="bold" text-anchor="middle" fill="#000">20</text>
<text x="1254.8" y="1071.6" font-family='"Liberation Sans", sans-serif' font-size="28" font-weight="bold" text-anchor="middle" fill="#000">40</text>
<text x="1434.1" y="1071.6" font-family='"Liberation Sans", sans-serif' font-size="28" font-weight="bold" text-anchor="middle" fill="#000">60</text>
<text transform="translate(819.2,1022.6) rotate(-90)" x="0" y="0" font-family='"Liberation Sans", sans-serif' font-size="33.12" font-weight="normal" text-anchor="start" fill="#000" textLength="362.4" lengthAdjust="spacingAndGlyphs" stroke="#000" stroke-width="0.6" stroke-linejoin="round">Cumulative Probability</text>
<text x="1056.1" y="1111.3" font-family='"Liberation Sans", sans-serif' font-size="33.7" font-weight="normal" text-anchor="start" fill="#000" textLength="245.6" lengthAdjust="spacingAndGlyphs" stroke="#000" stroke-width="0.8" stroke-linejoin="round">Amplitude (pA)</text>
<polyline points="915.0,1028.2 916.3,1027.8 917.6,1027.3 918.8,1026.8 919.9,1026.2 920.8,1025.5 921.5,1024.8 922.2,1023.9 922.8,1023.0 923.4,1021.9 924.0,1020.8 924.5,1019.7 925.0,1018.4 925.5,1017.2 925.9,1015.9 926.4,1014.5 926.8,1013.2 927.2,1011.9 927.6,1010.6 928.0,1009.2 928.3,1008.0 928.7,1006.7 929.1,1005.5 929.5,1004.3 929.9,1003.1 930.2,1001.9 930.6,1000.7 930.9,999.4 931.3,998.2 931.6,997.0 931.9,995.8 932.2,994.5 932.5,993.3 932.8,992.0 933.2,990.8 933.5,989.6 933.7,988.3 934.0,987.1 934.3,985.8 934.6,984.6 934.9,983.3 935.2,982.1 935.5,980.8 935.7,979.6 936.0,978.3 936.3,977.1 936.6,975.8 936.8,974.6 937.1,973.4 937.4,972.1 937.7,970.9 937.9,969.6 938.2,968.4 938.5,967.1 938.7,965.9 939.0,964.6 939.2,963.4 939.5,962.1 939.8,960.9 940.0,959.6 940.3,958.4 940.5,957.1 940.7,955.9 941.0,954.6 941.2,953.4 941.5,952.1 941.7,950.9 941.9,949.6 942.2,948.4 942.4,947.1 942.6,945.9 942.8,944.6 943.1,943.3 943.3,942.1 943.5,940.8 943.7,939.6 943.9,938.3 944.1,937.1 944.3,935.8 944.5,934.5 944.7,933.3 944.9,932.0 945.1,930.8 945.3,929.5 945.4,928.2 945.6,927.0 945.8,925.7 946.0,924.5 946.2,923.2 946.4,921.9 946.5,920.7 946.7,919.4 946.9,918.1 947.1,916.9 947.3,915.6 947.5,914.4 947.7,913.1 947.9,911.8 948.1,910.6 948.3,909.3 948.5,908.1 948.7,906.8 948.9,905.6 949.1,904.3 949.3,903.1 949.6,901.8 949.8,900.5 950.0,899.3 950.2,898.0 950.5,896.8 950.7,895.5 950.9,894.3 951.1,893.0 951.4,891.8 951.6,890.5 951.8,889.3 952.1,888.0 952.3,886.7 952.5,885.5 952.7,884.2 953.0,883.0 953.2,881.7 953.4,880.5 953.6,879.2 953.9,878.0 954.1,876.7 954.3,875.4 954.5,874.2 954.7,872.9 954.9,871.7 955.2,870.4 955.4,869.2 955.6,867.9 955.8,866.7 956.0,865.4 956.2,864.1 956.4,862.9 956.7,861.6 956.9,860.4 957.1,859.1 957.3,857.9 957.5,856.6 957.8,855.3 958.0,854.1 958.2,852.8 958.4,851.6 958.7,850.3 958.9,849.1 959.1,847.8 959.4,846.6 959.6,845.3 959.9,844.1 960.1,842.8 960.4,841.6 960.6,840.3 960.9,839.1 961.2,837.8 961.4,836.6 961.7,835.3 961.9,834.1 962.2,832.8 962.5,831.6 962.8,830.4 963.0,829.1 963.3,827.9 963.6,826.6 963.9,825.4 964.1,824.1 964.4,822.9 964.7,821.6 965.0,820.4 965.3,819.2 965.5,817.9 965.8,816.7 966.1,815.4 966.4,814.2 966.6,812.9 966.9,811.7 967.2,810.4 967.5,809.2 967.8,807.9 968.0,806.7 968.3,805.4 968.6,804.2 968.9,803.0 969.2,801.7 969.6,800.5 969.9,799.3 970.2,798.0 970.6,796.8 971.0,795.6 971.3,794.4 971.8,793.2 972.2,792.0 972.7,790.8 973.1,789.7 973.6,788.5 974.1,787.3 974.7,786.1 975.2,785.0 975.7,783.8 976.2,782.6 976.7,781.4 977.2,780.3 977.7,779.1 978.1,777.9 978.5,776.7 978.9,775.5 979.3,774.3 979.7,773.0 980.0,771.8 980.4,770.6 980.7,769.3 981.1,768.1 981.4,766.9 981.7,765.6 982.1,764.4 982.4,763.2 982.8,761.9 983.2,760.7 983.6,759.5 984.0,758.3 984.4,757.2 984.9,756.0 985.4,754.8 986.0,753.7 986.5,752.6 987.1,751.4 987.7,750.3 988.4,749.2 989.0,748.1 989.6,747.0 990.3,745.8 990.9,744.7 991.6,743.6 992.2,742.5 992.8,741.4 993.5,740.3 994.1,739.2 994.7,738.1 995.4,737.0 996.0,735.9 996.6,734.8 997.3,733.7 997.9,732.6 998.6,731.5 999.3,730.4 1000.0,729.3 1000.7,728.3 1001.4,727.2 1002.1,726.2 1002.8,725.1 1003.6,724.1 1004.3,723.1 1005.1,722.0 1005.9,721.0 1006.7,720.0 1007.5,719.0 1008.3,718.0 1009.2,717.0 1010.0,716.1 1010.9,715.2 1011.8,714.3 1012.7,713.4 1013.6,712.5 1014.5,711.7 1015.5,710.9 1016.5,710.1 1017.5,709.3 1018.5,708.6 1019.6,707.9 1020.7,707.1 1021.7,706.4 1022.8,705.7 1023.9,705.0 1025.0,704.3 1026.1,703.7 1027.1,703.0 1028.2,702.3 1029.3,701.7 1030.4,701.0 1031.5,700.4 1032.7,699.8 1033.8,699.2 1034.9,698.6 1036.0,698.0 1037.2,697.4 1038.3,696.8 1039.5,696.3 1040.6,695.7 1041.8,695.2 1042.9,694.7 1044.1,694.1 1045.2,693.6 1046.4,693.1 1047.6,692.6 1048.8,692.1 1049.9,691.6 1051.1,691.1 1052.3,690.6 1053.5,690.2 1054.7,689.7 1055.9,689.3 1057.1,688.8 1058.3,688.4 1059.5,688.0 1060.7,687.7 1061.9,687.3 1063.1,686.9 1064.4,686.6 1065.6,686.2 1066.8,685.9 1068.1,685.6 1069.3,685.2 1070.5,684.9 1071.8,684.6 1073.0,684.3 1074.3,684.0 1075.5,683.8 1076.8,683.5 1078.0,683.3 1079.3,683.0 1080.5,682.8 1081.8,682.6 1083.0,682.4 1084.3,682.2 1085.5,682.0 1086.8,681.7 1088.1,681.5 1089.3,681.4 1090.6,681.2 1091.9,681.0 1093.1,680.8 1094.4,680.6 1095.6,680.5 1096.9,680.3 1098.2,680.2 1099.5,680.0 1100.7,679.9 1102.0,679.8 1103.3,679.7 1104.5,679.5 1105.8,679.4 1107.1,679.4 1108.3,679.3 1109.6,679.2 1110.9,679.1 1112.1,679.0 1113.4,678.9 1114.7,678.8 1115.9,678.8 1117.2,678.7 1118.5,678.6 1119.8,678.6 1121.0,678.5 1122.3,678.4 1123.6,678.4 1124.9,678.3 1126.1,678.2 1127.4,678.2 1128.7,678.1 1130.0,678.1 1131.2,678.0 1132.5,678.0 1133.8,677.9 1135.0,677.8 1136.3,677.8 1137.6,677.7 1138.9,677.7 1140.1,677.6 1141.4,677.6 1142.7,677.5 1144.0,677.5 1145.2,677.4 1146.5,677.4 1147.8,677.3 1149.1,677.3 1150.3,677.2 1151.6,677.2 1152.9,677.1 1154.2,677.1 1155.4,677.0 1156.7,677.0 1158.0,676.9 1159.3,676.8 1160.5,676.8 1161.8,676.7 1163.1,676.7 1164.4,676.6 1165.6,676.5 1166.9,676.5 1168.2,676.4 1169.5,676.4 1170.7,676.3 1172.0,676.3 1173.3,676.2 1174.5,676.1 1175.8,676.1 1177.1,676.0 1178.4,676.0 1179.6,675.9 1180.9,675.8 1182.2,675.8 1183.5,675.7 1184.7,675.7 1186.0,675.6 1187.3,675.6 1188.6,675.5 1189.8,675.4 1191.1,675.4 1192.4,675.3 1193.6,675.3 1194.9,675.2 1196.2,675.1 1197.5,675.1 1198.7,675.0 1200.0,675.0 1201.3,674.9 1202.6,674.9 1203.8,674.8 1205.1,674.8 1206.4,674.7 1207.7,674.6 1208.9,674.6 1210.2,674.5 1211.5,674.5 1212.7,674.4 1214.0,674.4 1215.3,674.3 1216.6,674.2 1217.8,674.2 1219.1,674.1 1220.4,674.1 1221.7,674.0 1222.9,674.0 1224.2,673.9 1225.5,673.8 1226.8,673.8 1228.0,673.7 1229.3,673.6 1230.6,673.6 1231.8,673.5 1233.1,673.4 1234.4,673.4 1235.7,673.3 1236.9,673.3 1238.2,673.2 1239.5,673.1 1240.8,673.1 1242.0,673.0 1243.3,672.9 1244.6,672.9 1245.9,672.8 1247.1,672.8 1248.4,672.7 1249.7,672.7 1250.9,672.6 1252.2,672.6 1253.5,672.5 1254.8,672.5 1256.0,672.4 1257.3,672.4 1258.6,672.3 1259.9,672.3 1261.1,672.2 1262.4,672.2 1263.7,672.2 1265.0,672.1 1266.2,672.1 1267.5,672.1 1268.8,672.0 1270.1,672.0 1271.3,672.0 1272.6,672.0 1273.9,671.9 1275.1,671.9 1276.4,671.9 1277.7,671.9 1279.0,671.9 1280.2,671.8 1281.5,671.8 1282.8,671.8 1284.1,671.8 1285.3,671.8 1286.6,671.8 1287.9,671.7 1289.2,671.7 1290.4,671.7 1291.7,671.7 1293.0,671.7 1294.3,671.7 1295.5,671.6 1296.8,671.6 1298.1,671.6 1299.4,671.6 1300.6,671.6 1301.9,671.6 1303.2,671.6 1304.5,671.6 1305.7,671.5 1307.0,671.5 1308.3,671.5 1309.6,671.5 1310.8,671.5 1312.1,671.5 1313.4,671.5 1314.7,671.5 1315.9,671.4 1317.2,671.4 1318.5,671.4 1319.8,671.4 1321.0,671.4 1322.3,671.4 1323.6,671.4 1324.9,671.4 1326.1,671.4 1327.4,671.4 1328.7,671.3 1330.0,671.3 1331.2,671.3 1332.5,671.3 1333.8,671.3 1335.1,671.3 1336.3,671.3 1337.6,671.3 1338.9,671.3 1340.2,671.3 1341.4,671.3 1342.7,671.2 1344.0,671.2 1345.3,671.2 1346.5,671.2 1347.8,671.2 1349.1,671.2 1350.4,671.2 1351.6,671.2 1352.9,671.2 1354.2,671.2 1355.4,671.2 1356.7,671.2 1358.0,671.1 1359.3,671.1 1360.5,671.1 1361.8,671.1 1363.1,671.1 1364.4,671.1 1365.6,671.1 1366.9,671.1 1368.2,671.1 1369.5,671.1 1370.7,671.1 1372.0,671.1 1373.3,671.1 1374.6,671.0 1375.8,671.0 1377.1,671.0 1378.4,671.0 1379.7,671.0 1380.9,671.0 1382.2,671.0 1383.5,671.0 1384.8,671.0 1386.0,671.0 1387.3,671.0 1388.6,671.0 1389.9,671.0 1391.1,671.0 1392.4,671.0 1393.7,670.9 1395.0,670.9 1396.2,670.9 1397.5,670.9 1398.8,670.9 1400.1,670.9 1401.3,670.9 1402.6,670.9 1403.9,670.9 1405.2,670.9 1406.4,670.9 1407.7,670.9 1409.0,670.9 1410.3,670.9 1411.5,670.9 1412.8,670.9 1414.1,670.9 1415.4,670.9 1416.6,670.8 1417.9,670.8 1419.2,670.8 1420.5,670.8 1421.7,670.8 1423.0,670.8 1424.3,670.8 1425.6,670.8 1426.8,670.8 1428.1,670.8 1429.4,670.8 1430.7,670.8 1431.9,670.8 1433.2,670.8" fill="none" stroke="#e95f14" stroke-width="3.6" stroke-linejoin="round" stroke-linecap="butt"/>
<polyline points="897.3,1028.2 898.7,1028.2 900.1,1028.2 901.5,1028.2 902.8,1028.2 904.2,1028.1 905.4,1028.1 906.7,1028.1 907.9,1028.1 909.2,1028.0 910.3,1028.0 911.5,1027.9 912.6,1027.9 913.8,1027.8 914.9,1027.4 916.0,1026.7 917.1,1025.9 918.1,1024.9 918.9,1023.9 919.6,1022.9 920.2,1021.9 920.7,1020.8 921.2,1019.7 921.7,1018.5 922.1,1017.2 922.5,1016.0 922.9,1014.7 923.3,1013.4 923.7,1012.2 924.1,1011.0 924.5,1009.8 924.9,1008.6 925.2,1007.4 925.6,1006.2 926.0,1004.9 926.3,1003.7 926.7,1002.5 927.0,1001.3 927.4,1000.1 927.7,998.8 928.0,997.6 928.4,996.4 928.7,995.2 929.0,993.9 929.3,992.7 929.6,991.5 930.0,990.2 930.3,989.0 930.6,987.8 930.9,986.5 931.2,985.3 931.4,984.1 931.7,982.8 932.0,981.6 932.3,980.3 932.6,979.1 932.9,977.9 933.2,976.6 933.5,975.4 933.7,974.2 934.0,972.9 934.3,971.7 934.6,970.4 934.8,969.2 935.1,968.0 935.3,966.7 935.6,965.5 935.8,964.2 936.1,963.0 936.3,961.7 936.6,960.5 936.8,959.3 937.1,958.0 937.3,956.8 937.5,955.5 937.8,954.3 938.0,953.0 938.3,951.8 938.5,950.5 938.7,949.3 939.0,948.0 939.2,946.8 939.4,945.5 939.7,944.3 939.9,943.0 940.1,941.8 940.4,940.6 940.6,939.3 940.9,938.1 941.1,936.8 941.4,935.6 941.6,934.3 941.9,933.1 942.1,931.8 942.4,930.6 942.6,929.4 942.9,928.1 943.1,926.9 943.4,925.6 943.6,924.4 943.9,923.1 944.1,921.9 944.4,920.6 944.6,919.4 944.9,918.2 945.1,916.9 945.4,915.7 945.7,914.4 945.9,913.2 946.2,911.9 946.4,910.7 946.7,909.5 947.0,908.2 947.2,907.0 947.5,905.7 947.8,904.5 948.1,903.3 948.4,902.0 948.6,900.8 948.9,899.6 949.2,898.3 949.5,897.1 949.8,895.9 950.1,894.6 950.5,893.4 950.8,892.2 951.2,891.0 951.5,889.8 951.9,888.5 952.2,887.3 952.6,886.1 953.0,884.9 953.3,883.7 953.7,882.5 954.1,881.2 954.4,880.0 954.8,878.8 955.1,877.6 955.5,876.4 955.8,875.1 956.1,873.9 956.5,872.7 956.8,871.5 957.1,870.2 957.4,869.0 957.8,867.8 958.1,866.6 958.4,865.3 958.7,864.1 959.1,862.9 959.4,861.7 959.7,860.4 960.0,859.2 960.4,858.0 960.7,856.8 961.0,855.5 961.4,854.3 961.7,853.1 962.0,851.9 962.4,850.6 962.7,849.4 963.1,848.2 963.4,847.0 963.8,845.8 964.1,844.5 964.5,843.3 964.8,842.1 965.2,840.9 965.5,839.7 965.9,838.4 966.2,837.2 966.5,836.0 966.9,834.8 967.2,833.6 967.6,832.3 967.9,831.1 968.3,829.9 968.6,828.7 968.9,827.4 969.3,826.2 969.6,825.0 969.9,823.8 970.3,822.5 970.6,821.3 970.9,820.1 971.3,818.9 971.6,817.6 972.0,816.4 972.3,815.2 972.7,814.0 973.0,812.8 973.4,811.6 973.8,810.4 974.2,809.1 974.5,807.9 974.9,806.7 975.3,805.5 975.7,804.3 976.1,803.1 976.6,801.9 977.0,800.7 977.4,799.5 977.8,798.3 978.2,797.1 978.7,795.9 979.1,794.7 979.5,793.5 980.0,792.4 980.4,791.2 980.9,790.0 981.3,788.8 981.8,787.6 982.3,786.4 982.7,785.3 983.2,784.1 983.7,782.9 984.2,781.7 984.7,780.6 985.2,779.4 985.7,778.2 986.2,777.1 986.7,775.9 987.2,774.8 987.7,773.6 988.3,772.4 988.8,771.3 989.4,770.2 989.9,769.0 990.5,767.9 991.1,766.8 991.6,765.6 992.2,764.5 992.8,763.4 993.4,762.3 994.0,761.1 994.6,760.0 995.2,758.9 995.7,757.7 996.3,756.6 996.9,755.5 997.4,754.3 998.0,753.2 998.5,752.1 999.1,750.9 999.7,749.8 1000.2,748.6 1000.8,747.5 1001.3,746.3 1001.9,745.2 1002.4,744.1 1003.0,742.9 1003.6,741.8 1004.2,740.7 1004.7,739.5 1005.3,738.4 1005.9,737.3 1006.5,736.2 1007.1,735.0 1007.7,733.9 1008.3,732.7 1008.8,731.6 1009.4,730.5 1010.0,729.3 1010.7,728.2 1011.3,727.1 1011.9,726.0 1012.6,725.0 1013.3,723.9 1014.0,722.9 1014.7,721.9 1015.5,720.9 1016.4,720.0 1017.2,719.1 1018.1,718.2 1019.0,717.3 1019.9,716.4 1020.9,715.5 1021.8,714.6 1022.7,713.7 1023.7,712.9 1024.6,712.0 1025.6,711.2 1026.5,710.3 1027.5,709.5 1028.4,708.7 1029.4,707.9 1030.4,707.1 1031.4,706.3 1032.4,705.6 1033.5,704.8 1034.5,704.1 1035.6,703.4 1036.7,702.7 1037.7,702.0 1038.8,701.3 1039.9,700.7 1041.0,700.0 1042.1,699.4 1043.2,698.8 1044.4,698.2 1045.5,697.7 1046.6,697.2 1047.8,696.7 1048.9,696.2 1050.1,695.7 1051.3,695.2 1052.5,694.8 1053.7,694.4 1054.9,693.9 1056.1,693.5 1057.3,693.1 1058.5,692.7 1059.7,692.3 1060.9,692.0 1062.2,691.6 1063.4,691.2 1064.6,690.8 1065.8,690.5 1067.0,690.1 1068.2,689.8 1069.5,689.4 1070.7,689.1 1071.9,688.8 1073.2,688.5 1074.4,688.2 1075.6,687.9 1076.8,687.6 1078.1,687.3 1079.3,687.0 1080.6,686.7 1081.8,686.4 1083.0,686.1 1084.3,685.8 1085.5,685.5 1086.7,685.2 1088.0,684.9 1089.2,684.6 1090.4,684.3 1091.7,684.0 1092.9,683.8 1094.2,683.5 1095.4,683.2 1096.7,683.0 1097.9,682.7 1099.1,682.5 1100.4,682.3 1101.6,682.0 1102.9,681.8 1104.1,681.6 1105.4,681.5 1106.6,681.3 1107.9,681.1 1109.1,680.9 1110.4,680.8 1111.6,680.6 1112.9,680.4 1114.2,680.3 1115.4,680.1 1116.7,680.0 1117.9,679.8 1119.2,679.7 1120.5,679.5 1121.7,679.4 1123.0,679.2 1124.2,679.1 1125.5,679.0 1126.8,678.8 1128.0,678.7 1129.3,678.6 1130.6,678.4 1131.8,678.3 1133.1,678.2 1134.3,678.1 1135.6,678.0 1136.9,677.8 1138.1,677.7 1139.4,677.6 1140.7,677.5 1141.9,677.4 1143.2,677.3 1144.5,677.2 1145.7,677.1 1147.0,677.0 1148.3,676.9 1149.5,676.8 1150.8,676.7 1152.1,676.6 1153.3,676.5 1154.6,676.4 1155.9,676.3 1157.1,676.2 1158.4,676.1 1159.7,676.0 1160.9,676.0 1162.2,675.9 1163.5,675.8 1164.7,675.7 1166.0,675.6 1167.3,675.5 1168.5,675.5 1169.8,675.4 1171.1,675.3 1172.3,675.2 1173.6,675.1 1174.9,675.1 1176.1,675.0 1177.4,674.9 1178.7,674.8 1179.9,674.8 1181.2,674.7 1182.5,674.6 1183.7,674.6 1185.0,674.5 1186.3,674.4 1187.5,674.4 1188.8,674.3 1190.1,674.2 1191.3,674.2 1192.6,674.1 1193.9,674.0 1195.1,674.0 1196.4,673.9 1197.7,673.9 1198.9,673.8 1200.2,673.7 1201.5,673.7 1202.7,673.6 1204.0,673.6 1205.3,673.5 1206.5,673.5 1207.8,673.4 1209.1,673.4 1210.3,673.4 1211.6,673.3 1212.9,673.3 1214.2,673.2 1215.4,673.2 1216.7,673.2 1218.0,673.1 1219.2,673.1 1220.5,673.1 1221.8,673.0 1223.0,673.0 1224.3,673.0 1225.6,672.9 1226.8,672.9 1228.1,672.9 1229.4,672.8 1230.6,672.8 1231.9,672.8 1233.2,672.8 1234.4,672.7 1235.7,672.7 1237.0,672.7 1238.2,672.6 1239.5,672.6 1240.8,672.6 1242.1,672.6 1243.3,672.5 1244.6,672.5 1245.9,672.5 1247.1,672.5 1248.4,672.5 1249.7,672.4 1250.9,672.4 1252.2,672.4 1253.5,672.4 1254.7,672.3 1256.0,672.3 1257.3,672.3 1258.5,672.3 1259.8,672.3 1261.1,672.2 1262.4,672.2 1263.6,672.2 1264.9,672.2 1266.2,672.2 1267.4,672.1 1268.7,672.1 1270.0,672.1 1271.2,672.1 1272.5,672.1 1273.8,672.1 1275.0,672.0 1276.3,672.0 1277.6,672.0 1278.8,672.0 1280.1,672.0 1281.4,671.9 1282.6,671.9 1283.9,671.9 1285.2,671.9 1286.5,671.9 1287.7,671.9 1289.0,671.8 1290.3,671.8 1291.5,671.8 1292.8,671.8 1294.1,671.8 1295.3,671.8 1296.6,671.7 1297.9,671.7 1299.1,671.7 1300.4,671.7 1301.7,671.7 1302.9,671.7 1304.2,671.6 1305.5,671.6 1306.8,671.6 1308.0,671.6 1309.3,671.6 1310.6,671.6 1311.8,671.6 1313.1,671.5 1314.4,671.5 1315.6,671.5 1316.9,671.5 1318.2,671.5 1319.4,671.5 1320.7,671.5 1322.0,671.4 1323.2,671.4 1324.5,671.4 1325.8,671.4 1327.0,671.4 1328.3,671.4 1329.6,671.4 1330.9,671.4 1332.1,671.3 1333.4,671.3 1334.7,671.3 1335.9,671.3 1337.2,671.3 1338.5,671.3 1339.7,671.3 1341.0,671.3 1342.3,671.3 1343.5,671.3 1344.8,671.2 1346.1,671.2 1347.3,671.2 1348.6,671.2 1349.9,671.2 1351.2,671.2 1352.4,671.2 1353.7,671.2 1355.0,671.2 1356.2,671.2 1357.5,671.1 1358.8,671.1 1360.0,671.1 1361.3,671.1 1362.6,671.1 1363.8,671.1 1365.1,671.1 1366.4,671.1 1367.6,671.1 1368.9,671.1 1370.2,671.1 1371.5,671.0 1372.7,671.0 1374.0,671.0 1375.3,671.0 1376.5,671.0 1377.8,671.0 1379.1,671.0 1380.3,671.0 1381.6,671.0 1382.9,671.0 1384.1,671.0 1385.4,671.0 1386.7,671.0 1387.9,670.9 1389.2,670.9 1390.5,670.9 1391.8,670.9 1393.0,670.9 1394.3,670.9 1395.6,670.9 1396.8,670.9 1398.1,670.9 1399.4,670.9 1400.6,670.9 1401.9,670.9 1403.2,670.9 1404.4,670.9 1405.7,670.9 1407.0,670.9 1408.2,670.8 1409.5,670.8 1410.8,670.8 1412.1,670.8 1413.3,670.8 1414.6,670.8 1415.9,670.8 1417.1,670.8 1418.4,670.8 1419.7,670.8 1420.9,670.8 1422.2,670.8" fill="none" stroke="#4d4d4d" stroke-width="3.6" stroke-linejoin="round" stroke-linecap="butt"/>
<line x1="1075.9" y1="761.1" x2="1075.9" y2="1017.9" stroke="#000" stroke-width="3.3" stroke-linecap="round"/>
<line x1="1065.3" y1="1016.4" x2="1075.9" y2="1016.4" stroke="#000" stroke-width="3.3" stroke-linecap="round"/>
<text x="1063.8" y="1023.3" font-family='"Liberation Sans", sans-serif' font-size="19.5" font-weight="bold" text-anchor="end" fill="#000">0</text>
<line x1="1065.3" y1="932.1" x2="1075.9" y2="932.1" stroke="#000" stroke-width="3.3" stroke-linecap="round"/>
<text x="1063.8" y="939.0" font-family='"Liberation Sans", sans-serif' font-size="19.5" font-weight="bold" text-anchor="end" fill="#000">5</text>
<line x1="1065.3" y1="847.0" x2="1075.9" y2="847.0" stroke="#000" stroke-width="3.3" stroke-linecap="round"/>
<text x="1063.8" y="853.9" font-family='"Liberation Sans", sans-serif' font-size="19.5" font-weight="bold" text-anchor="end" fill="#000">10</text>
<line x1="1065.3" y1="762.6" x2="1075.9" y2="762.6" stroke="#000" stroke-width="3.3" stroke-linecap="round"/>
<text x="1063.8" y="769.5" font-family='"Liberation Sans", sans-serif' font-size="19.5" font-weight="bold" text-anchor="end" fill="#000">15</text>
<text transform="translate(1034.0,982.1) rotate(-90)" x="0" y="0" font-family='"Liberation Sans", sans-serif' font-size="27.12" font-weight="normal" text-anchor="start" fill="#000" textLength="196.1" lengthAdjust="spacingAndGlyphs" stroke="#000" stroke-width="0.6" stroke-linejoin="round">Amplitude (pA)</text>
<rect x="1100.1" y="823.3" width="43.1" height="77.7" fill="none" stroke="#4d4d4d" stroke-width="3.0"/>
<line x1="1099.1" y1="863.1" x2="1144.2" y2="863.1" stroke="#4d4d4d" stroke-width="3.0" stroke-linecap="round"/>
<line x1="1121.8" y1="823.3" x2="1121.8" y2="800.8" stroke="#4d4d4d" stroke-width="3.0" stroke-linecap="butt"/>
<line x1="1121.8" y1="901.0" x2="1121.8" y2="924.2" stroke="#4d4d4d" stroke-width="3.0" stroke-linecap="butt"/>
<line x1="1109.8" y1="800.8" x2="1133.8" y2="800.8" stroke="#4d4d4d" stroke-width="3.0" stroke-linecap="round"/>
<line x1="1109.8" y1="924.2" x2="1133.8" y2="924.2" stroke="#4d4d4d" stroke-width="3.0" stroke-linecap="round"/>
<rect x="1168.3" y="838.9" width="43.1" height="56.2" fill="none" stroke="#e95f14" stroke-width="3.0"/>
<line x1="1167.3" y1="874.5" x2="1212.4" y2="874.5" stroke="#e95f14" stroke-width="3.0" stroke-linecap="round"/>
<line x1="1190.1" y1="838.9" x2="1190.1" y2="791.0" stroke="#e95f14" stroke-width="3.0" stroke-linecap="butt"/>
<line x1="1190.1" y1="895.1" x2="1190.1" y2="917.0" stroke="#e95f14" stroke-width="3.0" stroke-linecap="butt"/>
<line x1="1178.6" y1="791.0" x2="1201.5" y2="791.0" stroke="#e95f14" stroke-width="3.0" stroke-linecap="round"/>
<line x1="1178.6" y1="917.0" x2="1201.5" y2="917.0" stroke="#e95f14" stroke-width="3.0" stroke-linecap="round"/>
<polyline points="1121.5,792.9 1121.5,757.7 1189.7,757.7 1189.7,785.8" fill="none" stroke="#000" stroke-width="3.6" stroke-linejoin="miter"/>
<text x="1118.6" y="745.8" font-family='"Liberation Serif", serif' font-size="26.07" font-weight="bold" text-anchor="start" fill="#000" textLength="73.5" lengthAdjust="spacingAndGlyphs">P=0.32</text>
<rect x="1267.3" y="751.1" width="24.8" height="11.7" fill="none" stroke="#4d4d4d" stroke-width="3"/>
<rect x="1267.3" y="785.1" width="24.8" height="11.7" fill="none" stroke="#e95f14" stroke-width="3"/>
<text x="1308.3" y="763.7" font-family='"Liberation Sans", sans-serif' font-size="20.5" font-weight="normal" text-anchor="start" fill="#000" textLength="99.8" lengthAdjust="spacingAndGlyphs" stroke="#000" stroke-width="0.4" stroke-linejoin="round">Con (13,3)</text>
<text x="1308.7" y="798.3" font-family='"Liberation Sans", sans-serif' font-size="20.5" font-weight="normal" text-anchor="start" fill="#000" textLength="90.6" lengthAdjust="spacingAndGlyphs" stroke="#000" stroke-width="0.4" stroke-linejoin="round">ZO (13,3)</text>
<text x="4.2" y="1828.2" font-family='"Liberation Sans", sans-serif' font-size="63.08" font-weight="bold" text-anchor="start" fill="#000" textLength="30.0" lengthAdjust="spacingAndGlyphs">E</text>
<line x1="159.2" y1="1874.6" x2="159.2" y2="2243.5" stroke="#000" stroke-width="3.4" stroke-linecap="round"/>
<line x1="143.8" y1="1875.6" x2="159.2" y2="1875.6" stroke="#000" stroke-width="3.4" stroke-linecap="round"/>
<line x1="143.8" y1="2054.4" x2="159.2" y2="2054.4" stroke="#000" stroke-width="3.4" stroke-linecap="round"/>
<line x1="143.8" y1="2233.2" x2="159.2" y2="2233.2" stroke="#000" stroke-width="3.4" stroke-linecap="round"/>
<line x1="159.2" y1="2233.2" x2="697.6" y2="2233.2" stroke="#000" stroke-width="3.4" stroke-linecap="round"/>
<line x1="337.8" y1="2233.2" x2="337.8" y2="2243.5" stroke="#000" stroke-width="3.4" stroke-linecap="round"/>
<line x1="515.7" y1="2233.2" x2="515.7" y2="2243.5" stroke="#000" stroke-width="3.4" stroke-linecap="round"/>
<line x1="695.6" y1="2233.2" x2="695.6" y2="2243.5" stroke="#000" stroke-width="3.4" stroke-linecap="round"/>
<text x="138.6" y="2242.9" font-family='"Liberation Sans", sans-serif' font-size="28" font-weight="bold" text-anchor="end" fill="#000">0.0</text>
<text x="138.6" y="2064.1" font-family='"Liberation Sans", sans-serif' font-size="28" font-weight="bold" text-anchor="end" fill="#000">0.5</text>
<text x="138.6" y="1885.3" font-family='"Liberation Sans", sans-serif' font-size="28" font-weight="bold" text-anchor="end" fill="#000">1.0</text>
<text x="158.8" y="2276.6" font-family='"Liberation Sans", sans-serif' font-size="28" font-weight="bold" text-anchor="middle" fill="#000">0</text>
<text x="337.8" y="2276.6" font-family='"Liberation Sans", sans-serif' font-size="28" font-weight="bold" text-anchor="middle" fill="#000">10</text>
<text x="515.7" y="2276.6" font-family='"Liberation Sans", sans-serif' font-size="28" font-weight="bold" text-anchor="middle" fill="#000">20</text>
<text x="695.6" y="2276.6" font-family='"Liberation Sans", sans-serif' font-size="28" font-weight="bold" text-anchor="middle" fill="#000">30</text>
<text transform="translate(87.9,2230.9) rotate(-90)" x="0" y="0" font-family='"Liberation Sans", sans-serif' font-size="33.12" font-weight="normal" text-anchor="start" fill="#000" textLength="362.4" lengthAdjust="spacingAndGlyphs" stroke="#000" stroke-width="0.6" stroke-linejoin="round">Cumulative Probability</text>
<text x="311.0" y="2316.0" font-family='"Liberation Sans", sans-serif' font-size="33.7" font-weight="normal" text-anchor="start" fill="#000" textLength="240.6" lengthAdjust="spacingAndGlyphs" stroke="#000" stroke-width="0.8" stroke-linejoin="round">Frequency (Hz)</text>
<polyline points="161.0,2233.2 161.4,2232.0 161.8,2230.9 162.2,2229.7 162.4,2228.5 162.7,2227.3 162.9,2226.1 163.1,2224.9 163.3,2223.7 163.5,2222.5 163.7,2221.3 163.9,2220.1 164.0,2218.8 164.2,2217.6 164.4,2216.4 164.6,2215.2 164.7,2214.0 164.9,2212.8 165.0,2211.5 165.2,2210.3 165.3,2209.1 165.5,2207.9 165.6,2206.6 165.7,2205.4 165.8,2204.2 166.0,2202.9 166.1,2201.7 166.2,2200.5 166.3,2199.2 166.4,2198.0 166.6,2196.8 166.7,2195.5 166.8,2194.3 166.9,2193.0 167.0,2191.8 167.1,2190.6 167.2,2189.3 167.3,2188.1 167.4,2186.8 167.5,2185.6 167.6,2184.4 167.7,2183.1 167.8,2181.9 167.9,2180.6 168.0,2179.4 168.1,2178.2 168.2,2176.9 168.3,2175.7 168.4,2174.4 168.5,2173.2 168.7,2172.0 168.8,2170.7 168.9,2169.5 169.0,2168.3 169.1,2167.0 169.2,2165.8 169.4,2164.6 169.5,2163.3 169.6,2162.1 169.7,2160.9 169.9,2159.6 170.0,2158.4 170.1,2157.2 170.2,2155.9 170.3,2154.7 170.5,2153.5 170.6,2152.3 170.7,2151.0 170.8,2149.8 170.9,2148.6 171.1,2147.3 171.2,2146.1 171.3,2144.9 171.4,2143.6 171.5,2142.4 171.7,2141.2 171.8,2139.9 171.9,2138.7 172.0,2137.5 172.1,2136.3 172.2,2135.0 172.4,2133.8 172.5,2132.6 172.6,2131.3 172.7,2130.1 172.8,2128.9 173.0,2127.6 173.1,2126.4 173.2,2125.2 173.3,2123.9 173.5,2122.7 173.6,2121.5 173.7,2120.3 173.8,2119.0 174.0,2117.8 174.1,2116.6 174.2,2115.3 174.4,2114.1 174.5,2112.9 174.6,2111.7 174.8,2110.4 174.9,2109.2 175.0,2108.0 175.2,2106.7 175.3,2105.5 175.4,2104.3 175.6,2103.0 175.7,2101.8 175.9,2100.6 176.0,2099.4 176.1,2098.1 176.3,2096.9 176.4,2095.7 176.6,2094.4 176.7,2093.2 176.9,2092.0 177.0,2090.8 177.2,2089.5 177.3,2088.3 177.5,2087.1 177.6,2085.8 177.8,2084.6 177.9,2083.4 178.1,2082.2 178.3,2080.9 178.4,2079.7 178.6,2078.5 178.8,2077.3 179.0,2076.1 179.1,2074.8 179.3,2073.6 179.5,2072.4 179.7,2071.2 179.9,2070.0 180.1,2068.7 180.4,2067.5 180.6,2066.3 180.8,2065.1 181.0,2063.9 181.2,2062.7 181.5,2061.4 181.7,2060.2 182.0,2059.0 182.2,2057.8 182.5,2056.6 182.7,2055.4 183.0,2054.2 183.2,2053.0 183.5,2051.7 183.7,2050.5 184.0,2049.3 184.3,2048.1 184.6,2046.9 184.8,2045.7 185.1,2044.5 185.4,2043.3 185.6,2042.1 185.9,2040.9 186.2,2039.7 186.5,2038.5 186.8,2037.3 187.1,2036.1 187.3,2034.9 187.6,2033.7 187.9,2032.4 188.2,2031.2 188.6,2030.0 188.9,2028.8 189.2,2027.6 189.5,2026.4 189.9,2025.3 190.2,2024.1 190.6,2022.9 190.9,2021.7 191.3,2020.5 191.7,2019.4 192.1,2018.2 192.5,2017.1 192.9,2015.9 193.4,2014.8 193.9,2013.6 194.4,2012.5 194.9,2011.4 195.4,2010.3 196.0,2009.2 196.5,2008.0 197.0,2006.9 197.6,2005.8 198.1,2004.7 198.7,2003.6 199.2,2002.4 199.7,2001.3 200.2,2000.2 200.7,1999.0 201.1,1997.9 201.6,1996.7 202.0,1995.5 202.4,1994.4 202.8,1993.2 203.3,1992.0 203.7,1990.8 204.1,1989.7 204.6,1988.5 205.1,1987.4 205.6,1986.3 206.1,1985.2 206.7,1984.1 207.3,1983.1 207.9,1982.1 208.6,1981.1 209.3,1980.1 210.1,1979.1 210.8,1978.1 211.6,1977.2 212.4,1976.2 213.2,1975.3 214.1,1974.3 214.9,1973.4 215.7,1972.4 216.6,1971.5 217.4,1970.6 218.2,1969.6 219.0,1968.7 219.8,1967.7 220.6,1966.8 221.4,1965.8 222.2,1964.8 222.9,1963.8 223.7,1962.9 224.5,1961.9 225.2,1960.9 226.0,1959.9 226.8,1958.9 227.6,1957.9 228.3,1957.0 229.1,1956.0 229.9,1955.0 230.7,1954.1 231.5,1953.1 232.3,1952.2 233.1,1951.3 234.0,1950.4 234.8,1949.5 235.7,1948.6 236.5,1947.7 237.4,1946.9 238.3,1946.1 239.2,1945.3 240.1,1944.5 241.1,1943.7 242.0,1943.0 243.0,1942.2 244.0,1941.5 245.0,1940.8 246.0,1940.1 247.1,1939.4 248.1,1938.7 249.1,1938.1 250.2,1937.4 251.2,1936.7 252.3,1936.1 253.4,1935.4 254.4,1934.7 255.5,1934.0 256.5,1933.4 257.5,1932.7 258.6,1932.0 259.6,1931.3 260.6,1930.5 261.6,1929.8 262.6,1929.0 263.6,1928.3 264.5,1927.5 265.5,1926.7 266.5,1925.9 267.5,1925.1 268.4,1924.4 269.4,1923.6 270.4,1922.8 271.3,1922.0 272.3,1921.2 273.3,1920.4 274.3,1919.7 275.3,1918.9 276.2,1918.2 277.2,1917.5 278.3,1916.7 279.3,1916.1 280.3,1915.4 281.3,1914.8 282.4,1914.1 283.4,1913.6 284.5,1913.0 285.6,1912.4 286.7,1911.9 287.8,1911.4 288.9,1910.9 290.0,1910.4 291.1,1909.9 292.3,1909.4 293.4,1908.9 294.6,1908.5 295.8,1908.0 296.9,1907.6 298.1,1907.1 299.3,1906.7 300.4,1906.3 301.6,1905.9 302.8,1905.5 304.0,1905.1 305.2,1904.7 306.3,1904.3 307.5,1903.9 308.7,1903.5 309.9,1903.1 311.0,1902.8 312.2,1902.4 313.4,1902.1 314.6,1901.7 315.8,1901.4 317.0,1901.0 318.2,1900.7 319.3,1900.4 320.5,1900.0 321.7,1899.7 322.9,1899.4 324.1,1899.1 325.3,1898.8 326.6,1898.5 327.8,1898.2 329.0,1897.9 330.2,1897.7 331.4,1897.4 332.6,1897.1 333.8,1896.9 335.0,1896.6 336.2,1896.4 337.4,1896.1 338.6,1895.9 339.8,1895.7 341.1,1895.4 342.3,1895.2 343.5,1895.0 344.7,1894.8 345.9,1894.6 347.1,1894.4 348.4,1894.1 349.6,1893.9 350.8,1893.8 352.0,1893.6 353.3,1893.4 354.5,1893.2 355.7,1893.0 356.9,1892.8 358.1,1892.6 359.4,1892.5 360.6,1892.3 361.8,1892.1 363.0,1891.9 364.3,1891.8 365.5,1891.6 366.7,1891.4 367.9,1891.3 369.2,1891.1 370.4,1890.9 371.6,1890.8 372.8,1890.6 374.1,1890.5 375.3,1890.3 376.5,1890.1 377.7,1890.0 379.0,1889.8 380.2,1889.7 381.4,1889.5 382.7,1889.4 383.9,1889.3 385.1,1889.1 386.3,1889.0 387.6,1888.8 388.8,1888.7 390.0,1888.6 391.3,1888.4 392.5,1888.3 393.7,1888.2 394.9,1888.0 396.2,1887.9 397.4,1887.8 398.6,1887.7 399.9,1887.6 401.1,1887.4 402.3,1887.3 403.6,1887.2 404.8,1887.1 406.0,1887.0 407.3,1886.8 408.5,1886.7 409.7,1886.6 410.9,1886.5 412.2,1886.3 413.4,1886.2 414.6,1886.1 415.9,1885.9 417.1,1885.8 418.3,1885.6 419.5,1885.5 420.8,1885.3 422.0,1885.2 423.2,1885.0 424.4,1884.9 425.7,1884.7 426.9,1884.5 428.1,1884.4 429.3,1884.2 430.6,1884.0 431.8,1883.9 433.0,1883.7 434.2,1883.5 435.5,1883.3 436.7,1883.2 437.9,1883.0 439.1,1882.8 440.4,1882.7 441.6,1882.5 442.8,1882.3 444.0,1882.1 445.3,1882.0 446.5,1881.8 447.7,1881.6 448.9,1881.5 450.2,1881.3 451.4,1881.1 452.6,1881.0 453.8,1880.8 455.1,1880.6 456.3,1880.5 457.5,1880.3 458.7,1880.1 460.0,1879.9 461.2,1879.7 462.4,1879.5 463.6,1879.4 464.9,1879.2 466.1,1879.0 467.3,1878.8 468.5,1878.7 469.8,1878.5 471.0,1878.4 472.2,1878.3 473.5,1878.1 474.7,1878.0 475.9,1877.9 477.1,1877.9 478.4,1877.8 479.6,1877.7 480.8,1877.6 482.1,1877.6 483.3,1877.5 484.5,1877.4 485.8,1877.4 487.0,1877.3 488.2,1877.2 489.5,1877.2 490.7,1877.1 492.0,1877.0 493.2,1877.0 494.4,1876.9 495.7,1876.9 496.9,1876.8 498.1,1876.8 499.4,1876.7 500.6,1876.7 501.8,1876.7 503.1,1876.6 504.3,1876.6 505.6,1876.6 506.8,1876.5 508.0,1876.5 509.3,1876.5 510.5,1876.4 511.7,1876.4 513.0,1876.4 514.2,1876.4 515.4,1876.4 516.7,1876.4 517.9,1876.4 519.2,1876.3 520.4,1876.3 521.6,1876.3 522.9,1876.3 524.1,1876.3 525.3,1876.3 526.6,1876.3 527.8,1876.3 529.0,1876.3 530.3,1876.2 531.5,1876.2 532.8,1876.2 534.0,1876.2 535.2,1876.2 536.5,1876.2 537.7,1876.2 538.9,1876.2 540.2,1876.2 541.4,1876.2 542.6,1876.2 543.9,1876.2 545.1,1876.1 546.4,1876.1 547.6,1876.1 548.8,1876.1 550.1,1876.1 551.3,1876.1 552.5,1876.1 553.8,1876.1 555.0,1876.1 556.2,1876.1 557.5,1876.1 558.7,1876.1 560.0,1876.1 561.2,1876.1 562.4,1876.1 563.7,1876.1 564.9,1876.1 566.1,1876.1 567.4,1876.0 568.6,1876.0 569.8,1876.0 571.1,1876.0 572.3,1876.0 573.6,1876.0 574.8,1876.0 576.0,1876.0 577.3,1876.0 578.5,1876.0 579.7,1876.0 581.0,1876.0 582.2,1876.0 583.4,1876.0 584.7,1876.0 585.9,1876.0 587.2,1876.0 588.4,1876.0 589.6,1876.0 590.9,1876.0 592.1,1876.0 593.3,1876.0 594.6,1875.9 595.8,1875.9 597.0,1875.9 598.3,1875.9 599.5,1875.9 600.8,1875.9 602.0,1875.9 603.2,1875.9 604.5,1875.9 605.7,1875.9 606.9,1875.9 608.2,1875.9 609.4,1875.9 610.6,1875.9 611.9,1875.9 613.1,1875.9 614.4,1875.9 615.6,1875.9 616.8,1875.9 618.1,1875.9 619.3,1875.9 620.5,1875.9 621.8,1875.9 623.0,1875.9 624.2,1875.9 625.5,1875.9 626.7,1875.9 628.0,1875.8 629.2,1875.8 630.4,1875.8 631.7,1875.8 632.9,1875.8 634.1,1875.8 635.4,1875.8 636.6,1875.8 637.8,1875.8 639.1,1875.8 640.3,1875.8 641.6,1875.8 642.8,1875.8 644.0,1875.8 645.3,1875.8 646.5,1875.8 647.7,1875.8 649.0,1875.8 650.2,1875.8 651.4,1875.8 652.7,1875.8 653.9,1875.8 655.2,1875.8 656.4,1875.8 657.6,1875.8 658.9,1875.8 660.1,1875.8" fill="none" stroke="#4d4d4d" stroke-width="3.6" stroke-linejoin="round" stroke-linecap="butt"/>
<polyline points="159.0,2233.2 159.1,2232.3 159.2,2231.3 159.4,2230.4 159.5,2229.5 159.6,2228.6 159.7,2227.6 159.8,2226.7 159.9,2225.8 160.0,2224.8 160.1,2223.9 160.3,2223.0 160.4,2222.0 160.5,2221.1 160.6,2220.2 160.7,2219.2 160.8,2218.3 160.9,2217.4 161.1,2216.5 161.2,2215.5 161.3,2214.6 161.4,2213.7 161.5,2212.7 161.6,2211.8 161.7,2210.9 161.8,2209.9 162.0,2209.0 162.1,2208.1 162.2,2207.2 162.3,2206.2 162.4,2205.3 162.5,2204.4 162.6,2203.4 162.7,2202.5 162.8,2201.6 163.0,2200.6 163.1,2199.7 163.2,2198.8 163.3,2197.9 163.4,2196.9 163.5,2196.0 163.6,2195.1 163.7,2194.1 163.8,2193.2 163.9,2192.3 164.0,2191.3 164.2,2190.4 164.3,2189.5 164.4,2188.5 164.5,2187.6 164.6,2186.7 164.7,2185.8 164.8,2184.8 164.9,2183.9 165.0,2183.0 165.1,2182.0 165.2,2181.1 165.3,2180.2 165.4,2179.2 165.5,2178.3 165.6,2177.4 165.7,2176.4 165.8,2175.5 165.9,2174.6 166.0,2173.6 166.1,2172.7 166.2,2171.8 166.3,2170.9 166.4,2169.9 166.5,2169.0 166.6,2168.1 166.7,2167.1 166.8,2166.2 166.9,2165.3 167.0,2164.3 167.1,2163.4 167.2,2162.5 167.3,2161.5 167.4,2160.6 167.5,2159.7 167.6,2158.7 167.7,2157.8 167.7,2156.9 167.8,2155.9 167.9,2155.0 168.0,2154.1 168.1,2153.1 168.2,2152.2 168.3,2151.3 168.4,2150.3 168.5,2149.4 168.6,2148.5 168.6,2147.5 168.7,2146.6 168.8,2145.7 168.9,2144.7 169.0,2143.8 169.1,2142.9 169.2,2141.9 169.3,2141.0 169.4,2140.1 169.4,2139.1 169.5,2138.2 169.6,2137.3 169.7,2136.3 169.8,2135.4 169.9,2134.5 170.0,2133.5 170.1,2132.6 170.2,2131.7 170.3,2130.8 170.4,2129.8 170.5,2128.9 170.6,2128.0 170.7,2127.0 170.8,2126.1 170.9,2125.2 171.0,2124.2 171.1,2123.3 171.2,2122.4 171.3,2121.4 171.4,2120.5 171.5,2119.6 171.6,2118.6 171.7,2117.7 171.8,2116.8 171.9,2115.8 172.0,2114.9 172.1,2114.0 172.2,2113.1 172.3,2112.1 172.4,2111.2 172.5,2110.3 172.6,2109.3 172.7,2108.4 172.9,2107.5 173.0,2106.5 173.1,2105.6 173.2,2104.7 173.3,2103.8 173.4,2102.8 173.5,2101.9 173.6,2101.0 173.8,2100.0 173.9,2099.1 174.0,2098.2 174.1,2097.2 174.2,2096.3 174.3,2095.4 174.5,2094.5 174.6,2093.5 174.7,2092.6 174.8,2091.7 174.9,2090.7 175.1,2089.8 175.2,2088.9 175.3,2087.9 175.4,2087.0 175.5,2086.1 175.7,2085.2 175.8,2084.2 175.9,2083.3 176.0,2082.4 176.2,2081.4 176.3,2080.5 176.4,2079.6 176.5,2078.7 176.7,2077.7 176.8,2076.8 176.9,2075.9 177.0,2074.9 177.2,2074.0 177.3,2073.1 177.4,2072.2 177.6,2071.2 177.7,2070.3 177.8,2069.4 178.0,2068.4 178.1,2067.5 178.2,2066.6 178.4,2065.7 178.5,2064.7 178.6,2063.8 178.8,2062.9 178.9,2062.0 179.1,2061.0 179.2,2060.1 179.4,2059.2 179.5,2058.3 179.6,2057.3 179.8,2056.4 179.9,2055.5 180.1,2054.6 180.2,2053.6 180.4,2052.7 180.5,2051.8 180.7,2050.9 180.9,2049.9 181.0,2049.0 181.2,2048.1 181.3,2047.2 181.5,2046.2 181.7,2045.3 181.8,2044.4 182.0,2043.5 182.1,2042.5 182.3,2041.6 182.5,2040.7 182.6,2039.8 182.8,2038.8 183.0,2037.9 183.1,2037.0 183.3,2036.1 183.5,2035.1 183.7,2034.2 183.8,2033.3 184.0,2032.4 184.2,2031.5 184.4,2030.5 184.6,2029.6 184.8,2028.7 185.0,2027.8 185.2,2026.9 185.4,2026.0 185.6,2025.0 185.8,2024.1 186.0,2023.2 186.2,2022.3 186.4,2021.4 186.6,2020.5 186.8,2019.6 187.1,2018.7 187.3,2017.8 187.5,2016.9 187.8,2016.0 188.0,2015.1 188.3,2014.2 188.5,2013.3 188.8,2012.4 189.1,2011.5 189.4,2010.6 189.6,2009.7 189.9,2008.8 190.2,2007.9 190.5,2007.0 190.8,2006.1 191.1,2005.3 191.5,2004.4 191.8,2003.5 192.1,2002.6 192.4,2001.7 192.7,2000.8 193.1,1999.9 193.4,1999.1 193.7,1998.2 194.0,1997.3 194.4,1996.4 194.7,1995.5 195.0,1994.7 195.3,1993.8 195.7,1992.9 196.0,1992.0 196.3,1991.2 196.7,1990.3 197.0,1989.4 197.3,1988.5 197.7,1987.6 198.0,1986.8 198.3,1985.9 198.7,1985.0 199.0,1984.1 199.4,1983.3 199.7,1982.4 200.1,1981.5 200.5,1980.7 200.8,1979.8 201.2,1979.0 201.6,1978.1 202.0,1977.3 202.4,1976.4 202.8,1975.6 203.2,1974.7 203.7,1973.9 204.1,1973.1 204.6,1972.3 205.0,1971.5 205.5,1970.7 206.0,1969.9 206.5,1969.1 207.0,1968.3 207.5,1967.5 208.1,1966.8 208.6,1966.0 209.1,1965.2 209.6,1964.4 210.2,1963.6 210.7,1962.8 211.2,1962.0 211.7,1961.3 212.2,1960.5 212.7,1959.7 213.2,1958.8 213.6,1958.0 214.1,1957.2 214.6,1956.4 215.1,1955.6 215.6,1954.8 216.0,1954.0 216.5,1953.2 217.0,1952.4 217.5,1951.6 218.0,1950.8 218.5,1950.0 219.0,1949.2 219.5,1948.4 220.0,1947.6 220.6,1946.8 221.1,1946.1 221.7,1945.3 222.2,1944.6 222.8,1943.9 223.4,1943.2 224.0,1942.5 224.6,1941.8 225.2,1941.1 225.8,1940.4 226.5,1939.7 227.1,1939.0 227.8,1938.4 228.5,1937.7 229.1,1937.0 229.8,1936.4 230.5,1935.7 231.2,1935.1 231.9,1934.4 232.6,1933.8 233.3,1933.2 234.0,1932.5 234.7,1931.9 235.4,1931.3 236.1,1930.7 236.8,1930.0 237.5,1929.4 238.2,1928.8 238.9,1928.2 239.6,1927.5 240.3,1926.9 241.0,1926.3 241.7,1925.7 242.4,1925.1 243.2,1924.5 243.9,1923.9 244.6,1923.3 245.4,1922.7 246.1,1922.1 246.9,1921.5 247.6,1921.0 248.4,1920.4 249.1,1919.9 249.9,1919.4 250.7,1918.9 251.4,1918.4 252.2,1917.9 253.0,1917.4 253.8,1916.9 254.6,1916.5 255.5,1916.1 256.3,1915.6 257.1,1915.2 258.0,1914.8 258.8,1914.4 259.7,1914.0 260.5,1913.6 261.4,1913.2 262.2,1912.8 263.1,1912.4 263.9,1912.0 264.8,1911.6 265.6,1911.2 266.5,1910.7 267.3,1910.3 268.2,1909.9 269.0,1909.5 269.8,1909.1 270.7,1908.6 271.5,1908.2 272.3,1907.8 273.2,1907.3 274.0,1906.9 274.8,1906.5 275.7,1906.0 276.5,1905.6 277.3,1905.2 278.2,1904.8 279.0,1904.4 279.9,1903.9 280.7,1903.5 281.6,1903.1 282.4,1902.8 283.3,1902.4 284.1,1902.0 285.0,1901.6 285.8,1901.3 286.7,1900.9 287.6,1900.6 288.4,1900.2 289.3,1899.8 290.2,1899.5 291.0,1899.1 291.9,1898.8 292.8,1898.4 293.7,1898.1 294.5,1897.8 295.4,1897.4 296.3,1897.1 297.2,1896.8 298.1,1896.5 298.9,1896.1 299.8,1895.8 300.7,1895.5 301.6,1895.2 302.5,1894.9 303.4,1894.6 304.3,1894.3 305.2,1894.1 306.1,1893.8 307.0,1893.5 307.9,1893.3 308.8,1893.0 309.6,1892.8 310.5,1892.5 311.5,1892.3 312.4,1892.0 313.3,1891.8 314.2,1891.5 315.1,1891.3 316.0,1891.1 316.9,1890.8 317.8,1890.6 318.7,1890.4 319.6,1890.2 320.5,1890.0 321.5,1889.7 322.4,1889.5 323.3,1889.3 324.2,1889.1 325.1,1888.9 326.1,1888.7 327.0,1888.6 327.9,1888.4 328.8,1888.2 329.7,1888.0 330.7,1887.9 331.6,1887.7 332.5,1887.6 333.4,1887.4 334.3,1887.3 335.3,1887.1 336.2,1887.0 337.1,1886.9 338.0,1886.7 339.0,1886.6 339.9,1886.5 340.8,1886.3 341.8,1886.2 342.7,1886.1 343.6,1886.0 344.5,1885.9 345.5,1885.8 346.4,1885.6 347.3,1885.5 348.3,1885.4 349.2,1885.3 350.1,1885.2 351.1,1885.1 352.0,1885.0 352.9,1884.9 353.9,1884.8 354.8,1884.7 355.7,1884.6 356.7,1884.5 357.6,1884.4 358.5,1884.3 359.5,1884.2 360.4,1884.1 361.3,1884.0 362.3,1883.9 363.2,1883.8 364.1,1883.7 365.1,1883.6 366.0,1883.5 366.9,1883.4 367.8,1883.3 368.8,1883.2 369.7,1883.1 370.6,1883.0 371.6,1882.9 372.5,1882.8 373.4,1882.7 374.4,1882.6 375.3,1882.5 376.2,1882.4 377.2,1882.3 378.1,1882.2 379.0,1882.1 380.0,1882.0 380.9,1881.9 381.8,1881.8 382.8,1881.7 383.7,1881.6 384.6,1881.5 385.6,1881.4 386.5,1881.3 387.4,1881.3 388.4,1881.2 389.3,1881.1 390.2,1881.0 391.2,1880.9 392.1,1880.8 393.0,1880.7 393.9,1880.6 394.9,1880.5 395.8,1880.5 396.7,1880.4 397.7,1880.3 398.6,1880.2 399.5,1880.1 400.5,1880.0 401.4,1880.0 402.3,1879.9 403.3,1879.8 404.2,1879.7 405.1,1879.6 406.1,1879.5 407.0,1879.4 407.9,1879.4 408.9,1879.3 409.8,1879.2 410.7,1879.1 411.7,1879.0 412.6,1878.9 413.5,1878.8 414.5,1878.8 415.4,1878.7 416.3,1878.6 417.3,1878.5 418.2,1878.4 419.1,1878.3 420.1,1878.3 421.0,1878.2 422.0,1878.1 422.9,1878.0 423.8,1877.9 424.8,1877.9 425.7,1877.8 426.6,1877.7 427.6,1877.6 428.5,1877.6 429.4,1877.5 430.4,1877.4 431.3,1877.4 432.2,1877.3 433.2,1877.2 434.1,1877.2 435.0,1877.1 436.0,1877.1 436.9,1877.0 437.8,1877.0 438.8,1876.9 439.7,1876.9 440.6,1876.8 441.6,1876.8 442.5,1876.7 443.4,1876.7 444.4,1876.7 445.3,1876.6 446.3,1876.6 447.2,1876.5 448.1,1876.5 449.1,1876.5 450.0,1876.4 450.9,1876.4 451.9,1876.3 452.8,1876.3 453.7,1876.3 454.7,1876.2 455.6,1876.2 456.6,1876.2 457.5,1876.1 458.4,1876.1 459.4,1876.1 460.3,1876.1 461.2,1876.0 462.2,1876.0 463.1,1876.0 464.1,1876.0 465.0,1876.0 465.9,1875.9 466.9,1875.9 467.8,1875.9" fill="none" stroke="#e95f14" stroke-width="3.6" stroke-linejoin="round" stroke-linecap="butt"/>
<line x1="335.0" y1="1966.8" x2="335.0" y2="2223.5" stroke="#000" stroke-width="3.3" stroke-linecap="round"/>
<line x1="324.4" y1="2222.0" x2="335.0" y2="2222.0" stroke="#000" stroke-width="3.3" stroke-linecap="round"/>
<text x="322.2" y="2228.9" font-family='"Liberation Sans", sans-serif' font-size="19.5" font-weight="bold" text-anchor="end" fill="#000">0</text>
<line x1="324.4" y1="2095.1" x2="335.0" y2="2095.1" stroke="#000" stroke-width="3.3" stroke-linecap="round"/>
<text x="322.2" y="2102.0" font-family='"Liberation Sans", sans-serif' font-size="19.5" font-weight="bold" text-anchor="end" fill="#000">1</text>
<line x1="324.4" y1="1968.3" x2="335.0" y2="1968.3" stroke="#000" stroke-width="3.3" stroke-linecap="round"/>
<text x="322.2" y="1975.2" font-family='"Liberation Sans", sans-serif' font-size="19.5" font-weight="bold" text-anchor="end" fill="#000">2</text>
<text transform="translate(298.9,2189.9) rotate(-90)" x="0" y="0" font-family='"Liberation Sans", sans-serif' font-size="27.01" font-weight="normal" text-anchor="start" fill="#000" textLength="191.8" lengthAdjust="spacingAndGlyphs" stroke="#000" stroke-width="0.6" stroke-linejoin="round">Frequency (Hz)</text>
<rect x="360.7" y="2073.0" width="45.1" height="41.6" fill="none" stroke="#4d4d4d" stroke-width="3.0"/>
<line x1="359.7" y1="2097.5" x2="406.8" y2="2097.5" stroke="#4d4d4d" stroke-width="3.0" stroke-linecap="round"/>
<line x1="383.3" y1="2073.0" x2="383.3" y2="2036.2" stroke="#4d4d4d" stroke-width="3.0" stroke-linecap="butt"/>
<line x1="383.3" y1="2114.6" x2="383.3" y2="2121.3" stroke="#4d4d4d" stroke-width="3.0" stroke-linecap="butt"/>
<line x1="371.0" y1="2036.2" x2="395.6" y2="2036.2" stroke="#4d4d4d" stroke-width="3.0" stroke-linecap="round"/>
<line x1="371.0" y1="2121.3" x2="395.6" y2="2121.3" stroke="#4d4d4d" stroke-width="3.0" stroke-linecap="round"/>
<rect x="432.9" y="2076.6" width="45.5" height="66.6" fill="none" stroke="#e95f14" stroke-width="3.0"/>
<line x1="431.9" y1="2118.9" x2="479.4" y2="2118.9" stroke="#e95f14" stroke-width="3.0" stroke-linecap="round"/>
<line x1="455.5" y1="2076.6" x2="455.5" y2="2023.8" stroke="#e95f14" stroke-width="3.0" stroke-linecap="butt"/>
<line x1="455.5" y1="2143.2" x2="455.5" y2="2154.1" stroke="#e95f14" stroke-width="3.0" stroke-linecap="butt"/>
<line x1="443.1" y1="2023.8" x2="467.9" y2="2023.8" stroke="#e95f14" stroke-width="3.0" stroke-linecap="round"/>
<line x1="443.1" y1="2154.1" x2="467.9" y2="2154.1" stroke="#e95f14" stroke-width="3.0" stroke-linecap="round"/>
<polyline points="382.9,2023.8 382.9,1969.9 457.8,1969.9 457.8,2002.4" fill="none" stroke="#000" stroke-width="3.6" stroke-linejoin="miter"/>
<text x="377.9" y="1959.5" font-family='"Liberation Serif", serif' font-size="26.07" font-weight="bold" text-anchor="start" fill="#000" textLength="86.3" lengthAdjust="spacingAndGlyphs">P=0.032</text>
<rect x="550.6" y="1955.8" width="24.8" height="11.7" fill="none" stroke="#4d4d4d" stroke-width="3"/>
<rect x="550.6" y="1989.5" width="24.8" height="11.7" fill="none" stroke="#e95f14" stroke-width="3"/>
<text x="589.9" y="1968.7" font-family='"Liberation Sans", sans-serif' font-size="20.5" font-weight="normal" text-anchor="start" fill="#000" textLength="96.1" lengthAdjust="spacingAndGlyphs" stroke="#000" stroke-width="0.4" stroke-linejoin="round">Con (13,3)</text>
<text x="590.2" y="2002.7" font-family='"Liberation Sans", sans-serif' font-size="20.5" font-weight="normal" text-anchor="start" fill="#000" textLength="87.3" lengthAdjust="spacingAndGlyphs" stroke="#000" stroke-width="0.4" stroke-linejoin="round">ZO (13,3)</text>
<text x="739.1" y="1828.2" font-family='"Liberation Sans", sans-serif' font-size="63.08" font-weight="bold" text-anchor="start" fill="#000" textLength="29.3" lengthAdjust="spacingAndGlyphs">F</text>
<line x1="897.3" y1="1876.9" x2="897.3" y2="2245.9" stroke="#000" stroke-width="3.4" stroke-linecap="round"/>
<line x1="881.9" y1="1877.9" x2="897.3" y2="1877.9" stroke="#000" stroke-width="3.4" stroke-linecap="round"/>
<line x1="881.9" y1="2056.8" x2="897.3" y2="2056.8" stroke="#000" stroke-width="3.4" stroke-linecap="round"/>
<line x1="881.9" y1="2235.6" x2="897.3" y2="2235.6" stroke="#000" stroke-width="3.4" stroke-linecap="round"/>
<line x1="897.3" y1="2235.6" x2="1436.1" y2="2235.6" stroke="#000" stroke-width="3.4" stroke-linecap="round"/>
<line x1="1076.0" y1="2235.6" x2="1076.0" y2="2245.9" stroke="#000" stroke-width="3.4" stroke-linecap="round"/>
<line x1="1254.8" y1="2235.6" x2="1254.8" y2="2245.9" stroke="#000" stroke-width="3.4" stroke-linecap="round"/>
<line x1="1434.1" y1="2235.6" x2="1434.1" y2="2245.9" stroke="#000" stroke-width="3.4" stroke-linecap="round"/>
<text x="876.7" y="2245.3" font-family='"Liberation Sans", sans-serif' font-size="28" font-weight="bold" text-anchor="end" fill="#000">0.0</text>
<text x="876.7" y="2066.4" font-family='"Liberation Sans", sans-serif' font-size="28" font-weight="bold" text-anchor="end" fill="#000">0.5</text>
<text x="876.7" y="1887.6" font-family='"Liberation Sans", sans-serif' font-size="28" font-weight="bold" text-anchor="end" fill="#000">1.0</text>
<text x="897.3" y="2279.0" font-family='"Liberation Sans", sans-serif' font-size="28" font-weight="bold" text-anchor="middle" fill="#000">0</text>
<text x="1076.0" y="2279.0" font-family='"Liberation Sans", sans-serif' font-size="28" font-weight="bold" text-anchor="middle" fill="#000">20</text>
<text x="1254.8" y="2279.0" font-family='"Liberation Sans", sans-serif' font-size="28" font-weight="bold" text-anchor="middle" fill="#000">40</text>
<text x="1434.1" y="2279.0" font-family='"Liberation Sans", sans-serif' font-size="28" font-weight="bold" text-anchor="middle" fill="#000">60</text>
<text transform="translate(819.2,2231.6) rotate(-90)" x="0" y="0" font-family='"Liberation Sans", sans-serif' font-size="33.12" font-weight="normal" text-anchor="start" fill="#000" textLength="362.4" lengthAdjust="spacingAndGlyphs" stroke="#000" stroke-width="0.6" stroke-linejoin="round">Cumulative Probability</text>
<text x="1049.3" y="2316.3" font-family='"Liberation Sans", sans-serif' font-size="33.7" font-weight="normal" text-anchor="start" fill="#000" textLength="244.7" lengthAdjust="spacingAndGlyphs" stroke="#000" stroke-width="0.8" stroke-linejoin="round">Amplitude (pA)</text>
<polyline points="916.0,2235.6 916.6,2234.8 917.2,2233.9 917.7,2233.1 918.1,2232.2 918.6,2231.3 919.0,2230.4 919.4,2229.5 919.8,2228.5 920.2,2227.6 920.6,2226.7 920.9,2225.7 921.3,2224.8 921.6,2223.8 922.0,2222.9 922.3,2221.9 922.7,2221.0 923.0,2220.0 923.3,2219.1 923.7,2218.1 924.0,2217.2 924.3,2216.2 924.6,2215.3 924.9,2214.3 925.2,2213.3 925.5,2212.4 925.9,2211.4 926.1,2210.4 926.4,2209.5 926.7,2208.5 927.0,2207.5 927.3,2206.6 927.6,2205.6 927.8,2204.6 928.1,2203.7 928.4,2202.7 928.6,2201.7 928.9,2200.7 929.1,2199.8 929.4,2198.8 929.6,2197.8 929.8,2196.8 930.1,2195.9 930.3,2194.9 930.5,2193.9 930.7,2192.9 931.0,2191.9 931.2,2190.9 931.4,2190.0 931.6,2189.0 931.8,2188.0 932.0,2187.0 932.2,2186.0 932.4,2185.0 932.6,2184.0 932.8,2183.0 933.0,2182.1 933.2,2181.1 933.4,2180.1 933.6,2179.1 933.8,2178.1 934.0,2177.1 934.1,2176.1 934.3,2175.1 934.5,2174.1 934.7,2173.1 934.8,2172.1 935.0,2171.1 935.2,2170.2 935.3,2169.2 935.5,2168.2 935.6,2167.2 935.8,2166.2 935.9,2165.2 936.1,2164.2 936.2,2163.2 936.3,2162.2 936.5,2161.2 936.6,2160.2 936.7,2159.2 936.9,2158.2 937.0,2157.2 937.1,2156.2 937.2,2155.2 937.4,2154.2 937.5,2153.2 937.6,2152.2 937.8,2151.2 937.9,2150.2 938.0,2149.2 938.1,2148.2 938.3,2147.2 938.4,2146.2 938.6,2145.2 938.7,2144.2 938.8,2143.2 939.0,2142.2 939.1,2141.2 939.3,2140.2 939.5,2139.2 939.6,2138.2 939.8,2137.2 940.0,2136.2 940.1,2135.2 940.3,2134.3 940.5,2133.3 940.7,2132.3 940.9,2131.3 941.1,2130.3 941.3,2129.3 941.4,2128.3 941.6,2127.3 941.8,2126.3 942.0,2125.3 942.2,2124.4 942.4,2123.4 942.7,2122.4 942.9,2121.4 943.1,2120.4 943.3,2119.4 943.5,2118.4 943.7,2117.5 943.9,2116.5 944.1,2115.5 944.4,2114.5 944.6,2113.5 944.8,2112.5 945.0,2111.6 945.3,2110.6 945.5,2109.6 945.7,2108.6 946.0,2107.6 946.2,2106.7 946.5,2105.7 946.7,2104.7 946.9,2103.7 947.2,2102.8 947.5,2101.8 947.7,2100.8 948.0,2099.8 948.2,2098.9 948.5,2097.9 948.7,2096.9 949.0,2095.9 949.3,2095.0 949.5,2094.0 949.8,2093.0 950.1,2092.1 950.4,2091.1 950.6,2090.1 950.9,2089.1 951.2,2088.2 951.5,2087.2 951.8,2086.3 952.1,2085.3 952.4,2084.3 952.7,2083.4 953.0,2082.4 953.4,2081.5 953.7,2080.5 954.0,2079.5 954.3,2078.6 954.6,2077.6 954.9,2076.7 955.2,2075.7 955.5,2074.8 955.8,2073.8 956.1,2072.8 956.4,2071.9 956.7,2070.9 957.0,2069.9 957.2,2069.0 957.5,2068.0 957.8,2067.0 958.1,2066.0 958.4,2065.1 958.7,2064.1 959.0,2063.1 959.3,2062.2 959.6,2061.2 959.9,2060.3 960.2,2059.3 960.5,2058.4 960.8,2057.4 961.2,2056.5 961.5,2055.5 961.9,2054.6 962.3,2053.7 962.7,2052.7 963.0,2051.8 963.4,2050.9 963.8,2049.9 964.2,2049.0 964.6,2048.1 965.0,2047.2 965.4,2046.2 965.8,2045.3 966.2,2044.4 966.6,2043.4 967.0,2042.5 967.4,2041.6 967.8,2040.7 968.2,2039.7 968.6,2038.8 969.0,2037.9 969.3,2036.9 969.7,2036.0 970.1,2035.1 970.5,2034.1 970.9,2033.2 971.2,2032.3 971.6,2031.3 972.0,2030.4 972.4,2029.5 972.7,2028.5 973.1,2027.6 973.5,2026.7 973.9,2025.7 974.3,2024.8 974.7,2023.9 975.1,2023.0 975.5,2022.0 975.9,2021.1 976.4,2020.2 976.8,2019.3 977.2,2018.4 977.7,2017.5 978.1,2016.6 978.6,2015.7 979.1,2014.8 979.6,2013.9 980.0,2013.1 980.5,2012.2 981.0,2011.3 981.5,2010.4 982.0,2009.5 982.5,2008.7 983.0,2007.8 983.5,2006.9 984.0,2006.0 984.5,2005.1 985.0,2004.3 985.5,2003.4 985.9,2002.5 986.4,2001.6 986.9,2000.7 987.3,1999.8 987.8,1998.9 988.2,1998.0 988.6,1997.1 989.1,1996.1 989.5,1995.2 989.9,1994.3 990.4,1993.4 990.8,1992.4 991.2,1991.5 991.6,1990.6 992.1,1989.7 992.5,1988.8 993.0,1987.9 993.4,1986.9 993.9,1986.1 994.3,1985.2 994.8,1984.3 995.3,1983.4 995.8,1982.5 996.3,1981.7 996.8,1980.9 997.3,1980.0 997.9,1979.2 998.5,1978.4 999.1,1977.6 999.7,1976.9 1000.4,1976.1 1001.0,1975.3 1001.7,1974.6 1002.4,1973.8 1003.1,1973.1 1003.8,1972.4 1004.5,1971.6 1005.2,1970.9 1005.9,1970.1 1006.6,1969.4 1007.3,1968.6 1007.9,1967.9 1008.6,1967.1 1009.3,1966.4 1009.9,1965.6 1010.5,1964.8 1011.1,1964.0 1011.8,1963.2 1012.4,1962.4 1013.0,1961.6 1013.6,1960.8 1014.2,1960.0 1014.8,1959.2 1015.4,1958.4 1016.1,1957.6 1016.7,1956.8 1017.3,1956.0 1017.9,1955.2 1018.6,1954.4 1019.2,1953.7 1019.9,1952.9 1020.5,1952.2 1021.2,1951.4 1021.9,1950.7 1022.6,1950.0 1023.3,1949.3 1024.0,1948.6 1024.8,1947.9 1025.5,1947.2 1026.2,1946.5 1027.0,1945.8 1027.7,1945.1 1028.5,1944.5 1029.2,1943.8 1030.0,1943.1 1030.7,1942.4 1031.5,1941.8 1032.2,1941.1 1033.0,1940.4 1033.8,1939.8 1034.5,1939.1 1035.3,1938.5 1036.1,1937.8 1036.8,1937.1 1037.6,1936.5 1038.3,1935.8 1039.1,1935.1 1039.8,1934.4 1040.6,1933.8 1041.3,1933.1 1042.1,1932.4 1042.8,1931.7 1043.5,1931.0 1044.3,1930.3 1045.0,1929.6 1045.7,1928.9 1046.5,1928.2 1047.2,1927.5 1048.0,1926.8 1048.7,1926.2 1049.4,1925.5 1050.2,1924.8 1050.9,1924.1 1051.7,1923.5 1052.5,1922.8 1053.2,1922.2 1054.0,1921.5 1054.8,1920.9 1055.6,1920.3 1056.4,1919.7 1057.2,1919.1 1058.0,1918.5 1058.8,1917.9 1059.6,1917.3 1060.4,1916.7 1061.3,1916.1 1062.1,1915.5 1062.9,1915.0 1063.8,1914.4 1064.6,1913.8 1065.5,1913.3 1066.3,1912.7 1067.2,1912.2 1068.0,1911.6 1068.9,1911.1 1069.8,1910.6 1070.6,1910.0 1071.5,1909.5 1072.4,1909.1 1073.3,1908.6 1074.2,1908.1 1075.0,1907.6 1075.9,1907.2 1076.8,1906.8 1077.7,1906.3 1078.6,1905.9 1079.5,1905.5 1080.5,1905.1 1081.4,1904.7 1082.3,1904.4 1083.2,1904.0 1084.2,1903.6 1085.1,1903.3 1086.0,1902.9 1087.0,1902.6 1087.9,1902.2 1088.9,1901.9 1089.8,1901.5 1090.8,1901.2 1091.8,1900.9 1092.7,1900.6 1093.7,1900.3 1094.7,1899.9 1095.6,1899.6 1096.6,1899.3 1097.6,1899.0 1098.5,1898.7 1099.5,1898.4 1100.5,1898.1 1101.4,1897.8 1102.4,1897.5 1103.4,1897.2 1104.3,1896.9 1105.3,1896.6 1106.3,1896.3 1107.2,1896.1 1108.2,1895.8 1109.1,1895.5 1110.1,1895.2 1111.1,1894.9 1112.1,1894.6 1113.0,1894.3 1114.0,1894.1 1115.0,1893.8 1115.9,1893.5 1116.9,1893.2 1117.9,1893.0 1118.8,1892.7 1119.8,1892.4 1120.8,1892.2 1121.8,1891.9 1122.7,1891.7 1123.7,1891.4 1124.7,1891.2 1125.7,1890.9 1126.7,1890.7 1127.6,1890.5 1128.6,1890.2 1129.6,1890.0 1130.6,1889.8 1131.6,1889.5 1132.5,1889.3 1133.5,1889.1 1134.5,1888.9 1135.5,1888.7 1136.5,1888.5 1137.5,1888.3 1138.4,1888.0 1139.4,1887.8 1140.4,1887.6 1141.4,1887.4 1142.4,1887.2 1143.4,1887.0 1144.4,1886.8 1145.4,1886.6 1146.4,1886.4 1147.3,1886.2 1148.3,1886.0 1149.3,1885.8 1150.3,1885.6 1151.3,1885.4 1152.3,1885.2 1153.3,1885.0 1154.3,1884.8 1155.3,1884.7 1156.3,1884.5 1157.3,1884.3 1158.3,1884.2 1159.3,1884.0 1160.3,1883.9 1161.3,1883.7 1162.3,1883.6 1163.3,1883.5 1164.3,1883.3 1165.3,1883.2 1166.2,1883.1 1167.2,1883.0 1168.2,1882.9 1169.2,1882.8 1170.2,1882.7 1171.2,1882.7 1172.2,1882.6 1173.2,1882.5 1174.2,1882.4 1175.2,1882.3 1176.3,1882.3 1177.3,1882.2 1178.3,1882.1 1179.3,1882.1 1180.3,1882.0 1181.3,1881.9 1182.3,1881.9 1183.3,1881.8 1184.3,1881.7 1185.3,1881.7 1186.3,1881.6 1187.3,1881.5 1188.3,1881.5 1189.3,1881.4 1190.3,1881.4 1191.3,1881.3 1192.3,1881.3 1193.3,1881.2 1194.4,1881.2 1195.4,1881.1 1196.4,1881.1 1197.4,1881.0 1198.4,1881.0 1199.4,1880.9 1200.4,1880.9 1201.4,1880.8 1202.4,1880.8 1203.4,1880.7 1204.4,1880.7 1205.4,1880.6 1206.5,1880.6 1207.5,1880.6 1208.5,1880.5 1209.5,1880.5 1210.5,1880.4 1211.5,1880.4 1212.5,1880.3 1213.5,1880.3 1214.5,1880.2 1215.5,1880.2 1216.5,1880.1 1217.5,1880.1 1218.5,1880.1 1219.5,1880.0 1220.6,1880.0 1221.6,1879.9 1222.6,1879.9 1223.6,1879.8 1224.6,1879.8 1225.6,1879.7 1226.6,1879.7 1227.6,1879.6 1228.6,1879.6 1229.6,1879.5 1230.6,1879.5 1231.6,1879.5 1232.6,1879.4 1233.6,1879.4 1234.6,1879.3 1235.7,1879.3 1236.7,1879.2 1237.7,1879.2 1238.7,1879.1 1239.7,1879.1 1240.7,1879.1 1241.7,1879.0 1242.7,1879.0 1243.7,1878.9 1244.7,1878.9 1245.7,1878.9 1246.7,1878.8 1247.7,1878.8 1248.7,1878.7 1249.7,1878.7 1250.8,1878.7 1251.8,1878.6 1252.8,1878.6 1253.8,1878.6 1254.8,1878.5 1255.8,1878.5 1256.8,1878.5 1257.8,1878.5 1258.8,1878.4 1259.8,1878.4 1260.8,1878.4 1261.8,1878.4 1262.8,1878.3 1263.8,1878.3 1264.9,1878.3 1265.9,1878.3 1266.9,1878.3 1267.9,1878.2 1268.9,1878.2 1269.9,1878.2 1270.9,1878.2 1271.9,1878.2 1272.9,1878.2 1273.9,1878.2 1274.9,1878.2 1275.9,1878.1 1276.9,1878.1 1277.9,1878.1 1279.0,1878.1 1280.0,1878.1 1281.0,1878.1 1282.0,1878.1 1283.0,1878.1 1284.0,1878.1 1285.0,1878.1 1286.0,1878.0 1287.0,1878.0 1288.0,1878.0 1289.0,1878.0 1290.0,1878.0 1291.0,1878.0 1292.1,1878.0 1293.1,1878.0 1294.1,1878.0 1295.1,1878.0 1296.1,1878.0 1297.1,1878.0 1298.1,1878.0" fill="none" stroke="#e95f14" stroke-width="3.6" stroke-linejoin="round" stroke-linecap="butt"/>
<polyline points="897.3,2235.6 898.8,2235.6 900.3,2235.6 901.7,2235.6 903.0,2235.6 904.3,2235.6 905.5,2235.6 906.7,2235.6 907.8,2235.5 908.9,2235.5 909.9,2235.5 910.9,2235.5 911.8,2235.4 912.7,2235.3 913.5,2234.5 914.2,2233.3 914.8,2232.3 915.4,2231.3 916.0,2230.3 916.5,2229.2 917.0,2228.1 917.5,2227.0 917.9,2225.9 918.4,2224.8 918.9,2223.6 919.3,2222.5 919.8,2221.4 920.2,2220.3 920.6,2219.2 921.1,2218.1 921.5,2217.0 921.9,2215.9 922.4,2214.8 922.8,2213.7 923.2,2212.5 923.6,2211.4 924.0,2210.3 924.4,2209.2 924.8,2208.0 925.2,2206.9 925.5,2205.8 925.9,2204.6 926.2,2203.5 926.6,2202.3 926.9,2201.2 927.2,2200.1 927.6,2198.9 927.9,2197.8 928.2,2196.6 928.5,2195.5 928.8,2194.3 929.1,2193.2 929.3,2192.0 929.6,2190.8 929.9,2189.7 930.2,2188.5 930.4,2187.3 930.7,2186.2 931.0,2185.0 931.2,2183.8 931.5,2182.7 931.7,2181.5 931.9,2180.3 932.2,2179.2 932.4,2178.0 932.6,2176.8 932.9,2175.6 933.1,2174.5 933.3,2173.3 933.5,2172.1 933.7,2171.0 933.9,2169.8 934.1,2168.6 934.3,2167.4 934.5,2166.3 934.7,2165.1 934.9,2163.9 935.1,2162.7 935.2,2161.5 935.4,2160.4 935.6,2159.2 935.7,2158.0 935.9,2156.8 936.1,2155.6 936.2,2154.5 936.4,2153.3 936.5,2152.1 936.7,2150.9 936.9,2149.7 937.0,2148.5 937.2,2147.4 937.4,2146.2 937.5,2145.0 937.7,2143.8 937.9,2142.6 938.1,2141.5 938.3,2140.3 938.5,2139.1 938.7,2137.9 938.9,2136.8 939.1,2135.6 939.3,2134.4 939.5,2133.2 939.7,2132.1 940.0,2130.9 940.2,2129.7 940.4,2128.5 940.6,2127.4 940.9,2126.2 941.1,2125.0 941.3,2123.9 941.6,2122.7 941.8,2121.5 942.1,2120.4 942.3,2119.2 942.6,2118.0 942.8,2116.9 943.1,2115.7 943.4,2114.5 943.6,2113.4 943.9,2112.2 944.2,2111.1 944.5,2109.9 944.8,2108.8 945.1,2107.6 945.4,2106.4 945.7,2105.3 946.0,2104.1 946.3,2103.0 946.6,2101.8 946.9,2100.7 947.3,2099.5 947.6,2098.4 947.9,2097.2 948.2,2096.1 948.6,2095.0 948.9,2093.8 949.2,2092.7 949.5,2091.5 949.9,2090.4 950.2,2089.2 950.5,2088.1 950.9,2086.9 951.2,2085.8 951.5,2084.6 951.9,2083.5 952.2,2082.4 952.6,2081.2 952.9,2080.1 953.3,2078.9 953.6,2077.8 954.0,2076.6 954.3,2075.5 954.6,2074.4 955.0,2073.2 955.3,2072.1 955.7,2070.9 956.0,2069.8 956.3,2068.6 956.7,2067.5 957.0,2066.3 957.3,2065.2 957.7,2064.1 958.0,2062.9 958.4,2061.8 958.7,2060.6 959.1,2059.5 959.5,2058.4 959.9,2057.3 960.3,2056.2 960.7,2055.0 961.2,2053.9 961.6,2052.8 962.1,2051.7 962.5,2050.6 963.0,2049.5 963.5,2048.4 963.9,2047.3 964.4,2046.2 964.9,2045.1 965.4,2044.0 965.8,2042.9 966.3,2041.8 966.8,2040.7 967.2,2039.6 967.7,2038.5 968.1,2037.4 968.6,2036.3 969.0,2035.2 969.5,2034.1 969.9,2033.0 970.4,2031.9 970.8,2030.8 971.3,2029.7 971.7,2028.6 972.2,2027.5 972.6,2026.4 973.1,2025.3 973.6,2024.2 974.0,2023.1 974.5,2022.0 975.0,2020.9 975.5,2019.8 976.0,2018.8 976.6,2017.7 977.1,2016.7 977.7,2015.6 978.3,2014.6 978.8,2013.5 979.4,2012.5 980.0,2011.4 980.6,2010.4 981.2,2009.4 981.8,2008.3 982.4,2007.3 982.9,2006.2 983.5,2005.2 984.1,2004.1 984.6,2003.1 985.2,2002.0 985.7,2001.0 986.2,1999.9 986.7,1998.8 987.2,1997.7 987.7,1996.6 988.2,1995.5 988.6,1994.4 989.1,1993.2 989.6,1992.1 990.0,1991.0 990.5,1989.9 991.0,1988.8 991.4,1987.7 991.9,1986.6 992.4,1985.5 992.9,1984.4 993.4,1983.3 994.0,1982.3 994.5,1981.2 995.1,1980.2 995.6,1979.2 996.2,1978.2 996.9,1977.2 997.5,1976.3 998.2,1975.3 999.0,1974.4 999.7,1973.5 1000.5,1972.6 1001.3,1971.7 1002.1,1970.8 1003.0,1969.9 1003.8,1969.1 1004.6,1968.2 1005.5,1967.3 1006.3,1966.5 1007.1,1965.6 1008.0,1964.7 1008.8,1963.9 1009.6,1963.0 1010.4,1962.1 1011.2,1961.3 1012.1,1960.4 1012.9,1959.5 1013.7,1958.7 1014.6,1957.8 1015.4,1957.0 1016.3,1956.2 1017.1,1955.3 1018.0,1954.5 1018.9,1953.7 1019.7,1952.9 1020.6,1952.1 1021.5,1951.3 1022.4,1950.5 1023.3,1949.7 1024.2,1948.9 1025.1,1948.2 1026.0,1947.4 1027.0,1946.7 1027.9,1945.9 1028.8,1945.2 1029.8,1944.4 1030.7,1943.7 1031.6,1943.0 1032.6,1942.2 1033.6,1941.5 1034.5,1940.8 1035.5,1940.1 1036.4,1939.4 1037.4,1938.7 1038.3,1938.0 1039.3,1937.3 1040.3,1936.6 1041.3,1935.9 1042.2,1935.2 1043.2,1934.5 1044.2,1933.8 1045.2,1933.2 1046.2,1932.5 1047.2,1931.8 1048.2,1931.2 1049.2,1930.5 1050.2,1929.9 1051.2,1929.2 1052.2,1928.6 1053.2,1928.0 1054.2,1927.4 1055.2,1926.8 1056.3,1926.2 1057.3,1925.6 1058.3,1925.0 1059.4,1924.4 1060.4,1923.8 1061.5,1923.2 1062.5,1922.7 1063.6,1922.1 1064.6,1921.5 1065.7,1921.0 1066.8,1920.4 1067.8,1919.9 1068.9,1919.4 1070.0,1918.9 1071.1,1918.4 1072.2,1917.9 1073.3,1917.4 1074.4,1916.9 1075.4,1916.4 1076.5,1916.0 1077.6,1915.6 1078.8,1915.2 1079.9,1914.8 1081.0,1914.4 1082.1,1914.0 1083.2,1913.6 1084.4,1913.2 1085.5,1912.8 1086.6,1912.5 1087.8,1912.1 1088.9,1911.8 1090.1,1911.4 1091.2,1911.1 1092.4,1910.7 1093.5,1910.4 1094.7,1910.1 1095.8,1909.8 1097.0,1909.5 1098.1,1909.1 1099.3,1908.8 1100.4,1908.5 1101.6,1908.3 1102.8,1908.0 1103.9,1907.7 1105.1,1907.4 1106.2,1907.1 1107.4,1906.9 1108.6,1906.6 1109.7,1906.4 1110.9,1906.1 1112.1,1905.9 1113.2,1905.6 1114.4,1905.4 1115.6,1905.2 1116.7,1904.9 1117.9,1904.7 1119.1,1904.5 1120.3,1904.2 1121.4,1904.0 1122.6,1903.8 1123.8,1903.6 1124.9,1903.4 1126.1,1903.1 1127.3,1902.9 1128.5,1902.7 1129.6,1902.5 1130.8,1902.2 1132.0,1902.0 1133.1,1901.8 1134.3,1901.6 1135.5,1901.3 1136.7,1901.1 1137.8,1900.9 1139.0,1900.6 1140.2,1900.4 1141.3,1900.2 1142.5,1899.9 1143.7,1899.7 1144.9,1899.5 1146.0,1899.3 1147.2,1899.0 1148.4,1898.8 1149.6,1898.6 1150.7,1898.4 1151.9,1898.2 1153.1,1898.0 1154.3,1897.8 1155.4,1897.6 1156.6,1897.4 1157.8,1897.2 1159.0,1897.0 1160.1,1896.8 1161.3,1896.6 1162.5,1896.5 1163.7,1896.3 1164.8,1896.2 1166.0,1896.0 1167.2,1895.9 1168.4,1895.7 1169.6,1895.6 1170.8,1895.5 1171.9,1895.3 1173.1,1895.2 1174.3,1895.1 1175.5,1895.0 1176.7,1894.9 1177.9,1894.8 1179.1,1894.6 1180.3,1894.5 1181.4,1894.4 1182.6,1894.3 1183.8,1894.2 1185.0,1894.1 1186.2,1894.0 1187.4,1893.9 1188.6,1893.8 1189.8,1893.7 1191.0,1893.6 1192.2,1893.5 1193.3,1893.4 1194.5,1893.3 1195.7,1893.1 1196.9,1893.0 1198.1,1892.9 1199.3,1892.8 1200.5,1892.6 1201.6,1892.5 1202.8,1892.3 1204.0,1892.2 1205.2,1892.0 1206.4,1891.9 1207.5,1891.7 1208.7,1891.5 1209.9,1891.3 1211.1,1891.2 1212.2,1891.0 1213.4,1890.8 1214.6,1890.6 1215.8,1890.4 1216.9,1890.2 1218.1,1889.9 1219.3,1889.7 1220.5,1889.5 1221.6,1889.3 1222.8,1889.1 1224.0,1888.9 1225.2,1888.7 1226.3,1888.4 1227.5,1888.2 1228.7,1888.0 1229.9,1887.8 1231.0,1887.6 1232.2,1887.3 1233.4,1887.1 1234.6,1886.9 1235.7,1886.7 1236.9,1886.5 1238.1,1886.3 1239.3,1886.1 1240.4,1885.9 1241.6,1885.7 1242.8,1885.5 1244.0,1885.3 1245.1,1885.2 1246.3,1885.0 1247.5,1884.7 1248.7,1884.5 1249.9,1884.3 1251.0,1884.1 1252.2,1883.9 1253.4,1883.7 1254.6,1883.5 1255.7,1883.3 1256.9,1883.1 1258.1,1882.9 1259.3,1882.7 1260.5,1882.5 1261.6,1882.3 1262.8,1882.1 1264.0,1881.9 1265.2,1881.8 1266.4,1881.6 1267.5,1881.4 1268.7,1881.3 1269.9,1881.1 1271.1,1881.0 1272.3,1880.8 1273.4,1880.7 1274.6,1880.6 1275.8,1880.5 1277.0,1880.4 1278.2,1880.3 1279.4,1880.2 1280.6,1880.1 1281.7,1880.0 1282.9,1880.0 1284.1,1879.9 1285.3,1879.8 1286.5,1879.7 1287.7,1879.7 1288.9,1879.6 1290.1,1879.5 1291.3,1879.5 1292.4,1879.4 1293.6,1879.3 1294.8,1879.3 1296.0,1879.2 1297.2,1879.2 1298.4,1879.1 1299.6,1879.1 1300.8,1879.0 1302.0,1879.0 1303.2,1878.9 1304.4,1878.9 1305.6,1878.8 1306.8,1878.8 1308.0,1878.8 1309.1,1878.7 1310.3,1878.7 1311.5,1878.7 1312.7,1878.7 1313.9,1878.6 1315.1,1878.6 1316.3,1878.6 1317.5,1878.6 1318.7,1878.6 1319.9,1878.6 1321.1,1878.6 1322.3,1878.5 1323.5,1878.5 1324.7,1878.5 1325.8,1878.5 1327.0,1878.5 1328.2,1878.5 1329.4,1878.5 1330.6,1878.5 1331.8,1878.5 1333.0,1878.5 1334.2,1878.4 1335.4,1878.4 1336.6,1878.4 1337.8,1878.4 1339.0,1878.4 1340.1,1878.4 1341.3,1878.4 1342.5,1878.4 1343.7,1878.4 1344.9,1878.4 1346.1,1878.4 1347.3,1878.4 1348.5,1878.3 1349.7,1878.3 1350.9,1878.3 1352.1,1878.3 1353.3,1878.3 1354.5,1878.3 1355.6,1878.3 1356.8,1878.3 1358.0,1878.3 1359.2,1878.3 1360.4,1878.3 1361.6,1878.3 1362.8,1878.3 1364.0,1878.3 1365.2,1878.3 1366.4,1878.3 1367.6,1878.3 1368.8,1878.3 1370.0,1878.2 1371.2,1878.2 1372.3,1878.2 1373.5,1878.2 1374.7,1878.2 1375.9,1878.2 1377.1,1878.2 1378.3,1878.2 1379.5,1878.2 1380.7,1878.2 1381.9,1878.2 1383.1,1878.2 1384.3,1878.2 1385.5,1878.2 1386.7,1878.2 1387.9,1878.2 1389.0,1878.2 1390.2,1878.2 1391.4,1878.2 1392.6,1878.2 1393.8,1878.2 1395.0,1878.2 1396.2,1878.2 1397.4,1878.2" fill="none" stroke="#4d4d4d" stroke-width="3.6" stroke-linejoin="round" stroke-linecap="butt"/>
<line x1="1074.4" y1="1969.6" x2="1074.4" y2="2225.0" stroke="#000" stroke-width="3.3" stroke-linecap="round"/>
<line x1="1063.8" y1="2223.5" x2="1074.4" y2="2223.5" stroke="#000" stroke-width="3.3" stroke-linecap="round"/>
<text x="1059.4" y="2225.7" font-family='"Liberation Sans", sans-serif' font-size="19.5" font-weight="bold" text-anchor="end" fill="#000">0</text>
<line x1="1063.8" y1="2173.4" x2="1074.4" y2="2173.4" stroke="#000" stroke-width="3.3" stroke-linecap="round"/>
<text x="1059.1" y="2175.4" font-family='"Liberation Sans", sans-serif' font-size="19.5" font-weight="bold" text-anchor="end" fill="#000">5</text>
<line x1="1063.8" y1="2122.6" x2="1074.4" y2="2122.6" stroke="#000" stroke-width="3.3" stroke-linecap="round"/>
<text x="1059.4" y="2122.3" font-family='"Liberation Sans", sans-serif' font-size="19.5" font-weight="bold" text-anchor="end" fill="#000">10</text>
<line x1="1063.8" y1="2072.3" x2="1074.4" y2="2072.3" stroke="#000" stroke-width="3.3" stroke-linecap="round"/>
<text x="1062.0" y="2079.0" font-family='"Liberation Sans", sans-serif' font-size="19.5" font-weight="bold" text-anchor="end" fill="#000">15</text>
<line x1="1063.8" y1="2021.8" x2="1074.4" y2="2021.8" stroke="#000" stroke-width="3.3" stroke-linecap="round"/>
<text x="1059.7" y="2021.0" font-family='"Liberation Sans", sans-serif' font-size="19.5" font-weight="bold" text-anchor="end" fill="#000">20</text>
<line x1="1063.8" y1="1971.1" x2="1074.4" y2="1971.1" stroke="#000" stroke-width="3.3" stroke-linecap="round"/>
<text x="1059.8" y="1970.7" font-family='"Liberation Sans", sans-serif' font-size="19.5" font-weight="bold" text-anchor="end" fill="#000">25</text>
<text transform="translate(1028.5,2186.9) rotate(-90)" x="0" y="0" font-family='"Liberation Sans", sans-serif' font-size="27.12" font-weight="normal" text-anchor="start" fill="#000" textLength="194.0" lengthAdjust="spacingAndGlyphs" stroke="#000" stroke-width="0.6" stroke-linejoin="round">Amplitude (pA)</text>
<rect x="1098.4" y="2069.7" width="43.0" height="71.1" fill="none" stroke="#4d4d4d" stroke-width="3.0"/>
<line x1="1097.4" y1="2121.0" x2="1142.4" y2="2121.0" stroke="#4d4d4d" stroke-width="3.0" stroke-linecap="round"/>
<line x1="1120.2" y1="2069.7" x2="1120.2" y2="1993.9" stroke="#4d4d4d" stroke-width="3.0" stroke-linecap="butt"/>
<line x1="1120.2" y1="2140.8" x2="1120.2" y2="2171.1" stroke="#4d4d4d" stroke-width="3.0" stroke-linecap="butt"/>
<line x1="1108.4" y1="1993.9" x2="1132.0" y2="1993.9" stroke="#4d4d4d" stroke-width="3.0" stroke-linecap="round"/>
<line x1="1108.4" y1="2171.1" x2="1132.0" y2="2171.1" stroke="#4d4d4d" stroke-width="3.0" stroke-linecap="round"/>
<rect x="1166.5" y="2084.9" width="43.8" height="67.5" fill="none" stroke="#e95f14" stroke-width="3.0"/>
<line x1="1165.5" y1="2131.7" x2="1211.3" y2="2131.7" stroke="#e95f14" stroke-width="3.0" stroke-linecap="round"/>
<line x1="1188.5" y1="2084.9" x2="1188.5" y2="2015.9" stroke="#e95f14" stroke-width="3.0" stroke-linecap="butt"/>
<line x1="1188.5" y1="2152.4" x2="1188.5" y2="2155.7" stroke="#e95f14" stroke-width="3.0" stroke-linecap="butt"/>
<line x1="1176.4" y1="2015.9" x2="1200.6" y2="2015.9" stroke="#e95f14" stroke-width="3.0" stroke-linecap="round"/>
<line x1="1176.4" y1="2155.7" x2="1200.6" y2="2155.7" stroke="#e95f14" stroke-width="3.0" stroke-linecap="round"/>
<polyline points="1116.6,1974.6 1116.6,1948.4 1185.5,1948.4 1185.5,2001.0" fill="none" stroke="#000" stroke-width="3.6" stroke-linejoin="miter"/>
<text x="1113.6" y="1938.8" font-family='"Liberation Serif", serif' font-size="26.07" font-weight="bold" text-anchor="start" fill="#000" textLength="73.3" lengthAdjust="spacingAndGlyphs">P=0.21</text>
<rect x="1269.7" y="1955.8" width="24.8" height="11.7" fill="none" stroke="#4d4d4d" stroke-width="3"/>
<rect x="1269.7" y="1989.8" width="24.8" height="11.7" fill="none" stroke="#e95f14" stroke-width="3"/>
<text x="1309.0" y="1968.7" font-family='"Liberation Sans", sans-serif' font-size="20.5" font-weight="normal" text-anchor="start" fill="#000" textLength="95.6" lengthAdjust="spacingAndGlyphs" stroke="#000" stroke-width="0.4" stroke-linejoin="round">Con (13,3)</text>
<text x="1309.3" y="2002.7" font-family='"Liberation Sans", sans-serif' font-size="20.5" font-weight="normal" text-anchor="start" fill="#000" textLength="87.0" lengthAdjust="spacingAndGlyphs" stroke="#000" stroke-width="0.4" stroke-linejoin="round">ZO (13,3)</text>
</svg>
</body></html>
